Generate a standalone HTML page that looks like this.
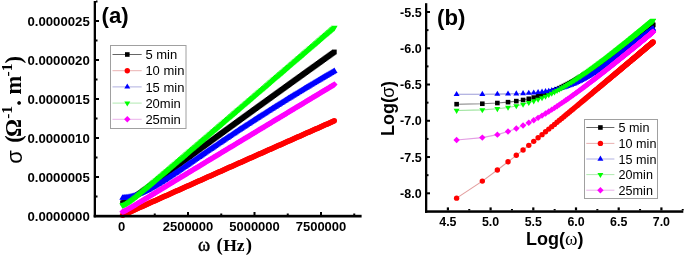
<!DOCTYPE html>
<html><head><meta charset="utf-8"><style>
*{margin:0;padding:0}
html,body{width:685px;height:256px;background:#fff;overflow:hidden}
svg{display:block;will-change:transform}
text{font-family:"Liberation Sans",sans-serif}
.tk{font-size:13px;font-weight:bold}
.pl{font-size:22.2px;font-weight:bold}
.ttl{font-size:18px;font-weight:bold}
.ser{font-family:"Liberation Serif",serif;font-weight:normal}
.ttl2{font-family:"Liberation Serif",serif;font-size:21px;font-weight:bold}
.lg{font-size:13px}
.sb{font-family:"Liberation Serif",serif;font-weight:bold}
.sr{font-family:"Liberation Sans",sans-serif;font-weight:normal}
</style></head>
<body><svg width="685" height="256" viewBox="0 0 685 256">
<g>
<path d="M122.56 202.79 L123.63 202.60 L124.69 202.30 L125.76 201.91 L126.82 201.44 L127.88 200.90 L128.95 200.32 L130.01 199.70 L131.08 199.04 L132.14 198.37 L133.20 197.67 L134.27 196.96 L135.33 196.24 L136.40 195.50 L137.46 194.76 L138.52 194.01 L139.59 193.26 L140.65 192.50 L141.72 191.74 L142.78 190.97 L143.84 190.20 L144.91 189.43 L145.97 188.66 L147.04 187.88 L148.10 187.11 L149.16 186.33 L150.23 185.55 L151.29 184.77 L152.36 183.99 L153.42 183.21 L154.48 182.43 L155.55 181.65 L156.61 180.87 L157.68 180.08 L158.74 179.30 L159.80 178.52 L160.87 177.74 L161.93 176.95 L163.00 176.17 L164.06 175.39 L165.12 174.60 L166.19 173.82 L167.25 173.04 L168.32 172.26 L169.38 171.47 L170.44 170.69 L171.51 169.91 L172.57 169.12 L173.64 168.34 L174.70 167.56 L175.76 166.78 L176.83 166.00 L177.89 165.21 L178.96 164.43 L180.02 163.65 L181.08 162.87 L182.15 162.09 L183.21 161.31 L184.28 160.53 L185.34 159.74 L186.40 158.96 L187.47 158.18 L188.53 157.40 L189.60 156.62 L190.66 155.84 L191.72 155.06 L192.79 154.28 L193.85 153.50 L194.92 152.73 L195.98 151.95 L197.04 151.17 L198.11 150.39 L199.17 149.61 L200.24 148.83 L201.30 148.05 L202.36 147.28 L203.43 146.50 L204.49 145.72 L205.56 144.94 L206.62 144.17 L207.68 143.39 L208.75 142.61 L209.81 141.84 L210.88 141.06 L211.94 140.28 L213.00 139.51 L214.07 138.73 L215.13 137.96 L216.20 137.18 L217.26 136.41 L218.32 135.63 L219.39 134.86 L220.45 134.08 L221.52 133.31 L222.58 132.53 L223.64 131.76 L224.71 130.98 L225.77 130.21 L226.84 129.44 L227.90 128.66 L228.96 127.89 L230.03 127.12 L231.09 126.34 L232.16 125.57 L233.22 124.80 L234.28 124.02 L235.35 123.25 L236.41 122.48 L237.48 121.71 L238.54 120.93 L239.60 120.16 L240.67 119.39 L241.73 118.62 L242.80 117.85 L243.86 117.08 L244.92 116.31 L245.99 115.53 L247.05 114.76 L248.12 113.99 L249.18 113.22 L250.24 112.45 L251.31 111.68 L252.37 110.91 L253.44 110.14 L254.50 109.37 L255.56 108.60 L256.63 107.83 L257.69 107.06 L258.76 106.29 L259.82 105.52 L260.88 104.76 L261.95 103.99 L263.01 103.22 L264.08 102.45 L265.14 101.68 L266.20 100.91 L267.27 100.14 L268.33 99.38 L269.40 98.61 L270.46 97.84 L271.52 97.07 L272.59 96.30 L273.65 95.54 L274.72 94.77 L275.78 94.00 L276.84 93.24 L277.91 92.47 L278.97 91.70 L280.04 90.93 L281.10 90.17 L282.16 89.40 L283.23 88.64 L284.29 87.87 L285.36 87.10 L286.42 86.34 L287.48 85.57 L288.55 84.81 L289.61 84.04 L290.68 83.27 L291.74 82.51 L292.80 81.74 L293.87 80.98 L294.93 80.21 L296.00 79.45 L297.06 78.68 L298.12 77.92 L299.19 77.15 L300.25 76.39 L301.32 75.62 L302.38 74.86 L303.44 74.10 L304.51 73.33 L305.57 72.57 L306.64 71.80 L307.70 71.04 L308.76 70.28 L309.83 69.51 L310.89 68.75 L311.96 67.99 L313.02 67.22 L314.08 66.46 L315.15 65.70 L316.21 64.93 L317.28 64.17 L318.34 63.41 L319.40 62.65 L320.47 61.88 L321.53 61.12 L322.60 60.36 L323.66 59.60 L324.72 58.83 L325.79 58.07 L326.85 57.31 L327.92 56.55 L328.98 55.79 L330.04 55.02 L331.11 54.26 L332.17 53.50 L333.24 52.74 L334.30 51.98" stroke="#000000" stroke-width="1" fill="none"/>
<rect x="120.16" y="200.39" width="4.80" height="4.80" fill="#000000"/>
<rect x="121.23" y="200.20" width="4.80" height="4.80" fill="#000000"/>
<rect x="122.29" y="199.90" width="4.80" height="4.80" fill="#000000"/>
<rect x="123.36" y="199.51" width="4.80" height="4.80" fill="#000000"/>
<rect x="124.42" y="199.04" width="4.80" height="4.80" fill="#000000"/>
<rect x="125.48" y="198.50" width="4.80" height="4.80" fill="#000000"/>
<rect x="126.55" y="197.92" width="4.80" height="4.80" fill="#000000"/>
<rect x="127.61" y="197.30" width="4.80" height="4.80" fill="#000000"/>
<rect x="128.68" y="196.64" width="4.80" height="4.80" fill="#000000"/>
<rect x="129.74" y="195.97" width="4.80" height="4.80" fill="#000000"/>
<rect x="130.80" y="195.27" width="4.80" height="4.80" fill="#000000"/>
<rect x="131.87" y="194.56" width="4.80" height="4.80" fill="#000000"/>
<rect x="132.93" y="193.84" width="4.80" height="4.80" fill="#000000"/>
<rect x="134.00" y="193.10" width="4.80" height="4.80" fill="#000000"/>
<rect x="135.06" y="192.36" width="4.80" height="4.80" fill="#000000"/>
<rect x="136.12" y="191.61" width="4.80" height="4.80" fill="#000000"/>
<rect x="137.19" y="190.86" width="4.80" height="4.80" fill="#000000"/>
<rect x="138.25" y="190.10" width="4.80" height="4.80" fill="#000000"/>
<rect x="139.32" y="189.34" width="4.80" height="4.80" fill="#000000"/>
<rect x="140.38" y="188.57" width="4.80" height="4.80" fill="#000000"/>
<rect x="141.44" y="187.80" width="4.80" height="4.80" fill="#000000"/>
<rect x="142.51" y="187.03" width="4.80" height="4.80" fill="#000000"/>
<rect x="143.57" y="186.26" width="4.80" height="4.80" fill="#000000"/>
<rect x="144.64" y="185.48" width="4.80" height="4.80" fill="#000000"/>
<rect x="145.70" y="184.71" width="4.80" height="4.80" fill="#000000"/>
<rect x="146.76" y="183.93" width="4.80" height="4.80" fill="#000000"/>
<rect x="147.83" y="183.15" width="4.80" height="4.80" fill="#000000"/>
<rect x="148.89" y="182.37" width="4.80" height="4.80" fill="#000000"/>
<rect x="149.96" y="181.59" width="4.80" height="4.80" fill="#000000"/>
<rect x="151.02" y="180.81" width="4.80" height="4.80" fill="#000000"/>
<rect x="152.08" y="180.03" width="4.80" height="4.80" fill="#000000"/>
<rect x="153.15" y="179.25" width="4.80" height="4.80" fill="#000000"/>
<rect x="154.21" y="178.47" width="4.80" height="4.80" fill="#000000"/>
<rect x="155.28" y="177.68" width="4.80" height="4.80" fill="#000000"/>
<rect x="156.34" y="176.90" width="4.80" height="4.80" fill="#000000"/>
<rect x="157.40" y="176.12" width="4.80" height="4.80" fill="#000000"/>
<rect x="158.47" y="175.34" width="4.80" height="4.80" fill="#000000"/>
<rect x="159.53" y="174.55" width="4.80" height="4.80" fill="#000000"/>
<rect x="160.60" y="173.77" width="4.80" height="4.80" fill="#000000"/>
<rect x="161.66" y="172.99" width="4.80" height="4.80" fill="#000000"/>
<rect x="162.72" y="172.20" width="4.80" height="4.80" fill="#000000"/>
<rect x="163.79" y="171.42" width="4.80" height="4.80" fill="#000000"/>
<rect x="164.85" y="170.64" width="4.80" height="4.80" fill="#000000"/>
<rect x="165.92" y="169.86" width="4.80" height="4.80" fill="#000000"/>
<rect x="166.98" y="169.07" width="4.80" height="4.80" fill="#000000"/>
<rect x="168.04" y="168.29" width="4.80" height="4.80" fill="#000000"/>
<rect x="169.11" y="167.51" width="4.80" height="4.80" fill="#000000"/>
<rect x="170.17" y="166.72" width="4.80" height="4.80" fill="#000000"/>
<rect x="171.24" y="165.94" width="4.80" height="4.80" fill="#000000"/>
<rect x="172.30" y="165.16" width="4.80" height="4.80" fill="#000000"/>
<rect x="173.36" y="164.38" width="4.80" height="4.80" fill="#000000"/>
<rect x="174.43" y="163.60" width="4.80" height="4.80" fill="#000000"/>
<rect x="175.49" y="162.81" width="4.80" height="4.80" fill="#000000"/>
<rect x="176.56" y="162.03" width="4.80" height="4.80" fill="#000000"/>
<rect x="177.62" y="161.25" width="4.80" height="4.80" fill="#000000"/>
<rect x="178.68" y="160.47" width="4.80" height="4.80" fill="#000000"/>
<rect x="179.75" y="159.69" width="4.80" height="4.80" fill="#000000"/>
<rect x="180.81" y="158.91" width="4.80" height="4.80" fill="#000000"/>
<rect x="181.88" y="158.13" width="4.80" height="4.80" fill="#000000"/>
<rect x="182.94" y="157.34" width="4.80" height="4.80" fill="#000000"/>
<rect x="184.00" y="156.56" width="4.80" height="4.80" fill="#000000"/>
<rect x="185.07" y="155.78" width="4.80" height="4.80" fill="#000000"/>
<rect x="186.13" y="155.00" width="4.80" height="4.80" fill="#000000"/>
<rect x="187.20" y="154.22" width="4.80" height="4.80" fill="#000000"/>
<rect x="188.26" y="153.44" width="4.80" height="4.80" fill="#000000"/>
<rect x="189.32" y="152.66" width="4.80" height="4.80" fill="#000000"/>
<rect x="190.39" y="151.88" width="4.80" height="4.80" fill="#000000"/>
<rect x="191.45" y="151.10" width="4.80" height="4.80" fill="#000000"/>
<rect x="192.52" y="150.33" width="4.80" height="4.80" fill="#000000"/>
<rect x="193.58" y="149.55" width="4.80" height="4.80" fill="#000000"/>
<rect x="194.64" y="148.77" width="4.80" height="4.80" fill="#000000"/>
<rect x="195.71" y="147.99" width="4.80" height="4.80" fill="#000000"/>
<rect x="196.77" y="147.21" width="4.80" height="4.80" fill="#000000"/>
<rect x="197.84" y="146.43" width="4.80" height="4.80" fill="#000000"/>
<rect x="198.90" y="145.65" width="4.80" height="4.80" fill="#000000"/>
<rect x="199.96" y="144.88" width="4.80" height="4.80" fill="#000000"/>
<rect x="201.03" y="144.10" width="4.80" height="4.80" fill="#000000"/>
<rect x="202.09" y="143.32" width="4.80" height="4.80" fill="#000000"/>
<rect x="203.16" y="142.54" width="4.80" height="4.80" fill="#000000"/>
<rect x="204.22" y="141.77" width="4.80" height="4.80" fill="#000000"/>
<rect x="205.28" y="140.99" width="4.80" height="4.80" fill="#000000"/>
<rect x="206.35" y="140.21" width="4.80" height="4.80" fill="#000000"/>
<rect x="207.41" y="139.44" width="4.80" height="4.80" fill="#000000"/>
<rect x="208.48" y="138.66" width="4.80" height="4.80" fill="#000000"/>
<rect x="209.54" y="137.88" width="4.80" height="4.80" fill="#000000"/>
<rect x="210.60" y="137.11" width="4.80" height="4.80" fill="#000000"/>
<rect x="211.67" y="136.33" width="4.80" height="4.80" fill="#000000"/>
<rect x="212.73" y="135.56" width="4.80" height="4.80" fill="#000000"/>
<rect x="213.80" y="134.78" width="4.80" height="4.80" fill="#000000"/>
<rect x="214.86" y="134.01" width="4.80" height="4.80" fill="#000000"/>
<rect x="215.92" y="133.23" width="4.80" height="4.80" fill="#000000"/>
<rect x="216.99" y="132.46" width="4.80" height="4.80" fill="#000000"/>
<rect x="218.05" y="131.68" width="4.80" height="4.80" fill="#000000"/>
<rect x="219.12" y="130.91" width="4.80" height="4.80" fill="#000000"/>
<rect x="220.18" y="130.13" width="4.80" height="4.80" fill="#000000"/>
<rect x="221.24" y="129.36" width="4.80" height="4.80" fill="#000000"/>
<rect x="222.31" y="128.58" width="4.80" height="4.80" fill="#000000"/>
<rect x="223.37" y="127.81" width="4.80" height="4.80" fill="#000000"/>
<rect x="224.44" y="127.04" width="4.80" height="4.80" fill="#000000"/>
<rect x="225.50" y="126.26" width="4.80" height="4.80" fill="#000000"/>
<rect x="226.56" y="125.49" width="4.80" height="4.80" fill="#000000"/>
<rect x="227.63" y="124.72" width="4.80" height="4.80" fill="#000000"/>
<rect x="228.69" y="123.94" width="4.80" height="4.80" fill="#000000"/>
<rect x="229.76" y="123.17" width="4.80" height="4.80" fill="#000000"/>
<rect x="230.82" y="122.40" width="4.80" height="4.80" fill="#000000"/>
<rect x="231.88" y="121.62" width="4.80" height="4.80" fill="#000000"/>
<rect x="232.95" y="120.85" width="4.80" height="4.80" fill="#000000"/>
<rect x="234.01" y="120.08" width="4.80" height="4.80" fill="#000000"/>
<rect x="235.08" y="119.31" width="4.80" height="4.80" fill="#000000"/>
<rect x="236.14" y="118.53" width="4.80" height="4.80" fill="#000000"/>
<rect x="237.20" y="117.76" width="4.80" height="4.80" fill="#000000"/>
<rect x="238.27" y="116.99" width="4.80" height="4.80" fill="#000000"/>
<rect x="239.33" y="116.22" width="4.80" height="4.80" fill="#000000"/>
<rect x="240.40" y="115.45" width="4.80" height="4.80" fill="#000000"/>
<rect x="241.46" y="114.68" width="4.80" height="4.80" fill="#000000"/>
<rect x="242.52" y="113.91" width="4.80" height="4.80" fill="#000000"/>
<rect x="243.59" y="113.13" width="4.80" height="4.80" fill="#000000"/>
<rect x="244.65" y="112.36" width="4.80" height="4.80" fill="#000000"/>
<rect x="245.72" y="111.59" width="4.80" height="4.80" fill="#000000"/>
<rect x="246.78" y="110.82" width="4.80" height="4.80" fill="#000000"/>
<rect x="247.84" y="110.05" width="4.80" height="4.80" fill="#000000"/>
<rect x="248.91" y="109.28" width="4.80" height="4.80" fill="#000000"/>
<rect x="249.97" y="108.51" width="4.80" height="4.80" fill="#000000"/>
<rect x="251.04" y="107.74" width="4.80" height="4.80" fill="#000000"/>
<rect x="252.10" y="106.97" width="4.80" height="4.80" fill="#000000"/>
<rect x="253.16" y="106.20" width="4.80" height="4.80" fill="#000000"/>
<rect x="254.23" y="105.43" width="4.80" height="4.80" fill="#000000"/>
<rect x="255.29" y="104.66" width="4.80" height="4.80" fill="#000000"/>
<rect x="256.36" y="103.89" width="4.80" height="4.80" fill="#000000"/>
<rect x="257.42" y="103.12" width="4.80" height="4.80" fill="#000000"/>
<rect x="258.48" y="102.36" width="4.80" height="4.80" fill="#000000"/>
<rect x="259.55" y="101.59" width="4.80" height="4.80" fill="#000000"/>
<rect x="260.61" y="100.82" width="4.80" height="4.80" fill="#000000"/>
<rect x="261.68" y="100.05" width="4.80" height="4.80" fill="#000000"/>
<rect x="262.74" y="99.28" width="4.80" height="4.80" fill="#000000"/>
<rect x="263.80" y="98.51" width="4.80" height="4.80" fill="#000000"/>
<rect x="264.87" y="97.74" width="4.80" height="4.80" fill="#000000"/>
<rect x="265.93" y="96.98" width="4.80" height="4.80" fill="#000000"/>
<rect x="267.00" y="96.21" width="4.80" height="4.80" fill="#000000"/>
<rect x="268.06" y="95.44" width="4.80" height="4.80" fill="#000000"/>
<rect x="269.12" y="94.67" width="4.80" height="4.80" fill="#000000"/>
<rect x="270.19" y="93.90" width="4.80" height="4.80" fill="#000000"/>
<rect x="271.25" y="93.14" width="4.80" height="4.80" fill="#000000"/>
<rect x="272.32" y="92.37" width="4.80" height="4.80" fill="#000000"/>
<rect x="273.38" y="91.60" width="4.80" height="4.80" fill="#000000"/>
<rect x="274.44" y="90.84" width="4.80" height="4.80" fill="#000000"/>
<rect x="275.51" y="90.07" width="4.80" height="4.80" fill="#000000"/>
<rect x="276.57" y="89.30" width="4.80" height="4.80" fill="#000000"/>
<rect x="277.64" y="88.53" width="4.80" height="4.80" fill="#000000"/>
<rect x="278.70" y="87.77" width="4.80" height="4.80" fill="#000000"/>
<rect x="279.76" y="87.00" width="4.80" height="4.80" fill="#000000"/>
<rect x="280.83" y="86.24" width="4.80" height="4.80" fill="#000000"/>
<rect x="281.89" y="85.47" width="4.80" height="4.80" fill="#000000"/>
<rect x="282.96" y="84.70" width="4.80" height="4.80" fill="#000000"/>
<rect x="284.02" y="83.94" width="4.80" height="4.80" fill="#000000"/>
<rect x="285.08" y="83.17" width="4.80" height="4.80" fill="#000000"/>
<rect x="286.15" y="82.41" width="4.80" height="4.80" fill="#000000"/>
<rect x="287.21" y="81.64" width="4.80" height="4.80" fill="#000000"/>
<rect x="288.28" y="80.87" width="4.80" height="4.80" fill="#000000"/>
<rect x="289.34" y="80.11" width="4.80" height="4.80" fill="#000000"/>
<rect x="290.40" y="79.34" width="4.80" height="4.80" fill="#000000"/>
<rect x="291.47" y="78.58" width="4.80" height="4.80" fill="#000000"/>
<rect x="292.53" y="77.81" width="4.80" height="4.80" fill="#000000"/>
<rect x="293.60" y="77.05" width="4.80" height="4.80" fill="#000000"/>
<rect x="294.66" y="76.28" width="4.80" height="4.80" fill="#000000"/>
<rect x="295.72" y="75.52" width="4.80" height="4.80" fill="#000000"/>
<rect x="296.79" y="74.75" width="4.80" height="4.80" fill="#000000"/>
<rect x="297.85" y="73.99" width="4.80" height="4.80" fill="#000000"/>
<rect x="298.92" y="73.22" width="4.80" height="4.80" fill="#000000"/>
<rect x="299.98" y="72.46" width="4.80" height="4.80" fill="#000000"/>
<rect x="301.04" y="71.70" width="4.80" height="4.80" fill="#000000"/>
<rect x="302.11" y="70.93" width="4.80" height="4.80" fill="#000000"/>
<rect x="303.17" y="70.17" width="4.80" height="4.80" fill="#000000"/>
<rect x="304.24" y="69.40" width="4.80" height="4.80" fill="#000000"/>
<rect x="305.30" y="68.64" width="4.80" height="4.80" fill="#000000"/>
<rect x="306.36" y="67.88" width="4.80" height="4.80" fill="#000000"/>
<rect x="307.43" y="67.11" width="4.80" height="4.80" fill="#000000"/>
<rect x="308.49" y="66.35" width="4.80" height="4.80" fill="#000000"/>
<rect x="309.56" y="65.59" width="4.80" height="4.80" fill="#000000"/>
<rect x="310.62" y="64.82" width="4.80" height="4.80" fill="#000000"/>
<rect x="311.68" y="64.06" width="4.80" height="4.80" fill="#000000"/>
<rect x="312.75" y="63.30" width="4.80" height="4.80" fill="#000000"/>
<rect x="313.81" y="62.53" width="4.80" height="4.80" fill="#000000"/>
<rect x="314.88" y="61.77" width="4.80" height="4.80" fill="#000000"/>
<rect x="315.94" y="61.01" width="4.80" height="4.80" fill="#000000"/>
<rect x="317.00" y="60.25" width="4.80" height="4.80" fill="#000000"/>
<rect x="318.07" y="59.48" width="4.80" height="4.80" fill="#000000"/>
<rect x="319.13" y="58.72" width="4.80" height="4.80" fill="#000000"/>
<rect x="320.20" y="57.96" width="4.80" height="4.80" fill="#000000"/>
<rect x="321.26" y="57.20" width="4.80" height="4.80" fill="#000000"/>
<rect x="322.32" y="56.43" width="4.80" height="4.80" fill="#000000"/>
<rect x="323.39" y="55.67" width="4.80" height="4.80" fill="#000000"/>
<rect x="324.45" y="54.91" width="4.80" height="4.80" fill="#000000"/>
<rect x="325.52" y="54.15" width="4.80" height="4.80" fill="#000000"/>
<rect x="326.58" y="53.39" width="4.80" height="4.80" fill="#000000"/>
<rect x="327.64" y="52.62" width="4.80" height="4.80" fill="#000000"/>
<rect x="328.71" y="51.86" width="4.80" height="4.80" fill="#000000"/>
<rect x="329.77" y="51.10" width="4.80" height="4.80" fill="#000000"/>
<rect x="330.84" y="50.34" width="4.80" height="4.80" fill="#000000"/>
<rect x="331.90" y="49.58" width="4.80" height="4.80" fill="#000000"/>
<path d="M122.56 215.33 L123.63 214.85 L124.69 214.37 L125.76 213.88 L126.82 213.39 L127.88 212.91 L128.95 212.43 L130.01 211.94 L131.08 211.46 L132.14 210.98 L133.20 210.49 L134.27 210.01 L135.33 209.53 L136.40 209.05 L137.46 208.56 L138.52 208.08 L139.59 207.60 L140.65 207.12 L141.72 206.64 L142.78 206.16 L143.84 205.68 L144.91 205.20 L145.97 204.72 L147.04 204.24 L148.10 203.76 L149.16 203.28 L150.23 202.80 L151.29 202.32 L152.36 201.85 L153.42 201.37 L154.48 200.89 L155.55 200.41 L156.61 199.93 L157.68 199.45 L158.74 198.98 L159.80 198.50 L160.87 198.02 L161.93 197.54 L163.00 197.06 L164.06 196.59 L165.12 196.11 L166.19 195.63 L167.25 195.16 L168.32 194.68 L169.38 194.20 L170.44 193.72 L171.51 193.25 L172.57 192.77 L173.64 192.29 L174.70 191.82 L175.76 191.34 L176.83 190.86 L177.89 190.39 L178.96 189.91 L180.02 189.44 L181.08 188.96 L182.15 188.48 L183.21 188.01 L184.28 187.53 L185.34 187.06 L186.40 186.58 L187.47 186.10 L188.53 185.63 L189.60 185.15 L190.66 184.68 L191.72 184.20 L192.79 183.73 L193.85 183.25 L194.92 182.78 L195.98 182.30 L197.04 181.82 L198.11 181.35 L199.17 180.87 L200.24 180.40 L201.30 179.92 L202.36 179.45 L203.43 178.97 L204.49 178.50 L205.56 178.02 L206.62 177.55 L207.68 177.08 L208.75 176.60 L209.81 176.13 L210.88 175.65 L211.94 175.18 L213.00 174.70 L214.07 174.23 L215.13 173.75 L216.20 173.28 L217.26 172.81 L218.32 172.33 L219.39 171.86 L220.45 171.38 L221.52 170.91 L222.58 170.43 L223.64 169.96 L224.71 169.49 L225.77 169.01 L226.84 168.54 L227.90 168.07 L228.96 167.59 L230.03 167.12 L231.09 166.64 L232.16 166.17 L233.22 165.70 L234.28 165.22 L235.35 164.75 L236.41 164.28 L237.48 163.80 L238.54 163.33 L239.60 162.86 L240.67 162.38 L241.73 161.91 L242.80 161.44 L243.86 160.96 L244.92 160.49 L245.99 160.02 L247.05 159.54 L248.12 159.07 L249.18 158.60 L250.24 158.12 L251.31 157.65 L252.37 157.18 L253.44 156.70 L254.50 156.23 L255.56 155.76 L256.63 155.29 L257.69 154.81 L258.76 154.34 L259.82 153.87 L260.88 153.39 L261.95 152.92 L263.01 152.45 L264.08 151.98 L265.14 151.50 L266.20 151.03 L267.27 150.56 L268.33 150.09 L269.40 149.61 L270.46 149.14 L271.52 148.67 L272.59 148.20 L273.65 147.72 L274.72 147.25 L275.78 146.78 L276.84 146.31 L277.91 145.83 L278.97 145.36 L280.04 144.89 L281.10 144.42 L282.16 143.95 L283.23 143.47 L284.29 143.00 L285.36 142.53 L286.42 142.06 L287.48 141.59 L288.55 141.11 L289.61 140.64 L290.68 140.17 L291.74 139.70 L292.80 139.23 L293.87 138.75 L294.93 138.28 L296.00 137.81 L297.06 137.34 L298.12 136.87 L299.19 136.39 L300.25 135.92 L301.32 135.45 L302.38 134.98 L303.44 134.51 L304.51 134.04 L305.57 133.56 L306.64 133.09 L307.70 132.62 L308.76 132.15 L309.83 131.68 L310.89 131.21 L311.96 130.73 L313.02 130.26 L314.08 129.79 L315.15 129.32 L316.21 128.85 L317.28 128.38 L318.34 127.91 L319.40 127.43 L320.47 126.96 L321.53 126.49 L322.60 126.02 L323.66 125.55 L324.72 125.08 L325.79 124.61 L326.85 124.14 L327.92 123.66 L328.98 123.19 L330.04 122.72 L331.11 122.25 L332.17 121.78 L333.24 121.31 L334.30 120.84" stroke="#c83c3c" stroke-width="1" fill="none"/>
<circle cx="122.56" cy="215.33" r="2.75" fill="#ff0000"/>
<circle cx="123.63" cy="214.85" r="2.75" fill="#ff0000"/>
<circle cx="124.69" cy="214.37" r="2.75" fill="#ff0000"/>
<circle cx="125.76" cy="213.88" r="2.75" fill="#ff0000"/>
<circle cx="126.82" cy="213.39" r="2.75" fill="#ff0000"/>
<circle cx="127.88" cy="212.91" r="2.75" fill="#ff0000"/>
<circle cx="128.95" cy="212.43" r="2.75" fill="#ff0000"/>
<circle cx="130.01" cy="211.94" r="2.75" fill="#ff0000"/>
<circle cx="131.08" cy="211.46" r="2.75" fill="#ff0000"/>
<circle cx="132.14" cy="210.98" r="2.75" fill="#ff0000"/>
<circle cx="133.20" cy="210.49" r="2.75" fill="#ff0000"/>
<circle cx="134.27" cy="210.01" r="2.75" fill="#ff0000"/>
<circle cx="135.33" cy="209.53" r="2.75" fill="#ff0000"/>
<circle cx="136.40" cy="209.05" r="2.75" fill="#ff0000"/>
<circle cx="137.46" cy="208.56" r="2.75" fill="#ff0000"/>
<circle cx="138.52" cy="208.08" r="2.75" fill="#ff0000"/>
<circle cx="139.59" cy="207.60" r="2.75" fill="#ff0000"/>
<circle cx="140.65" cy="207.12" r="2.75" fill="#ff0000"/>
<circle cx="141.72" cy="206.64" r="2.75" fill="#ff0000"/>
<circle cx="142.78" cy="206.16" r="2.75" fill="#ff0000"/>
<circle cx="143.84" cy="205.68" r="2.75" fill="#ff0000"/>
<circle cx="144.91" cy="205.20" r="2.75" fill="#ff0000"/>
<circle cx="145.97" cy="204.72" r="2.75" fill="#ff0000"/>
<circle cx="147.04" cy="204.24" r="2.75" fill="#ff0000"/>
<circle cx="148.10" cy="203.76" r="2.75" fill="#ff0000"/>
<circle cx="149.16" cy="203.28" r="2.75" fill="#ff0000"/>
<circle cx="150.23" cy="202.80" r="2.75" fill="#ff0000"/>
<circle cx="151.29" cy="202.32" r="2.75" fill="#ff0000"/>
<circle cx="152.36" cy="201.85" r="2.75" fill="#ff0000"/>
<circle cx="153.42" cy="201.37" r="2.75" fill="#ff0000"/>
<circle cx="154.48" cy="200.89" r="2.75" fill="#ff0000"/>
<circle cx="155.55" cy="200.41" r="2.75" fill="#ff0000"/>
<circle cx="156.61" cy="199.93" r="2.75" fill="#ff0000"/>
<circle cx="157.68" cy="199.45" r="2.75" fill="#ff0000"/>
<circle cx="158.74" cy="198.98" r="2.75" fill="#ff0000"/>
<circle cx="159.80" cy="198.50" r="2.75" fill="#ff0000"/>
<circle cx="160.87" cy="198.02" r="2.75" fill="#ff0000"/>
<circle cx="161.93" cy="197.54" r="2.75" fill="#ff0000"/>
<circle cx="163.00" cy="197.06" r="2.75" fill="#ff0000"/>
<circle cx="164.06" cy="196.59" r="2.75" fill="#ff0000"/>
<circle cx="165.12" cy="196.11" r="2.75" fill="#ff0000"/>
<circle cx="166.19" cy="195.63" r="2.75" fill="#ff0000"/>
<circle cx="167.25" cy="195.16" r="2.75" fill="#ff0000"/>
<circle cx="168.32" cy="194.68" r="2.75" fill="#ff0000"/>
<circle cx="169.38" cy="194.20" r="2.75" fill="#ff0000"/>
<circle cx="170.44" cy="193.72" r="2.75" fill="#ff0000"/>
<circle cx="171.51" cy="193.25" r="2.75" fill="#ff0000"/>
<circle cx="172.57" cy="192.77" r="2.75" fill="#ff0000"/>
<circle cx="173.64" cy="192.29" r="2.75" fill="#ff0000"/>
<circle cx="174.70" cy="191.82" r="2.75" fill="#ff0000"/>
<circle cx="175.76" cy="191.34" r="2.75" fill="#ff0000"/>
<circle cx="176.83" cy="190.86" r="2.75" fill="#ff0000"/>
<circle cx="177.89" cy="190.39" r="2.75" fill="#ff0000"/>
<circle cx="178.96" cy="189.91" r="2.75" fill="#ff0000"/>
<circle cx="180.02" cy="189.44" r="2.75" fill="#ff0000"/>
<circle cx="181.08" cy="188.96" r="2.75" fill="#ff0000"/>
<circle cx="182.15" cy="188.48" r="2.75" fill="#ff0000"/>
<circle cx="183.21" cy="188.01" r="2.75" fill="#ff0000"/>
<circle cx="184.28" cy="187.53" r="2.75" fill="#ff0000"/>
<circle cx="185.34" cy="187.06" r="2.75" fill="#ff0000"/>
<circle cx="186.40" cy="186.58" r="2.75" fill="#ff0000"/>
<circle cx="187.47" cy="186.10" r="2.75" fill="#ff0000"/>
<circle cx="188.53" cy="185.63" r="2.75" fill="#ff0000"/>
<circle cx="189.60" cy="185.15" r="2.75" fill="#ff0000"/>
<circle cx="190.66" cy="184.68" r="2.75" fill="#ff0000"/>
<circle cx="191.72" cy="184.20" r="2.75" fill="#ff0000"/>
<circle cx="192.79" cy="183.73" r="2.75" fill="#ff0000"/>
<circle cx="193.85" cy="183.25" r="2.75" fill="#ff0000"/>
<circle cx="194.92" cy="182.78" r="2.75" fill="#ff0000"/>
<circle cx="195.98" cy="182.30" r="2.75" fill="#ff0000"/>
<circle cx="197.04" cy="181.82" r="2.75" fill="#ff0000"/>
<circle cx="198.11" cy="181.35" r="2.75" fill="#ff0000"/>
<circle cx="199.17" cy="180.87" r="2.75" fill="#ff0000"/>
<circle cx="200.24" cy="180.40" r="2.75" fill="#ff0000"/>
<circle cx="201.30" cy="179.92" r="2.75" fill="#ff0000"/>
<circle cx="202.36" cy="179.45" r="2.75" fill="#ff0000"/>
<circle cx="203.43" cy="178.97" r="2.75" fill="#ff0000"/>
<circle cx="204.49" cy="178.50" r="2.75" fill="#ff0000"/>
<circle cx="205.56" cy="178.02" r="2.75" fill="#ff0000"/>
<circle cx="206.62" cy="177.55" r="2.75" fill="#ff0000"/>
<circle cx="207.68" cy="177.08" r="2.75" fill="#ff0000"/>
<circle cx="208.75" cy="176.60" r="2.75" fill="#ff0000"/>
<circle cx="209.81" cy="176.13" r="2.75" fill="#ff0000"/>
<circle cx="210.88" cy="175.65" r="2.75" fill="#ff0000"/>
<circle cx="211.94" cy="175.18" r="2.75" fill="#ff0000"/>
<circle cx="213.00" cy="174.70" r="2.75" fill="#ff0000"/>
<circle cx="214.07" cy="174.23" r="2.75" fill="#ff0000"/>
<circle cx="215.13" cy="173.75" r="2.75" fill="#ff0000"/>
<circle cx="216.20" cy="173.28" r="2.75" fill="#ff0000"/>
<circle cx="217.26" cy="172.81" r="2.75" fill="#ff0000"/>
<circle cx="218.32" cy="172.33" r="2.75" fill="#ff0000"/>
<circle cx="219.39" cy="171.86" r="2.75" fill="#ff0000"/>
<circle cx="220.45" cy="171.38" r="2.75" fill="#ff0000"/>
<circle cx="221.52" cy="170.91" r="2.75" fill="#ff0000"/>
<circle cx="222.58" cy="170.43" r="2.75" fill="#ff0000"/>
<circle cx="223.64" cy="169.96" r="2.75" fill="#ff0000"/>
<circle cx="224.71" cy="169.49" r="2.75" fill="#ff0000"/>
<circle cx="225.77" cy="169.01" r="2.75" fill="#ff0000"/>
<circle cx="226.84" cy="168.54" r="2.75" fill="#ff0000"/>
<circle cx="227.90" cy="168.07" r="2.75" fill="#ff0000"/>
<circle cx="228.96" cy="167.59" r="2.75" fill="#ff0000"/>
<circle cx="230.03" cy="167.12" r="2.75" fill="#ff0000"/>
<circle cx="231.09" cy="166.64" r="2.75" fill="#ff0000"/>
<circle cx="232.16" cy="166.17" r="2.75" fill="#ff0000"/>
<circle cx="233.22" cy="165.70" r="2.75" fill="#ff0000"/>
<circle cx="234.28" cy="165.22" r="2.75" fill="#ff0000"/>
<circle cx="235.35" cy="164.75" r="2.75" fill="#ff0000"/>
<circle cx="236.41" cy="164.28" r="2.75" fill="#ff0000"/>
<circle cx="237.48" cy="163.80" r="2.75" fill="#ff0000"/>
<circle cx="238.54" cy="163.33" r="2.75" fill="#ff0000"/>
<circle cx="239.60" cy="162.86" r="2.75" fill="#ff0000"/>
<circle cx="240.67" cy="162.38" r="2.75" fill="#ff0000"/>
<circle cx="241.73" cy="161.91" r="2.75" fill="#ff0000"/>
<circle cx="242.80" cy="161.44" r="2.75" fill="#ff0000"/>
<circle cx="243.86" cy="160.96" r="2.75" fill="#ff0000"/>
<circle cx="244.92" cy="160.49" r="2.75" fill="#ff0000"/>
<circle cx="245.99" cy="160.02" r="2.75" fill="#ff0000"/>
<circle cx="247.05" cy="159.54" r="2.75" fill="#ff0000"/>
<circle cx="248.12" cy="159.07" r="2.75" fill="#ff0000"/>
<circle cx="249.18" cy="158.60" r="2.75" fill="#ff0000"/>
<circle cx="250.24" cy="158.12" r="2.75" fill="#ff0000"/>
<circle cx="251.31" cy="157.65" r="2.75" fill="#ff0000"/>
<circle cx="252.37" cy="157.18" r="2.75" fill="#ff0000"/>
<circle cx="253.44" cy="156.70" r="2.75" fill="#ff0000"/>
<circle cx="254.50" cy="156.23" r="2.75" fill="#ff0000"/>
<circle cx="255.56" cy="155.76" r="2.75" fill="#ff0000"/>
<circle cx="256.63" cy="155.29" r="2.75" fill="#ff0000"/>
<circle cx="257.69" cy="154.81" r="2.75" fill="#ff0000"/>
<circle cx="258.76" cy="154.34" r="2.75" fill="#ff0000"/>
<circle cx="259.82" cy="153.87" r="2.75" fill="#ff0000"/>
<circle cx="260.88" cy="153.39" r="2.75" fill="#ff0000"/>
<circle cx="261.95" cy="152.92" r="2.75" fill="#ff0000"/>
<circle cx="263.01" cy="152.45" r="2.75" fill="#ff0000"/>
<circle cx="264.08" cy="151.98" r="2.75" fill="#ff0000"/>
<circle cx="265.14" cy="151.50" r="2.75" fill="#ff0000"/>
<circle cx="266.20" cy="151.03" r="2.75" fill="#ff0000"/>
<circle cx="267.27" cy="150.56" r="2.75" fill="#ff0000"/>
<circle cx="268.33" cy="150.09" r="2.75" fill="#ff0000"/>
<circle cx="269.40" cy="149.61" r="2.75" fill="#ff0000"/>
<circle cx="270.46" cy="149.14" r="2.75" fill="#ff0000"/>
<circle cx="271.52" cy="148.67" r="2.75" fill="#ff0000"/>
<circle cx="272.59" cy="148.20" r="2.75" fill="#ff0000"/>
<circle cx="273.65" cy="147.72" r="2.75" fill="#ff0000"/>
<circle cx="274.72" cy="147.25" r="2.75" fill="#ff0000"/>
<circle cx="275.78" cy="146.78" r="2.75" fill="#ff0000"/>
<circle cx="276.84" cy="146.31" r="2.75" fill="#ff0000"/>
<circle cx="277.91" cy="145.83" r="2.75" fill="#ff0000"/>
<circle cx="278.97" cy="145.36" r="2.75" fill="#ff0000"/>
<circle cx="280.04" cy="144.89" r="2.75" fill="#ff0000"/>
<circle cx="281.10" cy="144.42" r="2.75" fill="#ff0000"/>
<circle cx="282.16" cy="143.95" r="2.75" fill="#ff0000"/>
<circle cx="283.23" cy="143.47" r="2.75" fill="#ff0000"/>
<circle cx="284.29" cy="143.00" r="2.75" fill="#ff0000"/>
<circle cx="285.36" cy="142.53" r="2.75" fill="#ff0000"/>
<circle cx="286.42" cy="142.06" r="2.75" fill="#ff0000"/>
<circle cx="287.48" cy="141.59" r="2.75" fill="#ff0000"/>
<circle cx="288.55" cy="141.11" r="2.75" fill="#ff0000"/>
<circle cx="289.61" cy="140.64" r="2.75" fill="#ff0000"/>
<circle cx="290.68" cy="140.17" r="2.75" fill="#ff0000"/>
<circle cx="291.74" cy="139.70" r="2.75" fill="#ff0000"/>
<circle cx="292.80" cy="139.23" r="2.75" fill="#ff0000"/>
<circle cx="293.87" cy="138.75" r="2.75" fill="#ff0000"/>
<circle cx="294.93" cy="138.28" r="2.75" fill="#ff0000"/>
<circle cx="296.00" cy="137.81" r="2.75" fill="#ff0000"/>
<circle cx="297.06" cy="137.34" r="2.75" fill="#ff0000"/>
<circle cx="298.12" cy="136.87" r="2.75" fill="#ff0000"/>
<circle cx="299.19" cy="136.39" r="2.75" fill="#ff0000"/>
<circle cx="300.25" cy="135.92" r="2.75" fill="#ff0000"/>
<circle cx="301.32" cy="135.45" r="2.75" fill="#ff0000"/>
<circle cx="302.38" cy="134.98" r="2.75" fill="#ff0000"/>
<circle cx="303.44" cy="134.51" r="2.75" fill="#ff0000"/>
<circle cx="304.51" cy="134.04" r="2.75" fill="#ff0000"/>
<circle cx="305.57" cy="133.56" r="2.75" fill="#ff0000"/>
<circle cx="306.64" cy="133.09" r="2.75" fill="#ff0000"/>
<circle cx="307.70" cy="132.62" r="2.75" fill="#ff0000"/>
<circle cx="308.76" cy="132.15" r="2.75" fill="#ff0000"/>
<circle cx="309.83" cy="131.68" r="2.75" fill="#ff0000"/>
<circle cx="310.89" cy="131.21" r="2.75" fill="#ff0000"/>
<circle cx="311.96" cy="130.73" r="2.75" fill="#ff0000"/>
<circle cx="313.02" cy="130.26" r="2.75" fill="#ff0000"/>
<circle cx="314.08" cy="129.79" r="2.75" fill="#ff0000"/>
<circle cx="315.15" cy="129.32" r="2.75" fill="#ff0000"/>
<circle cx="316.21" cy="128.85" r="2.75" fill="#ff0000"/>
<circle cx="317.28" cy="128.38" r="2.75" fill="#ff0000"/>
<circle cx="318.34" cy="127.91" r="2.75" fill="#ff0000"/>
<circle cx="319.40" cy="127.43" r="2.75" fill="#ff0000"/>
<circle cx="320.47" cy="126.96" r="2.75" fill="#ff0000"/>
<circle cx="321.53" cy="126.49" r="2.75" fill="#ff0000"/>
<circle cx="322.60" cy="126.02" r="2.75" fill="#ff0000"/>
<circle cx="323.66" cy="125.55" r="2.75" fill="#ff0000"/>
<circle cx="324.72" cy="125.08" r="2.75" fill="#ff0000"/>
<circle cx="325.79" cy="124.61" r="2.75" fill="#ff0000"/>
<circle cx="326.85" cy="124.14" r="2.75" fill="#ff0000"/>
<circle cx="327.92" cy="123.66" r="2.75" fill="#ff0000"/>
<circle cx="328.98" cy="123.19" r="2.75" fill="#ff0000"/>
<circle cx="330.04" cy="122.72" r="2.75" fill="#ff0000"/>
<circle cx="331.11" cy="122.25" r="2.75" fill="#ff0000"/>
<circle cx="332.17" cy="121.78" r="2.75" fill="#ff0000"/>
<circle cx="333.24" cy="121.31" r="2.75" fill="#ff0000"/>
<circle cx="334.30" cy="120.84" r="2.75" fill="#ff0000"/>
<path d="M122.56 197.91 L123.63 197.87 L124.69 197.80 L125.76 197.70 L126.82 197.57 L127.88 197.42 L128.95 197.24 L130.01 197.03 L131.08 196.79 L132.14 196.53 L133.20 196.25 L134.27 195.94 L135.33 195.61 L136.40 195.26 L137.46 194.88 L138.52 194.48 L139.59 194.07 L140.65 193.63 L141.72 193.18 L142.78 192.71 L143.84 192.22 L144.91 191.72 L145.97 191.20 L147.04 190.66 L148.10 190.12 L149.16 189.56 L150.23 188.99 L151.29 188.40 L152.36 187.81 L153.42 187.21 L154.48 186.59 L155.55 185.97 L156.61 185.34 L157.68 184.70 L158.74 184.05 L159.80 183.40 L160.87 182.74 L161.93 182.07 L163.00 181.40 L164.06 180.72 L165.12 180.04 L166.19 179.36 L167.25 178.66 L168.32 177.97 L169.38 177.27 L170.44 176.57 L171.51 175.86 L172.57 175.16 L173.64 174.45 L174.70 173.73 L175.76 173.02 L176.83 172.30 L177.89 171.58 L178.96 170.86 L180.02 170.14 L181.08 169.42 L182.15 168.69 L183.21 167.97 L184.28 167.24 L185.34 166.51 L186.40 165.78 L187.47 165.06 L188.53 164.33 L189.60 163.60 L190.66 162.87 L191.72 162.14 L192.79 161.41 L193.85 160.68 L194.92 159.94 L195.98 159.21 L197.04 158.48 L198.11 157.75 L199.17 157.02 L200.24 156.29 L201.30 155.57 L202.36 154.84 L203.43 154.11 L204.49 153.38 L205.56 152.65 L206.62 151.93 L207.68 151.20 L208.75 150.47 L209.81 149.75 L210.88 149.02 L211.94 148.30 L213.00 147.58 L214.07 146.86 L215.13 146.13 L216.20 145.41 L217.26 144.69 L218.32 143.97 L219.39 143.26 L220.45 142.54 L221.52 141.82 L222.58 141.11 L223.64 140.39 L224.71 139.68 L225.77 138.96 L226.84 138.25 L227.90 137.54 L228.96 136.83 L230.03 136.12 L231.09 135.41 L232.16 134.71 L233.22 134.00 L234.28 133.29 L235.35 132.59 L236.41 131.89 L237.48 131.18 L238.54 130.48 L239.60 129.78 L240.67 129.08 L241.73 128.38 L242.80 127.69 L243.86 126.99 L244.92 126.29 L245.99 125.60 L247.05 124.90 L248.12 124.21 L249.18 123.52 L250.24 122.83 L251.31 122.14 L252.37 121.45 L253.44 120.76 L254.50 120.08 L255.56 119.39 L256.63 118.70 L257.69 118.02 L258.76 117.34 L259.82 116.66 L260.88 115.97 L261.95 115.29 L263.01 114.62 L264.08 113.94 L265.14 113.26 L266.20 112.58 L267.27 111.91 L268.33 111.23 L269.40 110.56 L270.46 109.89 L271.52 109.22 L272.59 108.55 L273.65 107.88 L274.72 107.21 L275.78 106.54 L276.84 105.87 L277.91 105.21 L278.97 104.54 L280.04 103.88 L281.10 103.22 L282.16 102.55 L283.23 101.89 L284.29 101.23 L285.36 100.57 L286.42 99.91 L287.48 99.26 L288.55 98.60 L289.61 97.94 L290.68 97.29 L291.74 96.63 L292.80 95.98 L293.87 95.33 L294.93 94.68 L296.00 94.03 L297.06 93.38 L298.12 92.73 L299.19 92.08 L300.25 91.43 L301.32 90.79 L302.38 90.14 L303.44 89.50 L304.51 88.85 L305.57 88.21 L306.64 87.57 L307.70 86.93 L308.76 86.29 L309.83 85.65 L310.89 85.01 L311.96 84.37 L313.02 83.73 L314.08 83.09 L315.15 82.46 L316.21 81.82 L317.28 81.19 L318.34 80.56 L319.40 79.92 L320.47 79.29 L321.53 78.66 L322.60 78.03 L323.66 77.40 L324.72 76.77 L325.79 76.14 L326.85 75.52 L327.92 74.89 L328.98 74.27 L330.04 73.64 L331.11 73.02 L332.17 72.39 L333.24 71.77 L334.30 71.15" stroke="#3c3cb4" stroke-width="1" fill="none"/>
<path d="M122.56 194.18L125.84 199.78L119.29 199.78Z" fill="#0000ff"/>
<path d="M123.63 194.14L126.90 199.74L120.35 199.74Z" fill="#0000ff"/>
<path d="M124.69 194.07L127.97 199.67L121.42 199.67Z" fill="#0000ff"/>
<path d="M125.76 193.97L129.03 199.57L122.48 199.57Z" fill="#0000ff"/>
<path d="M126.82 193.84L130.10 199.44L123.54 199.44Z" fill="#0000ff"/>
<path d="M127.88 193.69L131.16 199.29L124.61 199.29Z" fill="#0000ff"/>
<path d="M128.95 193.50L132.22 199.10L125.67 199.10Z" fill="#0000ff"/>
<path d="M130.01 193.30L133.29 198.90L126.74 198.90Z" fill="#0000ff"/>
<path d="M131.08 193.06L134.35 198.66L127.80 198.66Z" fill="#0000ff"/>
<path d="M132.14 192.80L135.42 198.40L128.86 198.40Z" fill="#0000ff"/>
<path d="M133.20 192.52L136.48 198.12L129.93 198.12Z" fill="#0000ff"/>
<path d="M134.27 192.21L137.54 197.81L130.99 197.81Z" fill="#0000ff"/>
<path d="M135.33 191.88L138.61 197.48L132.06 197.48Z" fill="#0000ff"/>
<path d="M136.40 191.52L139.67 197.12L133.12 197.12Z" fill="#0000ff"/>
<path d="M137.46 191.15L140.74 196.75L134.18 196.75Z" fill="#0000ff"/>
<path d="M138.52 190.75L141.80 196.35L135.25 196.35Z" fill="#0000ff"/>
<path d="M139.59 190.34L142.86 195.94L136.31 195.94Z" fill="#0000ff"/>
<path d="M140.65 189.90L143.93 195.50L137.38 195.50Z" fill="#0000ff"/>
<path d="M141.72 189.45L144.99 195.05L138.44 195.05Z" fill="#0000ff"/>
<path d="M142.78 188.97L146.06 194.57L139.50 194.57Z" fill="#0000ff"/>
<path d="M143.84 188.49L147.12 194.09L140.57 194.09Z" fill="#0000ff"/>
<path d="M144.91 187.98L148.18 193.58L141.63 193.58Z" fill="#0000ff"/>
<path d="M145.97 187.46L149.25 193.06L142.70 193.06Z" fill="#0000ff"/>
<path d="M147.04 186.93L150.31 192.53L143.76 192.53Z" fill="#0000ff"/>
<path d="M148.10 186.38L151.38 191.98L144.82 191.98Z" fill="#0000ff"/>
<path d="M149.16 185.82L152.44 191.42L145.89 191.42Z" fill="#0000ff"/>
<path d="M150.23 185.25L153.50 190.85L146.95 190.85Z" fill="#0000ff"/>
<path d="M151.29 184.67L154.57 190.27L148.02 190.27Z" fill="#0000ff"/>
<path d="M152.36 184.08L155.63 189.68L149.08 189.68Z" fill="#0000ff"/>
<path d="M153.42 183.47L156.70 189.07L150.14 189.07Z" fill="#0000ff"/>
<path d="M154.48 182.86L157.76 188.46L151.21 188.46Z" fill="#0000ff"/>
<path d="M155.55 182.24L158.82 187.84L152.27 187.84Z" fill="#0000ff"/>
<path d="M156.61 181.60L159.89 187.20L153.34 187.20Z" fill="#0000ff"/>
<path d="M157.68 180.97L160.95 186.57L154.40 186.57Z" fill="#0000ff"/>
<path d="M158.74 180.32L162.02 185.92L155.46 185.92Z" fill="#0000ff"/>
<path d="M159.80 179.67L163.08 185.27L156.53 185.27Z" fill="#0000ff"/>
<path d="M160.87 179.01L164.14 184.61L157.59 184.61Z" fill="#0000ff"/>
<path d="M161.93 178.34L165.21 183.94L158.66 183.94Z" fill="#0000ff"/>
<path d="M163.00 177.67L166.27 183.27L159.72 183.27Z" fill="#0000ff"/>
<path d="M164.06 176.99L167.34 182.59L160.78 182.59Z" fill="#0000ff"/>
<path d="M165.12 176.31L168.40 181.91L161.85 181.91Z" fill="#0000ff"/>
<path d="M166.19 175.62L169.46 181.22L162.91 181.22Z" fill="#0000ff"/>
<path d="M167.25 174.93L170.53 180.53L163.98 180.53Z" fill="#0000ff"/>
<path d="M168.32 174.24L171.59 179.84L165.04 179.84Z" fill="#0000ff"/>
<path d="M169.38 173.54L172.66 179.14L166.10 179.14Z" fill="#0000ff"/>
<path d="M170.44 172.84L173.72 178.44L167.17 178.44Z" fill="#0000ff"/>
<path d="M171.51 172.13L174.78 177.73L168.23 177.73Z" fill="#0000ff"/>
<path d="M172.57 171.42L175.85 177.02L169.30 177.02Z" fill="#0000ff"/>
<path d="M173.64 170.71L176.91 176.31L170.36 176.31Z" fill="#0000ff"/>
<path d="M174.70 170.00L177.98 175.60L171.42 175.60Z" fill="#0000ff"/>
<path d="M175.76 169.29L179.04 174.89L172.49 174.89Z" fill="#0000ff"/>
<path d="M176.83 168.57L180.10 174.17L173.55 174.17Z" fill="#0000ff"/>
<path d="M177.89 167.85L181.17 173.45L174.62 173.45Z" fill="#0000ff"/>
<path d="M178.96 167.13L182.23 172.73L175.68 172.73Z" fill="#0000ff"/>
<path d="M180.02 166.41L183.30 172.01L176.74 172.01Z" fill="#0000ff"/>
<path d="M181.08 165.68L184.36 171.28L177.81 171.28Z" fill="#0000ff"/>
<path d="M182.15 164.96L185.42 170.56L178.87 170.56Z" fill="#0000ff"/>
<path d="M183.21 164.23L186.49 169.83L179.94 169.83Z" fill="#0000ff"/>
<path d="M184.28 163.51L187.55 169.11L181.00 169.11Z" fill="#0000ff"/>
<path d="M185.34 162.78L188.62 168.38L182.06 168.38Z" fill="#0000ff"/>
<path d="M186.40 162.05L189.68 167.65L183.13 167.65Z" fill="#0000ff"/>
<path d="M187.47 161.32L190.74 166.92L184.19 166.92Z" fill="#0000ff"/>
<path d="M188.53 160.59L191.81 166.19L185.26 166.19Z" fill="#0000ff"/>
<path d="M189.60 159.86L192.87 165.46L186.32 165.46Z" fill="#0000ff"/>
<path d="M190.66 159.13L193.94 164.73L187.38 164.73Z" fill="#0000ff"/>
<path d="M191.72 158.40L195.00 164.00L188.45 164.00Z" fill="#0000ff"/>
<path d="M192.79 157.67L196.06 163.27L189.51 163.27Z" fill="#0000ff"/>
<path d="M193.85 156.94L197.13 162.54L190.58 162.54Z" fill="#0000ff"/>
<path d="M194.92 156.21L198.19 161.81L191.64 161.81Z" fill="#0000ff"/>
<path d="M195.98 155.48L199.26 161.08L192.70 161.08Z" fill="#0000ff"/>
<path d="M197.04 154.75L200.32 160.35L193.77 160.35Z" fill="#0000ff"/>
<path d="M198.11 154.02L201.38 159.62L194.83 159.62Z" fill="#0000ff"/>
<path d="M199.17 153.29L202.45 158.89L195.90 158.89Z" fill="#0000ff"/>
<path d="M200.24 152.56L203.51 158.16L196.96 158.16Z" fill="#0000ff"/>
<path d="M201.30 151.83L204.58 157.43L198.02 157.43Z" fill="#0000ff"/>
<path d="M202.36 151.10L205.64 156.70L199.09 156.70Z" fill="#0000ff"/>
<path d="M203.43 150.38L206.70 155.98L200.15 155.98Z" fill="#0000ff"/>
<path d="M204.49 149.65L207.77 155.25L201.22 155.25Z" fill="#0000ff"/>
<path d="M205.56 148.92L208.83 154.52L202.28 154.52Z" fill="#0000ff"/>
<path d="M206.62 148.19L209.90 153.79L203.34 153.79Z" fill="#0000ff"/>
<path d="M207.68 147.47L210.96 153.07L204.41 153.07Z" fill="#0000ff"/>
<path d="M208.75 146.74L212.02 152.34L205.47 152.34Z" fill="#0000ff"/>
<path d="M209.81 146.02L213.09 151.62L206.54 151.62Z" fill="#0000ff"/>
<path d="M210.88 145.29L214.15 150.89L207.60 150.89Z" fill="#0000ff"/>
<path d="M211.94 144.57L215.22 150.17L208.66 150.17Z" fill="#0000ff"/>
<path d="M213.00 143.84L216.28 149.44L209.73 149.44Z" fill="#0000ff"/>
<path d="M214.07 143.12L217.34 148.72L210.79 148.72Z" fill="#0000ff"/>
<path d="M215.13 142.40L218.41 148.00L211.86 148.00Z" fill="#0000ff"/>
<path d="M216.20 141.68L219.47 147.28L212.92 147.28Z" fill="#0000ff"/>
<path d="M217.26 140.96L220.54 146.56L213.98 146.56Z" fill="#0000ff"/>
<path d="M218.32 140.24L221.60 145.84L215.05 145.84Z" fill="#0000ff"/>
<path d="M219.39 139.52L222.66 145.12L216.11 145.12Z" fill="#0000ff"/>
<path d="M220.45 138.81L223.73 144.41L217.18 144.41Z" fill="#0000ff"/>
<path d="M221.52 138.09L224.79 143.69L218.24 143.69Z" fill="#0000ff"/>
<path d="M222.58 137.37L225.86 142.97L219.30 142.97Z" fill="#0000ff"/>
<path d="M223.64 136.66L226.92 142.26L220.37 142.26Z" fill="#0000ff"/>
<path d="M224.71 135.94L227.98 141.54L221.43 141.54Z" fill="#0000ff"/>
<path d="M225.77 135.23L229.05 140.83L222.50 140.83Z" fill="#0000ff"/>
<path d="M226.84 134.52L230.11 140.12L223.56 140.12Z" fill="#0000ff"/>
<path d="M227.90 133.81L231.18 139.41L224.62 139.41Z" fill="#0000ff"/>
<path d="M228.96 133.10L232.24 138.70L225.69 138.70Z" fill="#0000ff"/>
<path d="M230.03 132.39L233.30 137.99L226.75 137.99Z" fill="#0000ff"/>
<path d="M231.09 131.68L234.37 137.28L227.82 137.28Z" fill="#0000ff"/>
<path d="M232.16 130.97L235.43 136.57L228.88 136.57Z" fill="#0000ff"/>
<path d="M233.22 130.27L236.50 135.87L229.94 135.87Z" fill="#0000ff"/>
<path d="M234.28 129.56L237.56 135.16L231.01 135.16Z" fill="#0000ff"/>
<path d="M235.35 128.86L238.62 134.46L232.07 134.46Z" fill="#0000ff"/>
<path d="M236.41 128.15L239.69 133.75L233.14 133.75Z" fill="#0000ff"/>
<path d="M237.48 127.45L240.75 133.05L234.20 133.05Z" fill="#0000ff"/>
<path d="M238.54 126.75L241.82 132.35L235.26 132.35Z" fill="#0000ff"/>
<path d="M239.60 126.05L242.88 131.65L236.33 131.65Z" fill="#0000ff"/>
<path d="M240.67 125.35L243.94 130.95L237.39 130.95Z" fill="#0000ff"/>
<path d="M241.73 124.65L245.01 130.25L238.46 130.25Z" fill="#0000ff"/>
<path d="M242.80 123.95L246.07 129.55L239.52 129.55Z" fill="#0000ff"/>
<path d="M243.86 123.25L247.14 128.85L240.58 128.85Z" fill="#0000ff"/>
<path d="M244.92 122.56L248.20 128.16L241.65 128.16Z" fill="#0000ff"/>
<path d="M245.99 121.86L249.26 127.46L242.71 127.46Z" fill="#0000ff"/>
<path d="M247.05 121.17L250.33 126.77L243.78 126.77Z" fill="#0000ff"/>
<path d="M248.12 120.48L251.39 126.08L244.84 126.08Z" fill="#0000ff"/>
<path d="M249.18 119.79L252.46 125.39L245.90 125.39Z" fill="#0000ff"/>
<path d="M250.24 119.10L253.52 124.70L246.97 124.70Z" fill="#0000ff"/>
<path d="M251.31 118.41L254.58 124.01L248.03 124.01Z" fill="#0000ff"/>
<path d="M252.37 117.72L255.65 123.32L249.10 123.32Z" fill="#0000ff"/>
<path d="M253.44 117.03L256.71 122.63L250.16 122.63Z" fill="#0000ff"/>
<path d="M254.50 116.34L257.78 121.94L251.22 121.94Z" fill="#0000ff"/>
<path d="M255.56 115.66L258.84 121.26L252.29 121.26Z" fill="#0000ff"/>
<path d="M256.63 114.97L259.90 120.57L253.35 120.57Z" fill="#0000ff"/>
<path d="M257.69 114.29L260.97 119.89L254.42 119.89Z" fill="#0000ff"/>
<path d="M258.76 113.60L262.03 119.20L255.48 119.20Z" fill="#0000ff"/>
<path d="M259.82 112.92L263.10 118.52L256.54 118.52Z" fill="#0000ff"/>
<path d="M260.88 112.24L264.16 117.84L257.61 117.84Z" fill="#0000ff"/>
<path d="M261.95 111.56L265.22 117.16L258.67 117.16Z" fill="#0000ff"/>
<path d="M263.01 110.88L266.29 116.48L259.74 116.48Z" fill="#0000ff"/>
<path d="M264.08 110.20L267.35 115.80L260.80 115.80Z" fill="#0000ff"/>
<path d="M265.14 109.53L268.42 115.13L261.86 115.13Z" fill="#0000ff"/>
<path d="M266.20 108.85L269.48 114.45L262.93 114.45Z" fill="#0000ff"/>
<path d="M267.27 108.18L270.54 113.78L263.99 113.78Z" fill="#0000ff"/>
<path d="M268.33 107.50L271.61 113.10L265.06 113.10Z" fill="#0000ff"/>
<path d="M269.40 106.83L272.67 112.43L266.12 112.43Z" fill="#0000ff"/>
<path d="M270.46 106.16L273.74 111.76L267.18 111.76Z" fill="#0000ff"/>
<path d="M271.52 105.48L274.80 111.08L268.25 111.08Z" fill="#0000ff"/>
<path d="M272.59 104.81L275.86 110.41L269.31 110.41Z" fill="#0000ff"/>
<path d="M273.65 104.14L276.93 109.74L270.38 109.74Z" fill="#0000ff"/>
<path d="M274.72 103.48L277.99 109.08L271.44 109.08Z" fill="#0000ff"/>
<path d="M275.78 102.81L279.06 108.41L272.50 108.41Z" fill="#0000ff"/>
<path d="M276.84 102.14L280.12 107.74L273.57 107.74Z" fill="#0000ff"/>
<path d="M277.91 101.47L281.18 107.07L274.63 107.07Z" fill="#0000ff"/>
<path d="M278.97 100.81L282.25 106.41L275.70 106.41Z" fill="#0000ff"/>
<path d="M280.04 100.15L283.31 105.75L276.76 105.75Z" fill="#0000ff"/>
<path d="M281.10 99.48L284.38 105.08L277.82 105.08Z" fill="#0000ff"/>
<path d="M282.16 98.82L285.44 104.42L278.89 104.42Z" fill="#0000ff"/>
<path d="M283.23 98.16L286.50 103.76L279.95 103.76Z" fill="#0000ff"/>
<path d="M284.29 97.50L287.57 103.10L281.02 103.10Z" fill="#0000ff"/>
<path d="M285.36 96.84L288.63 102.44L282.08 102.44Z" fill="#0000ff"/>
<path d="M286.42 96.18L289.70 101.78L283.14 101.78Z" fill="#0000ff"/>
<path d="M287.48 95.52L290.76 101.12L284.21 101.12Z" fill="#0000ff"/>
<path d="M288.55 94.87L291.82 100.47L285.27 100.47Z" fill="#0000ff"/>
<path d="M289.61 94.21L292.89 99.81L286.34 99.81Z" fill="#0000ff"/>
<path d="M290.68 93.56L293.95 99.16L287.40 99.16Z" fill="#0000ff"/>
<path d="M291.74 92.90L295.02 98.50L288.46 98.50Z" fill="#0000ff"/>
<path d="M292.80 92.25L296.08 97.85L289.53 97.85Z" fill="#0000ff"/>
<path d="M293.87 91.60L297.14 97.20L290.59 97.20Z" fill="#0000ff"/>
<path d="M294.93 90.94L298.21 96.54L291.66 96.54Z" fill="#0000ff"/>
<path d="M296.00 90.29L299.27 95.89L292.72 95.89Z" fill="#0000ff"/>
<path d="M297.06 89.64L300.34 95.24L293.78 95.24Z" fill="#0000ff"/>
<path d="M298.12 89.00L301.40 94.60L294.85 94.60Z" fill="#0000ff"/>
<path d="M299.19 88.35L302.46 93.95L295.91 93.95Z" fill="#0000ff"/>
<path d="M300.25 87.70L303.53 93.30L296.98 93.30Z" fill="#0000ff"/>
<path d="M301.32 87.05L304.59 92.65L298.04 92.65Z" fill="#0000ff"/>
<path d="M302.38 86.41L305.66 92.01L299.10 92.01Z" fill="#0000ff"/>
<path d="M303.44 85.76L306.72 91.36L300.17 91.36Z" fill="#0000ff"/>
<path d="M304.51 85.12L307.78 90.72L301.23 90.72Z" fill="#0000ff"/>
<path d="M305.57 84.48L308.85 90.08L302.30 90.08Z" fill="#0000ff"/>
<path d="M306.64 83.83L309.91 89.43L303.36 89.43Z" fill="#0000ff"/>
<path d="M307.70 83.19L310.98 88.79L304.42 88.79Z" fill="#0000ff"/>
<path d="M308.76 82.55L312.04 88.15L305.49 88.15Z" fill="#0000ff"/>
<path d="M309.83 81.91L313.10 87.51L306.55 87.51Z" fill="#0000ff"/>
<path d="M310.89 81.27L314.17 86.87L307.62 86.87Z" fill="#0000ff"/>
<path d="M311.96 80.64L315.23 86.24L308.68 86.24Z" fill="#0000ff"/>
<path d="M313.02 80.00L316.30 85.60L309.74 85.60Z" fill="#0000ff"/>
<path d="M314.08 79.36L317.36 84.96L310.81 84.96Z" fill="#0000ff"/>
<path d="M315.15 78.73L318.42 84.33L311.87 84.33Z" fill="#0000ff"/>
<path d="M316.21 78.09L319.49 83.69L312.94 83.69Z" fill="#0000ff"/>
<path d="M317.28 77.46L320.55 83.06L314.00 83.06Z" fill="#0000ff"/>
<path d="M318.34 76.82L321.62 82.42L315.06 82.42Z" fill="#0000ff"/>
<path d="M319.40 76.19L322.68 81.79L316.13 81.79Z" fill="#0000ff"/>
<path d="M320.47 75.56L323.74 81.16L317.19 81.16Z" fill="#0000ff"/>
<path d="M321.53 74.93L324.81 80.53L318.26 80.53Z" fill="#0000ff"/>
<path d="M322.60 74.30L325.87 79.90L319.32 79.90Z" fill="#0000ff"/>
<path d="M323.66 73.67L326.94 79.27L320.38 79.27Z" fill="#0000ff"/>
<path d="M324.72 73.04L328.00 78.64L321.45 78.64Z" fill="#0000ff"/>
<path d="M325.79 72.41L329.06 78.01L322.51 78.01Z" fill="#0000ff"/>
<path d="M326.85 71.78L330.13 77.38L323.58 77.38Z" fill="#0000ff"/>
<path d="M327.92 71.16L331.19 76.76L324.64 76.76Z" fill="#0000ff"/>
<path d="M328.98 70.53L332.26 76.13L325.70 76.13Z" fill="#0000ff"/>
<path d="M330.04 69.91L333.32 75.51L326.77 75.51Z" fill="#0000ff"/>
<path d="M331.11 69.28L334.38 74.88L327.83 74.88Z" fill="#0000ff"/>
<path d="M332.17 68.66L335.45 74.26L328.90 74.26Z" fill="#0000ff"/>
<path d="M333.24 68.04L336.51 73.64L329.96 73.64Z" fill="#0000ff"/>
<path d="M334.30 67.41L337.58 73.01L331.02 73.01Z" fill="#0000ff"/>
<path d="M122.56 205.21 L123.63 204.97 L124.69 204.58 L125.76 204.09 L126.82 203.50 L127.88 202.85 L128.95 202.15 L130.01 201.42 L131.08 200.65 L132.14 199.86 L133.20 199.05 L134.27 198.22 L135.33 197.39 L136.40 196.54 L137.46 195.69 L138.52 194.83 L139.59 193.97 L140.65 193.10 L141.72 192.22 L142.78 191.35 L143.84 190.47 L144.91 189.58 L145.97 188.70 L147.04 187.81 L148.10 186.92 L149.16 186.03 L150.23 185.14 L151.29 184.25 L152.36 183.35 L153.42 182.46 L154.48 181.56 L155.55 180.66 L156.61 179.76 L157.68 178.86 L158.74 177.96 L159.80 177.06 L160.87 176.16 L161.93 175.26 L163.00 174.36 L164.06 173.46 L165.12 172.55 L166.19 171.65 L167.25 170.75 L168.32 169.84 L169.38 168.94 L170.44 168.03 L171.51 167.13 L172.57 166.22 L173.64 165.32 L174.70 164.41 L175.76 163.50 L176.83 162.60 L177.89 161.69 L178.96 160.78 L180.02 159.88 L181.08 158.97 L182.15 158.06 L183.21 157.15 L184.28 156.25 L185.34 155.34 L186.40 154.43 L187.47 153.52 L188.53 152.61 L189.60 151.70 L190.66 150.80 L191.72 149.89 L192.79 148.98 L193.85 148.07 L194.92 147.16 L195.98 146.25 L197.04 145.34 L198.11 144.43 L199.17 143.52 L200.24 142.61 L201.30 141.70 L202.36 140.79 L203.43 139.88 L204.49 138.97 L205.56 138.06 L206.62 137.15 L207.68 136.24 L208.75 135.33 L209.81 134.42 L210.88 133.51 L211.94 132.60 L213.00 131.69 L214.07 130.78 L215.13 129.87 L216.20 128.96 L217.26 128.05 L218.32 127.14 L219.39 126.23 L220.45 125.31 L221.52 124.40 L222.58 123.49 L223.64 122.58 L224.71 121.67 L225.77 120.76 L226.84 119.85 L227.90 118.94 L228.96 118.02 L230.03 117.11 L231.09 116.20 L232.16 115.29 L233.22 114.38 L234.28 113.47 L235.35 112.56 L236.41 111.64 L237.48 110.73 L238.54 109.82 L239.60 108.91 L240.67 108.00 L241.73 107.08 L242.80 106.17 L243.86 105.26 L244.92 104.35 L245.99 103.44 L247.05 102.53 L248.12 101.61 L249.18 100.70 L250.24 99.79 L251.31 98.88 L252.37 97.96 L253.44 97.05 L254.50 96.14 L255.56 95.23 L256.63 94.32 L257.69 93.40 L258.76 92.49 L259.82 91.58 L260.88 90.67 L261.95 89.75 L263.01 88.84 L264.08 87.93 L265.14 87.02 L266.20 86.10 L267.27 85.19 L268.33 84.28 L269.40 83.37 L270.46 82.45 L271.52 81.54 L272.59 80.63 L273.65 79.72 L274.72 78.80 L275.78 77.89 L276.84 76.98 L277.91 76.06 L278.97 75.15 L280.04 74.24 L281.10 73.33 L282.16 72.41 L283.23 71.50 L284.29 70.59 L285.36 69.67 L286.42 68.76 L287.48 67.85 L288.55 66.93 L289.61 66.02 L290.68 65.11 L291.74 64.20 L292.80 63.28 L293.87 62.37 L294.93 61.46 L296.00 60.54 L297.06 59.63 L298.12 58.72 L299.19 57.80 L300.25 56.89 L301.32 55.98 L302.38 55.06 L303.44 54.15 L304.51 53.24 L305.57 52.32 L306.64 51.41 L307.70 50.50 L308.76 49.58 L309.83 48.67 L310.89 47.76 L311.96 46.84 L313.02 45.93 L314.08 45.02 L315.15 44.10 L316.21 43.19 L317.28 42.28 L318.34 41.36 L319.40 40.45 L320.47 39.54 L321.53 38.62 L322.60 37.71 L323.66 36.80 L324.72 35.88 L325.79 34.97 L326.85 34.06 L327.92 33.14 L328.98 32.23 L330.04 31.31 L331.11 30.40 L332.17 29.49 L333.24 28.57 L334.30 27.66" stroke="#3cc83c" stroke-width="1" fill="none"/>
<path d="M122.56 208.94L125.84 203.34L119.29 203.34Z" fill="#00ff00"/>
<path d="M123.63 208.70L126.90 203.10L120.35 203.10Z" fill="#00ff00"/>
<path d="M124.69 208.32L127.97 202.72L121.42 202.72Z" fill="#00ff00"/>
<path d="M125.76 207.82L129.03 202.22L122.48 202.22Z" fill="#00ff00"/>
<path d="M126.82 207.24L130.10 201.64L123.54 201.64Z" fill="#00ff00"/>
<path d="M127.88 206.59L131.16 200.99L124.61 200.99Z" fill="#00ff00"/>
<path d="M128.95 205.89L132.22 200.29L125.67 200.29Z" fill="#00ff00"/>
<path d="M130.01 205.15L133.29 199.55L126.74 199.55Z" fill="#00ff00"/>
<path d="M131.08 204.38L134.35 198.78L127.80 198.78Z" fill="#00ff00"/>
<path d="M132.14 203.59L135.42 197.99L128.86 197.99Z" fill="#00ff00"/>
<path d="M133.20 202.78L136.48 197.18L129.93 197.18Z" fill="#00ff00"/>
<path d="M134.27 201.96L137.54 196.36L130.99 196.36Z" fill="#00ff00"/>
<path d="M135.33 201.12L138.61 195.52L132.06 195.52Z" fill="#00ff00"/>
<path d="M136.40 200.28L139.67 194.68L133.12 194.68Z" fill="#00ff00"/>
<path d="M137.46 199.42L140.74 193.82L134.18 193.82Z" fill="#00ff00"/>
<path d="M138.52 198.56L141.80 192.96L135.25 192.96Z" fill="#00ff00"/>
<path d="M139.59 197.70L142.86 192.10L136.31 192.10Z" fill="#00ff00"/>
<path d="M140.65 196.83L143.93 191.23L137.38 191.23Z" fill="#00ff00"/>
<path d="M141.72 195.96L144.99 190.36L138.44 190.36Z" fill="#00ff00"/>
<path d="M142.78 195.08L146.06 189.48L139.50 189.48Z" fill="#00ff00"/>
<path d="M143.84 194.20L147.12 188.60L140.57 188.60Z" fill="#00ff00"/>
<path d="M144.91 193.32L148.18 187.72L141.63 187.72Z" fill="#00ff00"/>
<path d="M145.97 192.43L149.25 186.83L142.70 186.83Z" fill="#00ff00"/>
<path d="M147.04 191.54L150.31 185.94L143.76 185.94Z" fill="#00ff00"/>
<path d="M148.10 190.66L151.38 185.06L144.82 185.06Z" fill="#00ff00"/>
<path d="M149.16 189.77L152.44 184.17L145.89 184.17Z" fill="#00ff00"/>
<path d="M150.23 188.87L153.50 183.27L146.95 183.27Z" fill="#00ff00"/>
<path d="M151.29 187.98L154.57 182.38L148.02 182.38Z" fill="#00ff00"/>
<path d="M152.36 187.08L155.63 181.48L149.08 181.48Z" fill="#00ff00"/>
<path d="M153.42 186.19L156.70 180.59L150.14 180.59Z" fill="#00ff00"/>
<path d="M154.48 185.29L157.76 179.69L151.21 179.69Z" fill="#00ff00"/>
<path d="M155.55 184.40L158.82 178.80L152.27 178.80Z" fill="#00ff00"/>
<path d="M156.61 183.50L159.89 177.90L153.34 177.90Z" fill="#00ff00"/>
<path d="M157.68 182.60L160.95 177.00L154.40 177.00Z" fill="#00ff00"/>
<path d="M158.74 181.70L162.02 176.10L155.46 176.10Z" fill="#00ff00"/>
<path d="M159.80 180.80L163.08 175.20L156.53 175.20Z" fill="#00ff00"/>
<path d="M160.87 179.90L164.14 174.30L157.59 174.30Z" fill="#00ff00"/>
<path d="M161.93 178.99L165.21 173.39L158.66 173.39Z" fill="#00ff00"/>
<path d="M163.00 178.09L166.27 172.49L159.72 172.49Z" fill="#00ff00"/>
<path d="M164.06 177.19L167.34 171.59L160.78 171.59Z" fill="#00ff00"/>
<path d="M165.12 176.29L168.40 170.69L161.85 170.69Z" fill="#00ff00"/>
<path d="M166.19 175.38L169.46 169.78L162.91 169.78Z" fill="#00ff00"/>
<path d="M167.25 174.48L170.53 168.88L163.98 168.88Z" fill="#00ff00"/>
<path d="M168.32 173.57L171.59 167.97L165.04 167.97Z" fill="#00ff00"/>
<path d="M169.38 172.67L172.66 167.07L166.10 167.07Z" fill="#00ff00"/>
<path d="M170.44 171.77L173.72 166.17L167.17 166.17Z" fill="#00ff00"/>
<path d="M171.51 170.86L174.78 165.26L168.23 165.26Z" fill="#00ff00"/>
<path d="M172.57 169.95L175.85 164.35L169.30 164.35Z" fill="#00ff00"/>
<path d="M173.64 169.05L176.91 163.45L170.36 163.45Z" fill="#00ff00"/>
<path d="M174.70 168.14L177.98 162.54L171.42 162.54Z" fill="#00ff00"/>
<path d="M175.76 167.24L179.04 161.64L172.49 161.64Z" fill="#00ff00"/>
<path d="M176.83 166.33L180.10 160.73L173.55 160.73Z" fill="#00ff00"/>
<path d="M177.89 165.42L181.17 159.82L174.62 159.82Z" fill="#00ff00"/>
<path d="M178.96 164.52L182.23 158.92L175.68 158.92Z" fill="#00ff00"/>
<path d="M180.02 163.61L183.30 158.01L176.74 158.01Z" fill="#00ff00"/>
<path d="M181.08 162.70L184.36 157.10L177.81 157.10Z" fill="#00ff00"/>
<path d="M182.15 161.79L185.42 156.19L178.87 156.19Z" fill="#00ff00"/>
<path d="M183.21 160.89L186.49 155.29L179.94 155.29Z" fill="#00ff00"/>
<path d="M184.28 159.98L187.55 154.38L181.00 154.38Z" fill="#00ff00"/>
<path d="M185.34 159.07L188.62 153.47L182.06 153.47Z" fill="#00ff00"/>
<path d="M186.40 158.16L189.68 152.56L183.13 152.56Z" fill="#00ff00"/>
<path d="M187.47 157.25L190.74 151.65L184.19 151.65Z" fill="#00ff00"/>
<path d="M188.53 156.35L191.81 150.75L185.26 150.75Z" fill="#00ff00"/>
<path d="M189.60 155.44L192.87 149.84L186.32 149.84Z" fill="#00ff00"/>
<path d="M190.66 154.53L193.94 148.93L187.38 148.93Z" fill="#00ff00"/>
<path d="M191.72 153.62L195.00 148.02L188.45 148.02Z" fill="#00ff00"/>
<path d="M192.79 152.71L196.06 147.11L189.51 147.11Z" fill="#00ff00"/>
<path d="M193.85 151.80L197.13 146.20L190.58 146.20Z" fill="#00ff00"/>
<path d="M194.92 150.89L198.19 145.29L191.64 145.29Z" fill="#00ff00"/>
<path d="M195.98 149.98L199.26 144.38L192.70 144.38Z" fill="#00ff00"/>
<path d="M197.04 149.07L200.32 143.47L193.77 143.47Z" fill="#00ff00"/>
<path d="M198.11 148.16L201.38 142.56L194.83 142.56Z" fill="#00ff00"/>
<path d="M199.17 147.26L202.45 141.66L195.90 141.66Z" fill="#00ff00"/>
<path d="M200.24 146.35L203.51 140.75L196.96 140.75Z" fill="#00ff00"/>
<path d="M201.30 145.44L204.58 139.84L198.02 139.84Z" fill="#00ff00"/>
<path d="M202.36 144.53L205.64 138.93L199.09 138.93Z" fill="#00ff00"/>
<path d="M203.43 143.62L206.70 138.02L200.15 138.02Z" fill="#00ff00"/>
<path d="M204.49 142.71L207.77 137.11L201.22 137.11Z" fill="#00ff00"/>
<path d="M205.56 141.80L208.83 136.20L202.28 136.20Z" fill="#00ff00"/>
<path d="M206.62 140.89L209.90 135.29L203.34 135.29Z" fill="#00ff00"/>
<path d="M207.68 139.98L210.96 134.38L204.41 134.38Z" fill="#00ff00"/>
<path d="M208.75 139.07L212.02 133.47L205.47 133.47Z" fill="#00ff00"/>
<path d="M209.81 138.16L213.09 132.56L206.54 132.56Z" fill="#00ff00"/>
<path d="M210.88 137.24L214.15 131.64L207.60 131.64Z" fill="#00ff00"/>
<path d="M211.94 136.33L215.22 130.73L208.66 130.73Z" fill="#00ff00"/>
<path d="M213.00 135.42L216.28 129.82L209.73 129.82Z" fill="#00ff00"/>
<path d="M214.07 134.51L217.34 128.91L210.79 128.91Z" fill="#00ff00"/>
<path d="M215.13 133.60L218.41 128.00L211.86 128.00Z" fill="#00ff00"/>
<path d="M216.20 132.69L219.47 127.09L212.92 127.09Z" fill="#00ff00"/>
<path d="M217.26 131.78L220.54 126.18L213.98 126.18Z" fill="#00ff00"/>
<path d="M218.32 130.87L221.60 125.27L215.05 125.27Z" fill="#00ff00"/>
<path d="M219.39 129.96L222.66 124.36L216.11 124.36Z" fill="#00ff00"/>
<path d="M220.45 129.05L223.73 123.45L217.18 123.45Z" fill="#00ff00"/>
<path d="M221.52 128.14L224.79 122.54L218.24 122.54Z" fill="#00ff00"/>
<path d="M222.58 127.23L225.86 121.63L219.30 121.63Z" fill="#00ff00"/>
<path d="M223.64 126.31L226.92 120.71L220.37 120.71Z" fill="#00ff00"/>
<path d="M224.71 125.40L227.98 119.80L221.43 119.80Z" fill="#00ff00"/>
<path d="M225.77 124.49L229.05 118.89L222.50 118.89Z" fill="#00ff00"/>
<path d="M226.84 123.58L230.11 117.98L223.56 117.98Z" fill="#00ff00"/>
<path d="M227.90 122.67L231.18 117.07L224.62 117.07Z" fill="#00ff00"/>
<path d="M228.96 121.76L232.24 116.16L225.69 116.16Z" fill="#00ff00"/>
<path d="M230.03 120.85L233.30 115.25L226.75 115.25Z" fill="#00ff00"/>
<path d="M231.09 119.94L234.37 114.34L227.82 114.34Z" fill="#00ff00"/>
<path d="M232.16 119.02L235.43 113.42L228.88 113.42Z" fill="#00ff00"/>
<path d="M233.22 118.11L236.50 112.51L229.94 112.51Z" fill="#00ff00"/>
<path d="M234.28 117.20L237.56 111.60L231.01 111.60Z" fill="#00ff00"/>
<path d="M235.35 116.29L238.62 110.69L232.07 110.69Z" fill="#00ff00"/>
<path d="M236.41 115.38L239.69 109.78L233.14 109.78Z" fill="#00ff00"/>
<path d="M237.48 114.47L240.75 108.87L234.20 108.87Z" fill="#00ff00"/>
<path d="M238.54 113.55L241.82 107.95L235.26 107.95Z" fill="#00ff00"/>
<path d="M239.60 112.64L242.88 107.04L236.33 107.04Z" fill="#00ff00"/>
<path d="M240.67 111.73L243.94 106.13L237.39 106.13Z" fill="#00ff00"/>
<path d="M241.73 110.82L245.01 105.22L238.46 105.22Z" fill="#00ff00"/>
<path d="M242.80 109.91L246.07 104.31L239.52 104.31Z" fill="#00ff00"/>
<path d="M243.86 108.99L247.14 103.39L240.58 103.39Z" fill="#00ff00"/>
<path d="M244.92 108.08L248.20 102.48L241.65 102.48Z" fill="#00ff00"/>
<path d="M245.99 107.17L249.26 101.57L242.71 101.57Z" fill="#00ff00"/>
<path d="M247.05 106.26L250.33 100.66L243.78 100.66Z" fill="#00ff00"/>
<path d="M248.12 105.35L251.39 99.75L244.84 99.75Z" fill="#00ff00"/>
<path d="M249.18 104.43L252.46 98.83L245.90 98.83Z" fill="#00ff00"/>
<path d="M250.24 103.52L253.52 97.92L246.97 97.92Z" fill="#00ff00"/>
<path d="M251.31 102.61L254.58 97.01L248.03 97.01Z" fill="#00ff00"/>
<path d="M252.37 101.70L255.65 96.10L249.10 96.10Z" fill="#00ff00"/>
<path d="M253.44 100.79L256.71 95.19L250.16 95.19Z" fill="#00ff00"/>
<path d="M254.50 99.87L257.78 94.27L251.22 94.27Z" fill="#00ff00"/>
<path d="M255.56 98.96L258.84 93.36L252.29 93.36Z" fill="#00ff00"/>
<path d="M256.63 98.05L259.90 92.45L253.35 92.45Z" fill="#00ff00"/>
<path d="M257.69 97.14L260.97 91.54L254.42 91.54Z" fill="#00ff00"/>
<path d="M258.76 96.22L262.03 90.62L255.48 90.62Z" fill="#00ff00"/>
<path d="M259.82 95.31L263.10 89.71L256.54 89.71Z" fill="#00ff00"/>
<path d="M260.88 94.40L264.16 88.80L257.61 88.80Z" fill="#00ff00"/>
<path d="M261.95 93.49L265.22 87.89L258.67 87.89Z" fill="#00ff00"/>
<path d="M263.01 92.57L266.29 86.97L259.74 86.97Z" fill="#00ff00"/>
<path d="M264.08 91.66L267.35 86.06L260.80 86.06Z" fill="#00ff00"/>
<path d="M265.14 90.75L268.42 85.15L261.86 85.15Z" fill="#00ff00"/>
<path d="M266.20 89.84L269.48 84.24L262.93 84.24Z" fill="#00ff00"/>
<path d="M267.27 88.92L270.54 83.32L263.99 83.32Z" fill="#00ff00"/>
<path d="M268.33 88.01L271.61 82.41L265.06 82.41Z" fill="#00ff00"/>
<path d="M269.40 87.10L272.67 81.50L266.12 81.50Z" fill="#00ff00"/>
<path d="M270.46 86.19L273.74 80.59L267.18 80.59Z" fill="#00ff00"/>
<path d="M271.52 85.27L274.80 79.67L268.25 79.67Z" fill="#00ff00"/>
<path d="M272.59 84.36L275.86 78.76L269.31 78.76Z" fill="#00ff00"/>
<path d="M273.65 83.45L276.93 77.85L270.38 77.85Z" fill="#00ff00"/>
<path d="M274.72 82.54L277.99 76.94L271.44 76.94Z" fill="#00ff00"/>
<path d="M275.78 81.62L279.06 76.02L272.50 76.02Z" fill="#00ff00"/>
<path d="M276.84 80.71L280.12 75.11L273.57 75.11Z" fill="#00ff00"/>
<path d="M277.91 79.80L281.18 74.20L274.63 74.20Z" fill="#00ff00"/>
<path d="M278.97 78.88L282.25 73.28L275.70 73.28Z" fill="#00ff00"/>
<path d="M280.04 77.97L283.31 72.37L276.76 72.37Z" fill="#00ff00"/>
<path d="M281.10 77.06L284.38 71.46L277.82 71.46Z" fill="#00ff00"/>
<path d="M282.16 76.15L285.44 70.55L278.89 70.55Z" fill="#00ff00"/>
<path d="M283.23 75.23L286.50 69.63L279.95 69.63Z" fill="#00ff00"/>
<path d="M284.29 74.32L287.57 68.72L281.02 68.72Z" fill="#00ff00"/>
<path d="M285.36 73.41L288.63 67.81L282.08 67.81Z" fill="#00ff00"/>
<path d="M286.42 72.49L289.70 66.89L283.14 66.89Z" fill="#00ff00"/>
<path d="M287.48 71.58L290.76 65.98L284.21 65.98Z" fill="#00ff00"/>
<path d="M288.55 70.67L291.82 65.07L285.27 65.07Z" fill="#00ff00"/>
<path d="M289.61 69.76L292.89 64.16L286.34 64.16Z" fill="#00ff00"/>
<path d="M290.68 68.84L293.95 63.24L287.40 63.24Z" fill="#00ff00"/>
<path d="M291.74 67.93L295.02 62.33L288.46 62.33Z" fill="#00ff00"/>
<path d="M292.80 67.02L296.08 61.42L289.53 61.42Z" fill="#00ff00"/>
<path d="M293.87 66.10L297.14 60.50L290.59 60.50Z" fill="#00ff00"/>
<path d="M294.93 65.19L298.21 59.59L291.66 59.59Z" fill="#00ff00"/>
<path d="M296.00 64.28L299.27 58.68L292.72 58.68Z" fill="#00ff00"/>
<path d="M297.06 63.36L300.34 57.76L293.78 57.76Z" fill="#00ff00"/>
<path d="M298.12 62.45L301.40 56.85L294.85 56.85Z" fill="#00ff00"/>
<path d="M299.19 61.54L302.46 55.94L295.91 55.94Z" fill="#00ff00"/>
<path d="M300.25 60.62L303.53 55.02L296.98 55.02Z" fill="#00ff00"/>
<path d="M301.32 59.71L304.59 54.11L298.04 54.11Z" fill="#00ff00"/>
<path d="M302.38 58.80L305.66 53.20L299.10 53.20Z" fill="#00ff00"/>
<path d="M303.44 57.88L306.72 52.28L300.17 52.28Z" fill="#00ff00"/>
<path d="M304.51 56.97L307.78 51.37L301.23 51.37Z" fill="#00ff00"/>
<path d="M305.57 56.06L308.85 50.46L302.30 50.46Z" fill="#00ff00"/>
<path d="M306.64 55.14L309.91 49.54L303.36 49.54Z" fill="#00ff00"/>
<path d="M307.70 54.23L310.98 48.63L304.42 48.63Z" fill="#00ff00"/>
<path d="M308.76 53.32L312.04 47.72L305.49 47.72Z" fill="#00ff00"/>
<path d="M309.83 52.40L313.10 46.80L306.55 46.80Z" fill="#00ff00"/>
<path d="M310.89 51.49L314.17 45.89L307.62 45.89Z" fill="#00ff00"/>
<path d="M311.96 50.58L315.23 44.98L308.68 44.98Z" fill="#00ff00"/>
<path d="M313.02 49.66L316.30 44.06L309.74 44.06Z" fill="#00ff00"/>
<path d="M314.08 48.75L317.36 43.15L310.81 43.15Z" fill="#00ff00"/>
<path d="M315.15 47.84L318.42 42.24L311.87 42.24Z" fill="#00ff00"/>
<path d="M316.21 46.92L319.49 41.32L312.94 41.32Z" fill="#00ff00"/>
<path d="M317.28 46.01L320.55 40.41L314.00 40.41Z" fill="#00ff00"/>
<path d="M318.34 45.10L321.62 39.50L315.06 39.50Z" fill="#00ff00"/>
<path d="M319.40 44.18L322.68 38.58L316.13 38.58Z" fill="#00ff00"/>
<path d="M320.47 43.27L323.74 37.67L317.19 37.67Z" fill="#00ff00"/>
<path d="M321.53 42.36L324.81 36.76L318.26 36.76Z" fill="#00ff00"/>
<path d="M322.60 41.44L325.87 35.84L319.32 35.84Z" fill="#00ff00"/>
<path d="M323.66 40.53L326.94 34.93L320.38 34.93Z" fill="#00ff00"/>
<path d="M324.72 39.62L328.00 34.02L321.45 34.02Z" fill="#00ff00"/>
<path d="M325.79 38.70L329.06 33.10L322.51 33.10Z" fill="#00ff00"/>
<path d="M326.85 37.79L330.13 32.19L323.58 32.19Z" fill="#00ff00"/>
<path d="M327.92 36.88L331.19 31.28L324.64 31.28Z" fill="#00ff00"/>
<path d="M328.98 35.96L332.26 30.36L325.70 30.36Z" fill="#00ff00"/>
<path d="M330.04 35.05L333.32 29.45L326.77 29.45Z" fill="#00ff00"/>
<path d="M331.11 34.13L334.38 28.53L327.83 28.53Z" fill="#00ff00"/>
<path d="M332.17 33.22L335.45 27.62L328.90 27.62Z" fill="#00ff00"/>
<path d="M333.24 32.31L336.51 26.71L329.96 26.71Z" fill="#00ff00"/>
<path d="M334.30 31.39L337.58 25.79L331.02 25.79Z" fill="#00ff00"/>
<path d="M122.56 211.75 L123.63 211.43 L124.69 210.98 L125.76 210.45 L126.82 209.89 L127.88 209.29 L128.95 208.68 L130.01 208.07 L131.08 207.44 L132.14 206.81 L133.20 206.17 L134.27 205.54 L135.33 204.90 L136.40 204.26 L137.46 203.61 L138.52 202.97 L139.59 202.33 L140.65 201.68 L141.72 201.03 L142.78 200.39 L143.84 199.74 L144.91 199.10 L145.97 198.45 L147.04 197.80 L148.10 197.16 L149.16 196.51 L150.23 195.86 L151.29 195.22 L152.36 194.57 L153.42 193.92 L154.48 193.27 L155.55 192.63 L156.61 191.98 L157.68 191.33 L158.74 190.69 L159.80 190.04 L160.87 189.39 L161.93 188.75 L163.00 188.10 L164.06 187.45 L165.12 186.81 L166.19 186.16 L167.25 185.51 L168.32 184.87 L169.38 184.22 L170.44 183.57 L171.51 182.93 L172.57 182.28 L173.64 181.63 L174.70 180.99 L175.76 180.34 L176.83 179.69 L177.89 179.05 L178.96 178.40 L180.02 177.76 L181.08 177.11 L182.15 176.46 L183.21 175.82 L184.28 175.17 L185.34 174.53 L186.40 173.88 L187.47 173.24 L188.53 172.59 L189.60 171.94 L190.66 171.30 L191.72 170.65 L192.79 170.01 L193.85 169.36 L194.92 168.72 L195.98 168.07 L197.04 167.43 L198.11 166.78 L199.17 166.14 L200.24 165.49 L201.30 164.85 L202.36 164.20 L203.43 163.56 L204.49 162.91 L205.56 162.27 L206.62 161.62 L207.68 160.98 L208.75 160.34 L209.81 159.69 L210.88 159.05 L211.94 158.40 L213.00 157.76 L214.07 157.11 L215.13 156.47 L216.20 155.83 L217.26 155.18 L218.32 154.54 L219.39 153.89 L220.45 153.25 L221.52 152.60 L222.58 151.96 L223.64 151.32 L224.71 150.67 L225.77 150.03 L226.84 149.39 L227.90 148.74 L228.96 148.10 L230.03 147.45 L231.09 146.81 L232.16 146.17 L233.22 145.52 L234.28 144.88 L235.35 144.24 L236.41 143.59 L237.48 142.95 L238.54 142.31 L239.60 141.66 L240.67 141.02 L241.73 140.38 L242.80 139.73 L243.86 139.09 L244.92 138.45 L245.99 137.80 L247.05 137.16 L248.12 136.52 L249.18 135.88 L250.24 135.23 L251.31 134.59 L252.37 133.95 L253.44 133.30 L254.50 132.66 L255.56 132.02 L256.63 131.38 L257.69 130.73 L258.76 130.09 L259.82 129.45 L260.88 128.81 L261.95 128.16 L263.01 127.52 L264.08 126.88 L265.14 126.24 L266.20 125.59 L267.27 124.95 L268.33 124.31 L269.40 123.67 L270.46 123.02 L271.52 122.38 L272.59 121.74 L273.65 121.10 L274.72 120.46 L275.78 119.81 L276.84 119.17 L277.91 118.53 L278.97 117.89 L280.04 117.25 L281.10 116.60 L282.16 115.96 L283.23 115.32 L284.29 114.68 L285.36 114.04 L286.42 113.39 L287.48 112.75 L288.55 112.11 L289.61 111.47 L290.68 110.83 L291.74 110.19 L292.80 109.54 L293.87 108.90 L294.93 108.26 L296.00 107.62 L297.06 106.98 L298.12 106.34 L299.19 105.70 L300.25 105.05 L301.32 104.41 L302.38 103.77 L303.44 103.13 L304.51 102.49 L305.57 101.85 L306.64 101.21 L307.70 100.56 L308.76 99.92 L309.83 99.28 L310.89 98.64 L311.96 98.00 L313.02 97.36 L314.08 96.72 L315.15 96.08 L316.21 95.44 L317.28 94.79 L318.34 94.15 L319.40 93.51 L320.47 92.87 L321.53 92.23 L322.60 91.59 L323.66 90.95 L324.72 90.31 L325.79 89.67 L326.85 89.03 L327.92 88.39 L328.98 87.74 L330.04 87.10 L331.11 86.46 L332.17 85.82 L333.24 85.18 L334.30 84.54" stroke="#c83cc8" stroke-width="1" fill="none"/>
<path d="M122.56 208.50L125.81 211.75L122.56 215.00L119.31 211.75Z" fill="#ff00ff"/>
<path d="M123.63 208.18L126.88 211.43L123.63 214.68L120.38 211.43Z" fill="#ff00ff"/>
<path d="M124.69 207.73L127.94 210.98L124.69 214.23L121.44 210.98Z" fill="#ff00ff"/>
<path d="M125.76 207.20L129.01 210.45L125.76 213.70L122.51 210.45Z" fill="#ff00ff"/>
<path d="M126.82 206.64L130.07 209.89L126.82 213.14L123.57 209.89Z" fill="#ff00ff"/>
<path d="M127.88 206.04L131.13 209.29L127.88 212.54L124.63 209.29Z" fill="#ff00ff"/>
<path d="M128.95 205.43L132.20 208.68L128.95 211.93L125.70 208.68Z" fill="#ff00ff"/>
<path d="M130.01 204.82L133.26 208.07L130.01 211.32L126.76 208.07Z" fill="#ff00ff"/>
<path d="M131.08 204.19L134.33 207.44L131.08 210.69L127.83 207.44Z" fill="#ff00ff"/>
<path d="M132.14 203.56L135.39 206.81L132.14 210.06L128.89 206.81Z" fill="#ff00ff"/>
<path d="M133.20 202.92L136.45 206.17L133.20 209.42L129.95 206.17Z" fill="#ff00ff"/>
<path d="M134.27 202.29L137.52 205.54L134.27 208.79L131.02 205.54Z" fill="#ff00ff"/>
<path d="M135.33 201.65L138.58 204.90L135.33 208.15L132.08 204.90Z" fill="#ff00ff"/>
<path d="M136.40 201.01L139.65 204.26L136.40 207.51L133.15 204.26Z" fill="#ff00ff"/>
<path d="M137.46 200.36L140.71 203.61L137.46 206.86L134.21 203.61Z" fill="#ff00ff"/>
<path d="M138.52 199.72L141.77 202.97L138.52 206.22L135.27 202.97Z" fill="#ff00ff"/>
<path d="M139.59 199.08L142.84 202.33L139.59 205.58L136.34 202.33Z" fill="#ff00ff"/>
<path d="M140.65 198.43L143.90 201.68L140.65 204.93L137.40 201.68Z" fill="#ff00ff"/>
<path d="M141.72 197.78L144.97 201.03L141.72 204.28L138.47 201.03Z" fill="#ff00ff"/>
<path d="M142.78 197.14L146.03 200.39L142.78 203.64L139.53 200.39Z" fill="#ff00ff"/>
<path d="M143.84 196.49L147.09 199.74L143.84 202.99L140.59 199.74Z" fill="#ff00ff"/>
<path d="M144.91 195.85L148.16 199.10L144.91 202.35L141.66 199.10Z" fill="#ff00ff"/>
<path d="M145.97 195.20L149.22 198.45L145.97 201.70L142.72 198.45Z" fill="#ff00ff"/>
<path d="M147.04 194.55L150.29 197.80L147.04 201.05L143.79 197.80Z" fill="#ff00ff"/>
<path d="M148.10 193.91L151.35 197.16L148.10 200.41L144.85 197.16Z" fill="#ff00ff"/>
<path d="M149.16 193.26L152.41 196.51L149.16 199.76L145.91 196.51Z" fill="#ff00ff"/>
<path d="M150.23 192.61L153.48 195.86L150.23 199.11L146.98 195.86Z" fill="#ff00ff"/>
<path d="M151.29 191.97L154.54 195.22L151.29 198.47L148.04 195.22Z" fill="#ff00ff"/>
<path d="M152.36 191.32L155.61 194.57L152.36 197.82L149.11 194.57Z" fill="#ff00ff"/>
<path d="M153.42 190.67L156.67 193.92L153.42 197.17L150.17 193.92Z" fill="#ff00ff"/>
<path d="M154.48 190.02L157.73 193.27L154.48 196.52L151.23 193.27Z" fill="#ff00ff"/>
<path d="M155.55 189.38L158.80 192.63L155.55 195.88L152.30 192.63Z" fill="#ff00ff"/>
<path d="M156.61 188.73L159.86 191.98L156.61 195.23L153.36 191.98Z" fill="#ff00ff"/>
<path d="M157.68 188.08L160.93 191.33L157.68 194.58L154.43 191.33Z" fill="#ff00ff"/>
<path d="M158.74 187.44L161.99 190.69L158.74 193.94L155.49 190.69Z" fill="#ff00ff"/>
<path d="M159.80 186.79L163.05 190.04L159.80 193.29L156.55 190.04Z" fill="#ff00ff"/>
<path d="M160.87 186.14L164.12 189.39L160.87 192.64L157.62 189.39Z" fill="#ff00ff"/>
<path d="M161.93 185.50L165.18 188.75L161.93 192.00L158.68 188.75Z" fill="#ff00ff"/>
<path d="M163.00 184.85L166.25 188.10L163.00 191.35L159.75 188.10Z" fill="#ff00ff"/>
<path d="M164.06 184.20L167.31 187.45L164.06 190.70L160.81 187.45Z" fill="#ff00ff"/>
<path d="M165.12 183.56L168.37 186.81L165.12 190.06L161.87 186.81Z" fill="#ff00ff"/>
<path d="M166.19 182.91L169.44 186.16L166.19 189.41L162.94 186.16Z" fill="#ff00ff"/>
<path d="M167.25 182.26L170.50 185.51L167.25 188.76L164.00 185.51Z" fill="#ff00ff"/>
<path d="M168.32 181.62L171.57 184.87L168.32 188.12L165.07 184.87Z" fill="#ff00ff"/>
<path d="M169.38 180.97L172.63 184.22L169.38 187.47L166.13 184.22Z" fill="#ff00ff"/>
<path d="M170.44 180.32L173.69 183.57L170.44 186.82L167.19 183.57Z" fill="#ff00ff"/>
<path d="M171.51 179.68L174.76 182.93L171.51 186.18L168.26 182.93Z" fill="#ff00ff"/>
<path d="M172.57 179.03L175.82 182.28L172.57 185.53L169.32 182.28Z" fill="#ff00ff"/>
<path d="M173.64 178.38L176.89 181.63L173.64 184.88L170.39 181.63Z" fill="#ff00ff"/>
<path d="M174.70 177.74L177.95 180.99L174.70 184.24L171.45 180.99Z" fill="#ff00ff"/>
<path d="M175.76 177.09L179.01 180.34L175.76 183.59L172.51 180.34Z" fill="#ff00ff"/>
<path d="M176.83 176.44L180.08 179.69L176.83 182.94L173.58 179.69Z" fill="#ff00ff"/>
<path d="M177.89 175.80L181.14 179.05L177.89 182.30L174.64 179.05Z" fill="#ff00ff"/>
<path d="M178.96 175.15L182.21 178.40L178.96 181.65L175.71 178.40Z" fill="#ff00ff"/>
<path d="M180.02 174.51L183.27 177.76L180.02 181.01L176.77 177.76Z" fill="#ff00ff"/>
<path d="M181.08 173.86L184.33 177.11L181.08 180.36L177.83 177.11Z" fill="#ff00ff"/>
<path d="M182.15 173.21L185.40 176.46L182.15 179.71L178.90 176.46Z" fill="#ff00ff"/>
<path d="M183.21 172.57L186.46 175.82L183.21 179.07L179.96 175.82Z" fill="#ff00ff"/>
<path d="M184.28 171.92L187.53 175.17L184.28 178.42L181.03 175.17Z" fill="#ff00ff"/>
<path d="M185.34 171.28L188.59 174.53L185.34 177.78L182.09 174.53Z" fill="#ff00ff"/>
<path d="M186.40 170.63L189.65 173.88L186.40 177.13L183.15 173.88Z" fill="#ff00ff"/>
<path d="M187.47 169.99L190.72 173.24L187.47 176.49L184.22 173.24Z" fill="#ff00ff"/>
<path d="M188.53 169.34L191.78 172.59L188.53 175.84L185.28 172.59Z" fill="#ff00ff"/>
<path d="M189.60 168.69L192.85 171.94L189.60 175.19L186.35 171.94Z" fill="#ff00ff"/>
<path d="M190.66 168.05L193.91 171.30L190.66 174.55L187.41 171.30Z" fill="#ff00ff"/>
<path d="M191.72 167.40L194.97 170.65L191.72 173.90L188.47 170.65Z" fill="#ff00ff"/>
<path d="M192.79 166.76L196.04 170.01L192.79 173.26L189.54 170.01Z" fill="#ff00ff"/>
<path d="M193.85 166.11L197.10 169.36L193.85 172.61L190.60 169.36Z" fill="#ff00ff"/>
<path d="M194.92 165.47L198.17 168.72L194.92 171.97L191.67 168.72Z" fill="#ff00ff"/>
<path d="M195.98 164.82L199.23 168.07L195.98 171.32L192.73 168.07Z" fill="#ff00ff"/>
<path d="M197.04 164.18L200.29 167.43L197.04 170.68L193.79 167.43Z" fill="#ff00ff"/>
<path d="M198.11 163.53L201.36 166.78L198.11 170.03L194.86 166.78Z" fill="#ff00ff"/>
<path d="M199.17 162.89L202.42 166.14L199.17 169.39L195.92 166.14Z" fill="#ff00ff"/>
<path d="M200.24 162.24L203.49 165.49L200.24 168.74L196.99 165.49Z" fill="#ff00ff"/>
<path d="M201.30 161.60L204.55 164.85L201.30 168.10L198.05 164.85Z" fill="#ff00ff"/>
<path d="M202.36 160.95L205.61 164.20L202.36 167.45L199.11 164.20Z" fill="#ff00ff"/>
<path d="M203.43 160.31L206.68 163.56L203.43 166.81L200.18 163.56Z" fill="#ff00ff"/>
<path d="M204.49 159.66L207.74 162.91L204.49 166.16L201.24 162.91Z" fill="#ff00ff"/>
<path d="M205.56 159.02L208.81 162.27L205.56 165.52L202.31 162.27Z" fill="#ff00ff"/>
<path d="M206.62 158.37L209.87 161.62L206.62 164.87L203.37 161.62Z" fill="#ff00ff"/>
<path d="M207.68 157.73L210.93 160.98L207.68 164.23L204.43 160.98Z" fill="#ff00ff"/>
<path d="M208.75 157.09L212.00 160.34L208.75 163.59L205.50 160.34Z" fill="#ff00ff"/>
<path d="M209.81 156.44L213.06 159.69L209.81 162.94L206.56 159.69Z" fill="#ff00ff"/>
<path d="M210.88 155.80L214.13 159.05L210.88 162.30L207.63 159.05Z" fill="#ff00ff"/>
<path d="M211.94 155.15L215.19 158.40L211.94 161.65L208.69 158.40Z" fill="#ff00ff"/>
<path d="M213.00 154.51L216.25 157.76L213.00 161.01L209.75 157.76Z" fill="#ff00ff"/>
<path d="M214.07 153.86L217.32 157.11L214.07 160.36L210.82 157.11Z" fill="#ff00ff"/>
<path d="M215.13 153.22L218.38 156.47L215.13 159.72L211.88 156.47Z" fill="#ff00ff"/>
<path d="M216.20 152.58L219.45 155.83L216.20 159.08L212.95 155.83Z" fill="#ff00ff"/>
<path d="M217.26 151.93L220.51 155.18L217.26 158.43L214.01 155.18Z" fill="#ff00ff"/>
<path d="M218.32 151.29L221.57 154.54L218.32 157.79L215.07 154.54Z" fill="#ff00ff"/>
<path d="M219.39 150.64L222.64 153.89L219.39 157.14L216.14 153.89Z" fill="#ff00ff"/>
<path d="M220.45 150.00L223.70 153.25L220.45 156.50L217.20 153.25Z" fill="#ff00ff"/>
<path d="M221.52 149.35L224.77 152.60L221.52 155.85L218.27 152.60Z" fill="#ff00ff"/>
<path d="M222.58 148.71L225.83 151.96L222.58 155.21L219.33 151.96Z" fill="#ff00ff"/>
<path d="M223.64 148.07L226.89 151.32L223.64 154.57L220.39 151.32Z" fill="#ff00ff"/>
<path d="M224.71 147.42L227.96 150.67L224.71 153.92L221.46 150.67Z" fill="#ff00ff"/>
<path d="M225.77 146.78L229.02 150.03L225.77 153.28L222.52 150.03Z" fill="#ff00ff"/>
<path d="M226.84 146.14L230.09 149.39L226.84 152.64L223.59 149.39Z" fill="#ff00ff"/>
<path d="M227.90 145.49L231.15 148.74L227.90 151.99L224.65 148.74Z" fill="#ff00ff"/>
<path d="M228.96 144.85L232.21 148.10L228.96 151.35L225.71 148.10Z" fill="#ff00ff"/>
<path d="M230.03 144.20L233.28 147.45L230.03 150.70L226.78 147.45Z" fill="#ff00ff"/>
<path d="M231.09 143.56L234.34 146.81L231.09 150.06L227.84 146.81Z" fill="#ff00ff"/>
<path d="M232.16 142.92L235.41 146.17L232.16 149.42L228.91 146.17Z" fill="#ff00ff"/>
<path d="M233.22 142.27L236.47 145.52L233.22 148.77L229.97 145.52Z" fill="#ff00ff"/>
<path d="M234.28 141.63L237.53 144.88L234.28 148.13L231.03 144.88Z" fill="#ff00ff"/>
<path d="M235.35 140.99L238.60 144.24L235.35 147.49L232.10 144.24Z" fill="#ff00ff"/>
<path d="M236.41 140.34L239.66 143.59L236.41 146.84L233.16 143.59Z" fill="#ff00ff"/>
<path d="M237.48 139.70L240.73 142.95L237.48 146.20L234.23 142.95Z" fill="#ff00ff"/>
<path d="M238.54 139.06L241.79 142.31L238.54 145.56L235.29 142.31Z" fill="#ff00ff"/>
<path d="M239.60 138.41L242.85 141.66L239.60 144.91L236.35 141.66Z" fill="#ff00ff"/>
<path d="M240.67 137.77L243.92 141.02L240.67 144.27L237.42 141.02Z" fill="#ff00ff"/>
<path d="M241.73 137.13L244.98 140.38L241.73 143.63L238.48 140.38Z" fill="#ff00ff"/>
<path d="M242.80 136.48L246.05 139.73L242.80 142.98L239.55 139.73Z" fill="#ff00ff"/>
<path d="M243.86 135.84L247.11 139.09L243.86 142.34L240.61 139.09Z" fill="#ff00ff"/>
<path d="M244.92 135.20L248.17 138.45L244.92 141.70L241.67 138.45Z" fill="#ff00ff"/>
<path d="M245.99 134.55L249.24 137.80L245.99 141.05L242.74 137.80Z" fill="#ff00ff"/>
<path d="M247.05 133.91L250.30 137.16L247.05 140.41L243.80 137.16Z" fill="#ff00ff"/>
<path d="M248.12 133.27L251.37 136.52L248.12 139.77L244.87 136.52Z" fill="#ff00ff"/>
<path d="M249.18 132.63L252.43 135.88L249.18 139.13L245.93 135.88Z" fill="#ff00ff"/>
<path d="M250.24 131.98L253.49 135.23L250.24 138.48L246.99 135.23Z" fill="#ff00ff"/>
<path d="M251.31 131.34L254.56 134.59L251.31 137.84L248.06 134.59Z" fill="#ff00ff"/>
<path d="M252.37 130.70L255.62 133.95L252.37 137.20L249.12 133.95Z" fill="#ff00ff"/>
<path d="M253.44 130.05L256.69 133.30L253.44 136.55L250.19 133.30Z" fill="#ff00ff"/>
<path d="M254.50 129.41L257.75 132.66L254.50 135.91L251.25 132.66Z" fill="#ff00ff"/>
<path d="M255.56 128.77L258.81 132.02L255.56 135.27L252.31 132.02Z" fill="#ff00ff"/>
<path d="M256.63 128.13L259.88 131.38L256.63 134.63L253.38 131.38Z" fill="#ff00ff"/>
<path d="M257.69 127.48L260.94 130.73L257.69 133.98L254.44 130.73Z" fill="#ff00ff"/>
<path d="M258.76 126.84L262.01 130.09L258.76 133.34L255.51 130.09Z" fill="#ff00ff"/>
<path d="M259.82 126.20L263.07 129.45L259.82 132.70L256.57 129.45Z" fill="#ff00ff"/>
<path d="M260.88 125.56L264.13 128.81L260.88 132.06L257.63 128.81Z" fill="#ff00ff"/>
<path d="M261.95 124.91L265.20 128.16L261.95 131.41L258.70 128.16Z" fill="#ff00ff"/>
<path d="M263.01 124.27L266.26 127.52L263.01 130.77L259.76 127.52Z" fill="#ff00ff"/>
<path d="M264.08 123.63L267.33 126.88L264.08 130.13L260.83 126.88Z" fill="#ff00ff"/>
<path d="M265.14 122.99L268.39 126.24L265.14 129.49L261.89 126.24Z" fill="#ff00ff"/>
<path d="M266.20 122.34L269.45 125.59L266.20 128.84L262.95 125.59Z" fill="#ff00ff"/>
<path d="M267.27 121.70L270.52 124.95L267.27 128.20L264.02 124.95Z" fill="#ff00ff"/>
<path d="M268.33 121.06L271.58 124.31L268.33 127.56L265.08 124.31Z" fill="#ff00ff"/>
<path d="M269.40 120.42L272.65 123.67L269.40 126.92L266.15 123.67Z" fill="#ff00ff"/>
<path d="M270.46 119.77L273.71 123.02L270.46 126.27L267.21 123.02Z" fill="#ff00ff"/>
<path d="M271.52 119.13L274.77 122.38L271.52 125.63L268.27 122.38Z" fill="#ff00ff"/>
<path d="M272.59 118.49L275.84 121.74L272.59 124.99L269.34 121.74Z" fill="#ff00ff"/>
<path d="M273.65 117.85L276.90 121.10L273.65 124.35L270.40 121.10Z" fill="#ff00ff"/>
<path d="M274.72 117.21L277.97 120.46L274.72 123.71L271.47 120.46Z" fill="#ff00ff"/>
<path d="M275.78 116.56L279.03 119.81L275.78 123.06L272.53 119.81Z" fill="#ff00ff"/>
<path d="M276.84 115.92L280.09 119.17L276.84 122.42L273.59 119.17Z" fill="#ff00ff"/>
<path d="M277.91 115.28L281.16 118.53L277.91 121.78L274.66 118.53Z" fill="#ff00ff"/>
<path d="M278.97 114.64L282.22 117.89L278.97 121.14L275.72 117.89Z" fill="#ff00ff"/>
<path d="M280.04 114.00L283.29 117.25L280.04 120.50L276.79 117.25Z" fill="#ff00ff"/>
<path d="M281.10 113.35L284.35 116.60L281.10 119.85L277.85 116.60Z" fill="#ff00ff"/>
<path d="M282.16 112.71L285.41 115.96L282.16 119.21L278.91 115.96Z" fill="#ff00ff"/>
<path d="M283.23 112.07L286.48 115.32L283.23 118.57L279.98 115.32Z" fill="#ff00ff"/>
<path d="M284.29 111.43L287.54 114.68L284.29 117.93L281.04 114.68Z" fill="#ff00ff"/>
<path d="M285.36 110.79L288.61 114.04L285.36 117.29L282.11 114.04Z" fill="#ff00ff"/>
<path d="M286.42 110.14L289.67 113.39L286.42 116.64L283.17 113.39Z" fill="#ff00ff"/>
<path d="M287.48 109.50L290.73 112.75L287.48 116.00L284.23 112.75Z" fill="#ff00ff"/>
<path d="M288.55 108.86L291.80 112.11L288.55 115.36L285.30 112.11Z" fill="#ff00ff"/>
<path d="M289.61 108.22L292.86 111.47L289.61 114.72L286.36 111.47Z" fill="#ff00ff"/>
<path d="M290.68 107.58L293.93 110.83L290.68 114.08L287.43 110.83Z" fill="#ff00ff"/>
<path d="M291.74 106.94L294.99 110.19L291.74 113.44L288.49 110.19Z" fill="#ff00ff"/>
<path d="M292.80 106.29L296.05 109.54L292.80 112.79L289.55 109.54Z" fill="#ff00ff"/>
<path d="M293.87 105.65L297.12 108.90L293.87 112.15L290.62 108.90Z" fill="#ff00ff"/>
<path d="M294.93 105.01L298.18 108.26L294.93 111.51L291.68 108.26Z" fill="#ff00ff"/>
<path d="M296.00 104.37L299.25 107.62L296.00 110.87L292.75 107.62Z" fill="#ff00ff"/>
<path d="M297.06 103.73L300.31 106.98L297.06 110.23L293.81 106.98Z" fill="#ff00ff"/>
<path d="M298.12 103.09L301.37 106.34L298.12 109.59L294.87 106.34Z" fill="#ff00ff"/>
<path d="M299.19 102.45L302.44 105.70L299.19 108.95L295.94 105.70Z" fill="#ff00ff"/>
<path d="M300.25 101.80L303.50 105.05L300.25 108.30L297.00 105.05Z" fill="#ff00ff"/>
<path d="M301.32 101.16L304.57 104.41L301.32 107.66L298.07 104.41Z" fill="#ff00ff"/>
<path d="M302.38 100.52L305.63 103.77L302.38 107.02L299.13 103.77Z" fill="#ff00ff"/>
<path d="M303.44 99.88L306.69 103.13L303.44 106.38L300.19 103.13Z" fill="#ff00ff"/>
<path d="M304.51 99.24L307.76 102.49L304.51 105.74L301.26 102.49Z" fill="#ff00ff"/>
<path d="M305.57 98.60L308.82 101.85L305.57 105.10L302.32 101.85Z" fill="#ff00ff"/>
<path d="M306.64 97.96L309.89 101.21L306.64 104.46L303.39 101.21Z" fill="#ff00ff"/>
<path d="M307.70 97.31L310.95 100.56L307.70 103.81L304.45 100.56Z" fill="#ff00ff"/>
<path d="M308.76 96.67L312.01 99.92L308.76 103.17L305.51 99.92Z" fill="#ff00ff"/>
<path d="M309.83 96.03L313.08 99.28L309.83 102.53L306.58 99.28Z" fill="#ff00ff"/>
<path d="M310.89 95.39L314.14 98.64L310.89 101.89L307.64 98.64Z" fill="#ff00ff"/>
<path d="M311.96 94.75L315.21 98.00L311.96 101.25L308.71 98.00Z" fill="#ff00ff"/>
<path d="M313.02 94.11L316.27 97.36L313.02 100.61L309.77 97.36Z" fill="#ff00ff"/>
<path d="M314.08 93.47L317.33 96.72L314.08 99.97L310.83 96.72Z" fill="#ff00ff"/>
<path d="M315.15 92.83L318.40 96.08L315.15 99.33L311.90 96.08Z" fill="#ff00ff"/>
<path d="M316.21 92.19L319.46 95.44L316.21 98.69L312.96 95.44Z" fill="#ff00ff"/>
<path d="M317.28 91.54L320.53 94.79L317.28 98.04L314.03 94.79Z" fill="#ff00ff"/>
<path d="M318.34 90.90L321.59 94.15L318.34 97.40L315.09 94.15Z" fill="#ff00ff"/>
<path d="M319.40 90.26L322.65 93.51L319.40 96.76L316.15 93.51Z" fill="#ff00ff"/>
<path d="M320.47 89.62L323.72 92.87L320.47 96.12L317.22 92.87Z" fill="#ff00ff"/>
<path d="M321.53 88.98L324.78 92.23L321.53 95.48L318.28 92.23Z" fill="#ff00ff"/>
<path d="M322.60 88.34L325.85 91.59L322.60 94.84L319.35 91.59Z" fill="#ff00ff"/>
<path d="M323.66 87.70L326.91 90.95L323.66 94.20L320.41 90.95Z" fill="#ff00ff"/>
<path d="M324.72 87.06L327.97 90.31L324.72 93.56L321.47 90.31Z" fill="#ff00ff"/>
<path d="M325.79 86.42L329.04 89.67L325.79 92.92L322.54 89.67Z" fill="#ff00ff"/>
<path d="M326.85 85.78L330.10 89.03L326.85 92.28L323.60 89.03Z" fill="#ff00ff"/>
<path d="M327.92 85.14L331.17 88.39L327.92 91.64L324.67 88.39Z" fill="#ff00ff"/>
<path d="M328.98 84.49L332.23 87.74L328.98 90.99L325.73 87.74Z" fill="#ff00ff"/>
<path d="M330.04 83.85L333.29 87.10L330.04 90.35L326.79 87.10Z" fill="#ff00ff"/>
<path d="M331.11 83.21L334.36 86.46L331.11 89.71L327.86 86.46Z" fill="#ff00ff"/>
<path d="M332.17 82.57L335.42 85.82L332.17 89.07L328.92 85.82Z" fill="#ff00ff"/>
<path d="M333.24 81.93L336.49 85.18L333.24 88.43L329.99 85.18Z" fill="#ff00ff"/>
<path d="M334.30 81.29L337.55 84.54L334.30 87.79L331.05 84.54Z" fill="#ff00ff"/>
</g>
<g>
<path d="M456.62 104.18 L482.32 103.74 L497.36 103.04 L508.03 102.15 L516.31 101.11 L523.07 99.98 L528.79 98.78 L533.74 97.56 L538.11 96.32 L542.02 95.09 L545.55 93.87 L548.78 92.67 L551.75 91.50 L554.50 90.35 L557.05 89.23 L559.45 88.14 L561.70 87.08 L563.82 86.04 L565.82 85.04 L567.72 84.06 L569.53 83.11 L571.26 82.18 L572.91 81.28 L574.49 80.40 L576.00 79.54 L577.45 78.70 L578.85 77.89 L580.20 77.09 L581.50 76.31 L582.76 75.55 L583.98 74.81 L585.16 74.09 L586.30 73.38 L587.40 72.69 L588.48 72.01 L589.52 71.34 L590.54 70.69 L591.53 70.05 L592.49 69.43 L593.43 68.81 L594.35 68.21 L595.24 67.62 L596.11 67.04 L596.97 66.47 L597.80 65.92 L598.62 65.37 L599.41 64.83 L600.19 64.30 L600.96 63.78 L601.71 63.26 L602.44 62.76 L603.16 62.26 L603.87 61.77 L604.56 61.29 L605.24 60.82 L605.91 60.35 L606.57 59.89 L607.21 59.44 L607.85 58.99 L608.47 58.55 L609.08 58.12 L609.69 57.69 L610.28 57.27 L610.86 56.85 L611.44 56.44 L612.00 56.04 L612.56 55.63 L613.11 55.24 L613.65 54.85 L614.19 54.46 L614.71 54.08 L615.23 53.71 L615.74 53.34 L616.25 52.97 L616.75 52.61 L617.24 52.25 L617.72 51.89 L618.20 51.54 L618.67 51.20 L619.14 50.85 L619.60 50.52 L620.06 50.18 L620.51 49.85 L620.95 49.52 L621.39 49.20 L621.82 48.87 L622.25 48.56 L622.67 48.24 L623.09 47.93 L623.51 47.62 L623.92 47.32 L624.32 47.02 L624.72 46.72 L625.12 46.42 L625.51 46.13 L625.90 45.84 L626.29 45.55 L626.67 45.26 L627.04 44.98 L627.42 44.70 L627.78 44.42 L628.15 44.15 L628.51 43.87 L628.87 43.60 L629.23 43.33 L629.58 43.07 L629.93 42.81 L630.27 42.54 L630.61 42.29 L630.95 42.03 L631.29 41.77 L631.62 41.52 L631.95 41.27 L632.28 41.02 L632.60 40.78 L632.92 40.53 L633.24 40.29 L633.55 40.05 L633.87 39.81 L634.18 39.57 L634.49 39.34 L634.79 39.10 L635.09 38.87 L635.39 38.64 L635.69 38.41 L635.99 38.19 L636.28 37.96 L636.57 37.74 L636.86 37.52 L637.15 37.30 L637.43 37.08 L637.71 36.86 L637.99 36.65 L638.27 36.43 L638.55 36.22 L638.82 36.01 L639.09 35.80 L639.36 35.59 L639.63 35.38 L639.90 35.18 L640.16 34.98 L640.42 34.77 L640.68 34.57 L640.94 34.37 L641.20 34.17 L641.45 33.98 L641.70 33.78 L641.96 33.58 L642.21 33.39 L642.45 33.20 L642.70 33.01 L642.95 32.82 L643.19 32.63 L643.43 32.44 L643.67 32.25 L643.91 32.07 L644.15 31.88 L644.38 31.70 L644.62 31.52 L644.85 31.34 L645.08 31.16 L645.31 30.98 L645.54 30.80 L645.76 30.62 L645.99 30.45 L646.21 30.27 L646.44 30.10 L646.66 29.93 L646.88 29.75 L647.10 29.58 L647.31 29.41 L647.53 29.24 L647.75 29.07 L647.96 28.91 L648.17 28.74 L648.38 28.58 L648.59 28.41 L648.80 28.25 L649.01 28.08 L649.22 27.92 L649.42 27.76 L649.63 27.60 L649.83 27.44 L650.03 27.28 L650.23 27.13 L650.43 26.97 L650.63 26.81 L650.83 26.66 L651.03 26.50 L651.22 26.35 L651.42 26.19 L651.61 26.04 L651.80 25.89 L651.99 25.74 L652.18 25.59 L652.37 25.44 L652.56 25.29 L652.75 25.14 L652.94 25.00 L653.12 24.85" stroke="#000000" stroke-opacity="0.5" stroke-width="1.1" fill="none"/>
<rect x="454.32" y="101.88" width="4.60" height="4.60" fill="#000000"/>
<rect x="480.02" y="101.44" width="4.60" height="4.60" fill="#000000"/>
<rect x="495.06" y="100.74" width="4.60" height="4.60" fill="#000000"/>
<rect x="505.73" y="99.85" width="4.60" height="4.60" fill="#000000"/>
<rect x="514.01" y="98.81" width="4.60" height="4.60" fill="#000000"/>
<rect x="520.77" y="97.68" width="4.60" height="4.60" fill="#000000"/>
<rect x="526.49" y="96.48" width="4.60" height="4.60" fill="#000000"/>
<rect x="531.44" y="95.26" width="4.60" height="4.60" fill="#000000"/>
<rect x="535.81" y="94.02" width="4.60" height="4.60" fill="#000000"/>
<rect x="539.72" y="92.79" width="4.60" height="4.60" fill="#000000"/>
<rect x="543.25" y="91.57" width="4.60" height="4.60" fill="#000000"/>
<rect x="546.48" y="90.37" width="4.60" height="4.60" fill="#000000"/>
<rect x="549.45" y="89.20" width="4.60" height="4.60" fill="#000000"/>
<rect x="552.20" y="88.05" width="4.60" height="4.60" fill="#000000"/>
<rect x="554.75" y="86.93" width="4.60" height="4.60" fill="#000000"/>
<rect x="557.15" y="85.84" width="4.60" height="4.60" fill="#000000"/>
<rect x="559.40" y="84.78" width="4.60" height="4.60" fill="#000000"/>
<rect x="561.52" y="83.74" width="4.60" height="4.60" fill="#000000"/>
<rect x="563.52" y="82.74" width="4.60" height="4.60" fill="#000000"/>
<rect x="565.42" y="81.76" width="4.60" height="4.60" fill="#000000"/>
<rect x="567.23" y="80.81" width="4.60" height="4.60" fill="#000000"/>
<rect x="568.96" y="79.88" width="4.60" height="4.60" fill="#000000"/>
<rect x="570.61" y="78.98" width="4.60" height="4.60" fill="#000000"/>
<rect x="572.19" y="78.10" width="4.60" height="4.60" fill="#000000"/>
<rect x="573.70" y="77.24" width="4.60" height="4.60" fill="#000000"/>
<rect x="575.15" y="76.40" width="4.60" height="4.60" fill="#000000"/>
<rect x="576.55" y="75.59" width="4.60" height="4.60" fill="#000000"/>
<rect x="577.90" y="74.79" width="4.60" height="4.60" fill="#000000"/>
<rect x="579.20" y="74.01" width="4.60" height="4.60" fill="#000000"/>
<rect x="580.46" y="73.25" width="4.60" height="4.60" fill="#000000"/>
<rect x="581.68" y="72.51" width="4.60" height="4.60" fill="#000000"/>
<rect x="582.86" y="71.79" width="4.60" height="4.60" fill="#000000"/>
<rect x="584.00" y="71.08" width="4.60" height="4.60" fill="#000000"/>
<rect x="585.10" y="70.39" width="4.60" height="4.60" fill="#000000"/>
<rect x="586.18" y="69.71" width="4.60" height="4.60" fill="#000000"/>
<rect x="587.22" y="69.04" width="4.60" height="4.60" fill="#000000"/>
<rect x="588.24" y="68.39" width="4.60" height="4.60" fill="#000000"/>
<rect x="589.23" y="67.75" width="4.60" height="4.60" fill="#000000"/>
<rect x="590.19" y="67.13" width="4.60" height="4.60" fill="#000000"/>
<rect x="591.13" y="66.51" width="4.60" height="4.60" fill="#000000"/>
<rect x="592.05" y="65.91" width="4.60" height="4.60" fill="#000000"/>
<rect x="592.94" y="65.32" width="4.60" height="4.60" fill="#000000"/>
<rect x="593.81" y="64.74" width="4.60" height="4.60" fill="#000000"/>
<rect x="594.67" y="64.17" width="4.60" height="4.60" fill="#000000"/>
<rect x="595.50" y="63.62" width="4.60" height="4.60" fill="#000000"/>
<rect x="596.32" y="63.07" width="4.60" height="4.60" fill="#000000"/>
<rect x="597.11" y="62.53" width="4.60" height="4.60" fill="#000000"/>
<rect x="597.89" y="62.00" width="4.60" height="4.60" fill="#000000"/>
<rect x="598.66" y="61.48" width="4.60" height="4.60" fill="#000000"/>
<rect x="599.41" y="60.96" width="4.60" height="4.60" fill="#000000"/>
<rect x="600.14" y="60.46" width="4.60" height="4.60" fill="#000000"/>
<rect x="600.86" y="59.96" width="4.60" height="4.60" fill="#000000"/>
<rect x="601.57" y="59.47" width="4.60" height="4.60" fill="#000000"/>
<rect x="602.26" y="58.99" width="4.60" height="4.60" fill="#000000"/>
<rect x="602.94" y="58.52" width="4.60" height="4.60" fill="#000000"/>
<rect x="603.61" y="58.05" width="4.60" height="4.60" fill="#000000"/>
<rect x="604.27" y="57.59" width="4.60" height="4.60" fill="#000000"/>
<rect x="604.91" y="57.14" width="4.60" height="4.60" fill="#000000"/>
<rect x="605.55" y="56.69" width="4.60" height="4.60" fill="#000000"/>
<rect x="606.17" y="56.25" width="4.60" height="4.60" fill="#000000"/>
<rect x="606.78" y="55.82" width="4.60" height="4.60" fill="#000000"/>
<rect x="607.39" y="55.39" width="4.60" height="4.60" fill="#000000"/>
<rect x="607.98" y="54.97" width="4.60" height="4.60" fill="#000000"/>
<rect x="608.56" y="54.55" width="4.60" height="4.60" fill="#000000"/>
<rect x="609.14" y="54.14" width="4.60" height="4.60" fill="#000000"/>
<rect x="609.70" y="53.74" width="4.60" height="4.60" fill="#000000"/>
<rect x="610.26" y="53.33" width="4.60" height="4.60" fill="#000000"/>
<rect x="610.81" y="52.94" width="4.60" height="4.60" fill="#000000"/>
<rect x="611.35" y="52.55" width="4.60" height="4.60" fill="#000000"/>
<rect x="611.89" y="52.16" width="4.60" height="4.60" fill="#000000"/>
<rect x="612.41" y="51.78" width="4.60" height="4.60" fill="#000000"/>
<rect x="612.93" y="51.41" width="4.60" height="4.60" fill="#000000"/>
<rect x="613.44" y="51.04" width="4.60" height="4.60" fill="#000000"/>
<rect x="613.95" y="50.67" width="4.60" height="4.60" fill="#000000"/>
<rect x="614.45" y="50.31" width="4.60" height="4.60" fill="#000000"/>
<rect x="614.94" y="49.95" width="4.60" height="4.60" fill="#000000"/>
<rect x="615.42" y="49.59" width="4.60" height="4.60" fill="#000000"/>
<rect x="615.90" y="49.24" width="4.60" height="4.60" fill="#000000"/>
<rect x="616.37" y="48.90" width="4.60" height="4.60" fill="#000000"/>
<rect x="616.84" y="48.55" width="4.60" height="4.60" fill="#000000"/>
<rect x="617.30" y="48.22" width="4.60" height="4.60" fill="#000000"/>
<rect x="617.76" y="47.88" width="4.60" height="4.60" fill="#000000"/>
<rect x="618.21" y="47.55" width="4.60" height="4.60" fill="#000000"/>
<rect x="618.65" y="47.22" width="4.60" height="4.60" fill="#000000"/>
<rect x="619.09" y="46.90" width="4.60" height="4.60" fill="#000000"/>
<rect x="619.52" y="46.57" width="4.60" height="4.60" fill="#000000"/>
<rect x="619.95" y="46.26" width="4.60" height="4.60" fill="#000000"/>
<rect x="620.37" y="45.94" width="4.60" height="4.60" fill="#000000"/>
<rect x="620.79" y="45.63" width="4.60" height="4.60" fill="#000000"/>
<rect x="621.21" y="45.32" width="4.60" height="4.60" fill="#000000"/>
<rect x="621.62" y="45.02" width="4.60" height="4.60" fill="#000000"/>
<rect x="622.02" y="44.72" width="4.60" height="4.60" fill="#000000"/>
<rect x="622.42" y="44.42" width="4.60" height="4.60" fill="#000000"/>
<rect x="622.82" y="44.12" width="4.60" height="4.60" fill="#000000"/>
<rect x="623.21" y="43.83" width="4.60" height="4.60" fill="#000000"/>
<rect x="623.60" y="43.54" width="4.60" height="4.60" fill="#000000"/>
<rect x="623.99" y="43.25" width="4.60" height="4.60" fill="#000000"/>
<rect x="624.37" y="42.96" width="4.60" height="4.60" fill="#000000"/>
<rect x="624.74" y="42.68" width="4.60" height="4.60" fill="#000000"/>
<rect x="625.12" y="42.40" width="4.60" height="4.60" fill="#000000"/>
<rect x="625.48" y="42.12" width="4.60" height="4.60" fill="#000000"/>
<rect x="625.85" y="41.85" width="4.60" height="4.60" fill="#000000"/>
<rect x="626.21" y="41.57" width="4.60" height="4.60" fill="#000000"/>
<rect x="626.57" y="41.30" width="4.60" height="4.60" fill="#000000"/>
<rect x="626.93" y="41.03" width="4.60" height="4.60" fill="#000000"/>
<rect x="627.28" y="40.77" width="4.60" height="4.60" fill="#000000"/>
<rect x="627.63" y="40.51" width="4.60" height="4.60" fill="#000000"/>
<rect x="627.97" y="40.24" width="4.60" height="4.60" fill="#000000"/>
<rect x="628.31" y="39.99" width="4.60" height="4.60" fill="#000000"/>
<rect x="628.65" y="39.73" width="4.60" height="4.60" fill="#000000"/>
<rect x="628.99" y="39.47" width="4.60" height="4.60" fill="#000000"/>
<rect x="629.32" y="39.22" width="4.60" height="4.60" fill="#000000"/>
<rect x="629.65" y="38.97" width="4.60" height="4.60" fill="#000000"/>
<rect x="629.98" y="38.72" width="4.60" height="4.60" fill="#000000"/>
<rect x="630.30" y="38.48" width="4.60" height="4.60" fill="#000000"/>
<rect x="630.62" y="38.23" width="4.60" height="4.60" fill="#000000"/>
<rect x="630.94" y="37.99" width="4.60" height="4.60" fill="#000000"/>
<rect x="631.25" y="37.75" width="4.60" height="4.60" fill="#000000"/>
<rect x="631.57" y="37.51" width="4.60" height="4.60" fill="#000000"/>
<rect x="631.88" y="37.27" width="4.60" height="4.60" fill="#000000"/>
<rect x="632.19" y="37.04" width="4.60" height="4.60" fill="#000000"/>
<rect x="632.49" y="36.80" width="4.60" height="4.60" fill="#000000"/>
<rect x="632.79" y="36.57" width="4.60" height="4.60" fill="#000000"/>
<rect x="633.09" y="36.34" width="4.60" height="4.60" fill="#000000"/>
<rect x="633.39" y="36.11" width="4.60" height="4.60" fill="#000000"/>
<rect x="633.69" y="35.89" width="4.60" height="4.60" fill="#000000"/>
<rect x="633.98" y="35.66" width="4.60" height="4.60" fill="#000000"/>
<rect x="634.27" y="35.44" width="4.60" height="4.60" fill="#000000"/>
<rect x="634.56" y="35.22" width="4.60" height="4.60" fill="#000000"/>
<rect x="634.85" y="35.00" width="4.60" height="4.60" fill="#000000"/>
<rect x="635.13" y="34.78" width="4.60" height="4.60" fill="#000000"/>
<rect x="635.41" y="34.56" width="4.60" height="4.60" fill="#000000"/>
<rect x="635.69" y="34.35" width="4.60" height="4.60" fill="#000000"/>
<rect x="635.97" y="34.13" width="4.60" height="4.60" fill="#000000"/>
<rect x="636.25" y="33.92" width="4.60" height="4.60" fill="#000000"/>
<rect x="636.52" y="33.71" width="4.60" height="4.60" fill="#000000"/>
<rect x="636.79" y="33.50" width="4.60" height="4.60" fill="#000000"/>
<rect x="637.06" y="33.29" width="4.60" height="4.60" fill="#000000"/>
<rect x="637.33" y="33.08" width="4.60" height="4.60" fill="#000000"/>
<rect x="637.60" y="32.88" width="4.60" height="4.60" fill="#000000"/>
<rect x="637.86" y="32.68" width="4.60" height="4.60" fill="#000000"/>
<rect x="638.12" y="32.47" width="4.60" height="4.60" fill="#000000"/>
<rect x="638.38" y="32.27" width="4.60" height="4.60" fill="#000000"/>
<rect x="638.64" y="32.07" width="4.60" height="4.60" fill="#000000"/>
<rect x="638.90" y="31.87" width="4.60" height="4.60" fill="#000000"/>
<rect x="639.15" y="31.68" width="4.60" height="4.60" fill="#000000"/>
<rect x="639.40" y="31.48" width="4.60" height="4.60" fill="#000000"/>
<rect x="639.66" y="31.28" width="4.60" height="4.60" fill="#000000"/>
<rect x="639.91" y="31.09" width="4.60" height="4.60" fill="#000000"/>
<rect x="640.15" y="30.90" width="4.60" height="4.60" fill="#000000"/>
<rect x="640.40" y="30.71" width="4.60" height="4.60" fill="#000000"/>
<rect x="640.65" y="30.52" width="4.60" height="4.60" fill="#000000"/>
<rect x="640.89" y="30.33" width="4.60" height="4.60" fill="#000000"/>
<rect x="641.13" y="30.14" width="4.60" height="4.60" fill="#000000"/>
<rect x="641.37" y="29.95" width="4.60" height="4.60" fill="#000000"/>
<rect x="641.61" y="29.77" width="4.60" height="4.60" fill="#000000"/>
<rect x="641.85" y="29.58" width="4.60" height="4.60" fill="#000000"/>
<rect x="642.08" y="29.40" width="4.60" height="4.60" fill="#000000"/>
<rect x="642.32" y="29.22" width="4.60" height="4.60" fill="#000000"/>
<rect x="642.55" y="29.04" width="4.60" height="4.60" fill="#000000"/>
<rect x="642.78" y="28.86" width="4.60" height="4.60" fill="#000000"/>
<rect x="643.01" y="28.68" width="4.60" height="4.60" fill="#000000"/>
<rect x="643.24" y="28.50" width="4.60" height="4.60" fill="#000000"/>
<rect x="643.46" y="28.32" width="4.60" height="4.60" fill="#000000"/>
<rect x="643.69" y="28.15" width="4.60" height="4.60" fill="#000000"/>
<rect x="643.91" y="27.97" width="4.60" height="4.60" fill="#000000"/>
<rect x="644.14" y="27.80" width="4.60" height="4.60" fill="#000000"/>
<rect x="644.36" y="27.63" width="4.60" height="4.60" fill="#000000"/>
<rect x="644.58" y="27.45" width="4.60" height="4.60" fill="#000000"/>
<rect x="644.80" y="27.28" width="4.60" height="4.60" fill="#000000"/>
<rect x="645.01" y="27.11" width="4.60" height="4.60" fill="#000000"/>
<rect x="645.23" y="26.94" width="4.60" height="4.60" fill="#000000"/>
<rect x="645.45" y="26.77" width="4.60" height="4.60" fill="#000000"/>
<rect x="645.66" y="26.61" width="4.60" height="4.60" fill="#000000"/>
<rect x="645.87" y="26.44" width="4.60" height="4.60" fill="#000000"/>
<rect x="646.08" y="26.28" width="4.60" height="4.60" fill="#000000"/>
<rect x="646.29" y="26.11" width="4.60" height="4.60" fill="#000000"/>
<rect x="646.50" y="25.95" width="4.60" height="4.60" fill="#000000"/>
<rect x="646.71" y="25.78" width="4.60" height="4.60" fill="#000000"/>
<rect x="646.92" y="25.62" width="4.60" height="4.60" fill="#000000"/>
<rect x="647.12" y="25.46" width="4.60" height="4.60" fill="#000000"/>
<rect x="647.33" y="25.30" width="4.60" height="4.60" fill="#000000"/>
<rect x="647.53" y="25.14" width="4.60" height="4.60" fill="#000000"/>
<rect x="647.73" y="24.98" width="4.60" height="4.60" fill="#000000"/>
<rect x="647.93" y="24.83" width="4.60" height="4.60" fill="#000000"/>
<rect x="648.13" y="24.67" width="4.60" height="4.60" fill="#000000"/>
<rect x="648.33" y="24.51" width="4.60" height="4.60" fill="#000000"/>
<rect x="648.53" y="24.36" width="4.60" height="4.60" fill="#000000"/>
<rect x="648.73" y="24.20" width="4.60" height="4.60" fill="#000000"/>
<rect x="648.92" y="24.05" width="4.60" height="4.60" fill="#000000"/>
<rect x="649.12" y="23.89" width="4.60" height="4.60" fill="#000000"/>
<rect x="649.31" y="23.74" width="4.60" height="4.60" fill="#000000"/>
<rect x="649.50" y="23.59" width="4.60" height="4.60" fill="#000000"/>
<rect x="649.69" y="23.44" width="4.60" height="4.60" fill="#000000"/>
<rect x="649.88" y="23.29" width="4.60" height="4.60" fill="#000000"/>
<rect x="650.07" y="23.14" width="4.60" height="4.60" fill="#000000"/>
<rect x="650.26" y="22.99" width="4.60" height="4.60" fill="#000000"/>
<rect x="650.45" y="22.84" width="4.60" height="4.60" fill="#000000"/>
<rect x="650.64" y="22.70" width="4.60" height="4.60" fill="#000000"/>
<rect x="650.82" y="22.55" width="4.60" height="4.60" fill="#000000"/>
<path d="M456.62 198.16 L482.32 181.10 L497.36 170.00 L508.03 161.81 L516.31 155.32 L523.07 149.94 L528.79 145.36 L533.74 141.36 L538.11 137.81 L542.02 134.63 L545.55 131.74 L548.78 129.10 L551.75 126.66 L554.50 124.40 L557.05 122.29 L559.45 120.31 L561.70 118.46 L563.82 116.70 L565.82 115.04 L567.72 113.47 L569.53 111.97 L571.26 110.53 L572.91 109.16 L574.49 107.85 L576.00 106.59 L577.45 105.38 L578.85 104.22 L580.20 103.10 L581.50 102.01 L582.76 100.97 L583.98 99.95 L585.16 98.97 L586.30 98.02 L587.40 97.10 L588.48 96.20 L589.52 95.33 L590.54 94.48 L591.53 93.65 L592.49 92.85 L593.43 92.06 L594.35 91.30 L595.24 90.55 L596.11 89.82 L596.97 89.11 L597.80 88.41 L598.62 87.73 L599.41 87.06 L600.19 86.41 L600.96 85.77 L601.71 85.14 L602.44 84.53 L603.16 83.93 L603.87 83.33 L604.56 82.75 L605.24 82.18 L605.91 81.62 L606.57 81.07 L607.21 80.53 L607.85 80.00 L608.47 79.48 L609.08 78.97 L609.69 78.46 L610.28 77.97 L610.86 77.48 L611.44 76.99 L612.00 76.52 L612.56 76.05 L613.11 75.59 L613.65 75.14 L614.19 74.69 L614.71 74.25 L615.23 73.81 L615.74 73.39 L616.25 72.96 L616.75 72.55 L617.24 72.13 L617.72 71.73 L618.20 71.33 L618.67 70.93 L619.14 70.54 L619.60 70.15 L620.06 69.77 L620.51 69.39 L620.95 69.02 L621.39 68.65 L621.82 68.29 L622.25 67.93 L622.67 67.57 L623.09 67.22 L623.51 66.87 L623.92 66.53 L624.32 66.19 L624.72 65.85 L625.12 65.52 L625.51 65.19 L625.90 64.86 L626.29 64.54 L626.67 64.22 L627.04 63.91 L627.42 63.59 L627.78 63.28 L628.15 62.98 L628.51 62.67 L628.87 62.37 L629.23 62.08 L629.58 61.78 L629.93 61.49 L630.27 61.20 L630.61 60.91 L630.95 60.63 L631.29 60.34 L631.62 60.07 L631.95 59.79 L632.28 59.51 L632.60 59.24 L632.92 58.97 L633.24 58.71 L633.55 58.44 L633.87 58.18 L634.18 57.92 L634.49 57.66 L634.79 57.40 L635.09 57.15 L635.39 56.90 L635.69 56.64 L635.99 56.40 L636.28 56.15 L636.57 55.91 L636.86 55.66 L637.15 55.42 L637.43 55.18 L637.71 54.95 L637.99 54.71 L638.27 54.48 L638.55 54.25 L638.82 54.02 L639.09 53.79 L639.36 53.56 L639.63 53.34 L639.90 53.11 L640.16 52.89 L640.42 52.67 L640.68 52.45 L640.94 52.24 L641.20 52.02 L641.45 51.81 L641.70 51.59 L641.96 51.38 L642.21 51.17 L642.45 50.96 L642.70 50.76 L642.95 50.55 L643.19 50.35 L643.43 50.14 L643.67 49.94 L643.91 49.74 L644.15 49.54 L644.38 49.34 L644.62 49.15 L644.85 48.95 L645.08 48.76 L645.31 48.57 L645.54 48.37 L645.76 48.18 L645.99 47.99 L646.21 47.81 L646.44 47.62 L646.66 47.43 L646.88 47.25 L647.10 47.06 L647.31 46.88 L647.53 46.70 L647.75 46.52 L647.96 46.34 L648.17 46.16 L648.38 45.98 L648.59 45.81 L648.80 45.63 L649.01 45.46 L649.22 45.28 L649.42 45.11 L649.63 44.94 L649.83 44.77 L650.03 44.60 L650.23 44.43 L650.43 44.26 L650.63 44.09 L650.83 43.93 L651.03 43.76 L651.22 43.60 L651.42 43.43 L651.61 43.27 L651.80 43.11 L651.99 42.95 L652.18 42.79 L652.37 42.63 L652.56 42.47 L652.75 42.31 L652.94 42.15 L653.12 42.00" stroke="#c83c3c" stroke-opacity="0.5" stroke-width="1.1" fill="none"/>
<circle cx="456.62" cy="198.16" r="2.70" fill="#ff0000"/>
<circle cx="482.32" cy="181.10" r="2.70" fill="#ff0000"/>
<circle cx="497.36" cy="170.00" r="2.70" fill="#ff0000"/>
<circle cx="508.03" cy="161.81" r="2.70" fill="#ff0000"/>
<circle cx="516.31" cy="155.32" r="2.70" fill="#ff0000"/>
<circle cx="523.07" cy="149.94" r="2.70" fill="#ff0000"/>
<circle cx="528.79" cy="145.36" r="2.70" fill="#ff0000"/>
<circle cx="533.74" cy="141.36" r="2.70" fill="#ff0000"/>
<circle cx="538.11" cy="137.81" r="2.70" fill="#ff0000"/>
<circle cx="542.02" cy="134.63" r="2.70" fill="#ff0000"/>
<circle cx="545.55" cy="131.74" r="2.70" fill="#ff0000"/>
<circle cx="548.78" cy="129.10" r="2.70" fill="#ff0000"/>
<circle cx="551.75" cy="126.66" r="2.70" fill="#ff0000"/>
<circle cx="554.50" cy="124.40" r="2.70" fill="#ff0000"/>
<circle cx="557.05" cy="122.29" r="2.70" fill="#ff0000"/>
<circle cx="559.45" cy="120.31" r="2.70" fill="#ff0000"/>
<circle cx="561.70" cy="118.46" r="2.70" fill="#ff0000"/>
<circle cx="563.82" cy="116.70" r="2.70" fill="#ff0000"/>
<circle cx="565.82" cy="115.04" r="2.70" fill="#ff0000"/>
<circle cx="567.72" cy="113.47" r="2.70" fill="#ff0000"/>
<circle cx="569.53" cy="111.97" r="2.70" fill="#ff0000"/>
<circle cx="571.26" cy="110.53" r="2.70" fill="#ff0000"/>
<circle cx="572.91" cy="109.16" r="2.70" fill="#ff0000"/>
<circle cx="574.49" cy="107.85" r="2.70" fill="#ff0000"/>
<circle cx="576.00" cy="106.59" r="2.70" fill="#ff0000"/>
<circle cx="577.45" cy="105.38" r="2.70" fill="#ff0000"/>
<circle cx="578.85" cy="104.22" r="2.70" fill="#ff0000"/>
<circle cx="580.20" cy="103.10" r="2.70" fill="#ff0000"/>
<circle cx="581.50" cy="102.01" r="2.70" fill="#ff0000"/>
<circle cx="582.76" cy="100.97" r="2.70" fill="#ff0000"/>
<circle cx="583.98" cy="99.95" r="2.70" fill="#ff0000"/>
<circle cx="585.16" cy="98.97" r="2.70" fill="#ff0000"/>
<circle cx="586.30" cy="98.02" r="2.70" fill="#ff0000"/>
<circle cx="587.40" cy="97.10" r="2.70" fill="#ff0000"/>
<circle cx="588.48" cy="96.20" r="2.70" fill="#ff0000"/>
<circle cx="589.52" cy="95.33" r="2.70" fill="#ff0000"/>
<circle cx="590.54" cy="94.48" r="2.70" fill="#ff0000"/>
<circle cx="591.53" cy="93.65" r="2.70" fill="#ff0000"/>
<circle cx="592.49" cy="92.85" r="2.70" fill="#ff0000"/>
<circle cx="593.43" cy="92.06" r="2.70" fill="#ff0000"/>
<circle cx="594.35" cy="91.30" r="2.70" fill="#ff0000"/>
<circle cx="595.24" cy="90.55" r="2.70" fill="#ff0000"/>
<circle cx="596.11" cy="89.82" r="2.70" fill="#ff0000"/>
<circle cx="596.97" cy="89.11" r="2.70" fill="#ff0000"/>
<circle cx="597.80" cy="88.41" r="2.70" fill="#ff0000"/>
<circle cx="598.62" cy="87.73" r="2.70" fill="#ff0000"/>
<circle cx="599.41" cy="87.06" r="2.70" fill="#ff0000"/>
<circle cx="600.19" cy="86.41" r="2.70" fill="#ff0000"/>
<circle cx="600.96" cy="85.77" r="2.70" fill="#ff0000"/>
<circle cx="601.71" cy="85.14" r="2.70" fill="#ff0000"/>
<circle cx="602.44" cy="84.53" r="2.70" fill="#ff0000"/>
<circle cx="603.16" cy="83.93" r="2.70" fill="#ff0000"/>
<circle cx="603.87" cy="83.33" r="2.70" fill="#ff0000"/>
<circle cx="604.56" cy="82.75" r="2.70" fill="#ff0000"/>
<circle cx="605.24" cy="82.18" r="2.70" fill="#ff0000"/>
<circle cx="605.91" cy="81.62" r="2.70" fill="#ff0000"/>
<circle cx="606.57" cy="81.07" r="2.70" fill="#ff0000"/>
<circle cx="607.21" cy="80.53" r="2.70" fill="#ff0000"/>
<circle cx="607.85" cy="80.00" r="2.70" fill="#ff0000"/>
<circle cx="608.47" cy="79.48" r="2.70" fill="#ff0000"/>
<circle cx="609.08" cy="78.97" r="2.70" fill="#ff0000"/>
<circle cx="609.69" cy="78.46" r="2.70" fill="#ff0000"/>
<circle cx="610.28" cy="77.97" r="2.70" fill="#ff0000"/>
<circle cx="610.86" cy="77.48" r="2.70" fill="#ff0000"/>
<circle cx="611.44" cy="76.99" r="2.70" fill="#ff0000"/>
<circle cx="612.00" cy="76.52" r="2.70" fill="#ff0000"/>
<circle cx="612.56" cy="76.05" r="2.70" fill="#ff0000"/>
<circle cx="613.11" cy="75.59" r="2.70" fill="#ff0000"/>
<circle cx="613.65" cy="75.14" r="2.70" fill="#ff0000"/>
<circle cx="614.19" cy="74.69" r="2.70" fill="#ff0000"/>
<circle cx="614.71" cy="74.25" r="2.70" fill="#ff0000"/>
<circle cx="615.23" cy="73.81" r="2.70" fill="#ff0000"/>
<circle cx="615.74" cy="73.39" r="2.70" fill="#ff0000"/>
<circle cx="616.25" cy="72.96" r="2.70" fill="#ff0000"/>
<circle cx="616.75" cy="72.55" r="2.70" fill="#ff0000"/>
<circle cx="617.24" cy="72.13" r="2.70" fill="#ff0000"/>
<circle cx="617.72" cy="71.73" r="2.70" fill="#ff0000"/>
<circle cx="618.20" cy="71.33" r="2.70" fill="#ff0000"/>
<circle cx="618.67" cy="70.93" r="2.70" fill="#ff0000"/>
<circle cx="619.14" cy="70.54" r="2.70" fill="#ff0000"/>
<circle cx="619.60" cy="70.15" r="2.70" fill="#ff0000"/>
<circle cx="620.06" cy="69.77" r="2.70" fill="#ff0000"/>
<circle cx="620.51" cy="69.39" r="2.70" fill="#ff0000"/>
<circle cx="620.95" cy="69.02" r="2.70" fill="#ff0000"/>
<circle cx="621.39" cy="68.65" r="2.70" fill="#ff0000"/>
<circle cx="621.82" cy="68.29" r="2.70" fill="#ff0000"/>
<circle cx="622.25" cy="67.93" r="2.70" fill="#ff0000"/>
<circle cx="622.67" cy="67.57" r="2.70" fill="#ff0000"/>
<circle cx="623.09" cy="67.22" r="2.70" fill="#ff0000"/>
<circle cx="623.51" cy="66.87" r="2.70" fill="#ff0000"/>
<circle cx="623.92" cy="66.53" r="2.70" fill="#ff0000"/>
<circle cx="624.32" cy="66.19" r="2.70" fill="#ff0000"/>
<circle cx="624.72" cy="65.85" r="2.70" fill="#ff0000"/>
<circle cx="625.12" cy="65.52" r="2.70" fill="#ff0000"/>
<circle cx="625.51" cy="65.19" r="2.70" fill="#ff0000"/>
<circle cx="625.90" cy="64.86" r="2.70" fill="#ff0000"/>
<circle cx="626.29" cy="64.54" r="2.70" fill="#ff0000"/>
<circle cx="626.67" cy="64.22" r="2.70" fill="#ff0000"/>
<circle cx="627.04" cy="63.91" r="2.70" fill="#ff0000"/>
<circle cx="627.42" cy="63.59" r="2.70" fill="#ff0000"/>
<circle cx="627.78" cy="63.28" r="2.70" fill="#ff0000"/>
<circle cx="628.15" cy="62.98" r="2.70" fill="#ff0000"/>
<circle cx="628.51" cy="62.67" r="2.70" fill="#ff0000"/>
<circle cx="628.87" cy="62.37" r="2.70" fill="#ff0000"/>
<circle cx="629.23" cy="62.08" r="2.70" fill="#ff0000"/>
<circle cx="629.58" cy="61.78" r="2.70" fill="#ff0000"/>
<circle cx="629.93" cy="61.49" r="2.70" fill="#ff0000"/>
<circle cx="630.27" cy="61.20" r="2.70" fill="#ff0000"/>
<circle cx="630.61" cy="60.91" r="2.70" fill="#ff0000"/>
<circle cx="630.95" cy="60.63" r="2.70" fill="#ff0000"/>
<circle cx="631.29" cy="60.34" r="2.70" fill="#ff0000"/>
<circle cx="631.62" cy="60.07" r="2.70" fill="#ff0000"/>
<circle cx="631.95" cy="59.79" r="2.70" fill="#ff0000"/>
<circle cx="632.28" cy="59.51" r="2.70" fill="#ff0000"/>
<circle cx="632.60" cy="59.24" r="2.70" fill="#ff0000"/>
<circle cx="632.92" cy="58.97" r="2.70" fill="#ff0000"/>
<circle cx="633.24" cy="58.71" r="2.70" fill="#ff0000"/>
<circle cx="633.55" cy="58.44" r="2.70" fill="#ff0000"/>
<circle cx="633.87" cy="58.18" r="2.70" fill="#ff0000"/>
<circle cx="634.18" cy="57.92" r="2.70" fill="#ff0000"/>
<circle cx="634.49" cy="57.66" r="2.70" fill="#ff0000"/>
<circle cx="634.79" cy="57.40" r="2.70" fill="#ff0000"/>
<circle cx="635.09" cy="57.15" r="2.70" fill="#ff0000"/>
<circle cx="635.39" cy="56.90" r="2.70" fill="#ff0000"/>
<circle cx="635.69" cy="56.64" r="2.70" fill="#ff0000"/>
<circle cx="635.99" cy="56.40" r="2.70" fill="#ff0000"/>
<circle cx="636.28" cy="56.15" r="2.70" fill="#ff0000"/>
<circle cx="636.57" cy="55.91" r="2.70" fill="#ff0000"/>
<circle cx="636.86" cy="55.66" r="2.70" fill="#ff0000"/>
<circle cx="637.15" cy="55.42" r="2.70" fill="#ff0000"/>
<circle cx="637.43" cy="55.18" r="2.70" fill="#ff0000"/>
<circle cx="637.71" cy="54.95" r="2.70" fill="#ff0000"/>
<circle cx="637.99" cy="54.71" r="2.70" fill="#ff0000"/>
<circle cx="638.27" cy="54.48" r="2.70" fill="#ff0000"/>
<circle cx="638.55" cy="54.25" r="2.70" fill="#ff0000"/>
<circle cx="638.82" cy="54.02" r="2.70" fill="#ff0000"/>
<circle cx="639.09" cy="53.79" r="2.70" fill="#ff0000"/>
<circle cx="639.36" cy="53.56" r="2.70" fill="#ff0000"/>
<circle cx="639.63" cy="53.34" r="2.70" fill="#ff0000"/>
<circle cx="639.90" cy="53.11" r="2.70" fill="#ff0000"/>
<circle cx="640.16" cy="52.89" r="2.70" fill="#ff0000"/>
<circle cx="640.42" cy="52.67" r="2.70" fill="#ff0000"/>
<circle cx="640.68" cy="52.45" r="2.70" fill="#ff0000"/>
<circle cx="640.94" cy="52.24" r="2.70" fill="#ff0000"/>
<circle cx="641.20" cy="52.02" r="2.70" fill="#ff0000"/>
<circle cx="641.45" cy="51.81" r="2.70" fill="#ff0000"/>
<circle cx="641.70" cy="51.59" r="2.70" fill="#ff0000"/>
<circle cx="641.96" cy="51.38" r="2.70" fill="#ff0000"/>
<circle cx="642.21" cy="51.17" r="2.70" fill="#ff0000"/>
<circle cx="642.45" cy="50.96" r="2.70" fill="#ff0000"/>
<circle cx="642.70" cy="50.76" r="2.70" fill="#ff0000"/>
<circle cx="642.95" cy="50.55" r="2.70" fill="#ff0000"/>
<circle cx="643.19" cy="50.35" r="2.70" fill="#ff0000"/>
<circle cx="643.43" cy="50.14" r="2.70" fill="#ff0000"/>
<circle cx="643.67" cy="49.94" r="2.70" fill="#ff0000"/>
<circle cx="643.91" cy="49.74" r="2.70" fill="#ff0000"/>
<circle cx="644.15" cy="49.54" r="2.70" fill="#ff0000"/>
<circle cx="644.38" cy="49.34" r="2.70" fill="#ff0000"/>
<circle cx="644.62" cy="49.15" r="2.70" fill="#ff0000"/>
<circle cx="644.85" cy="48.95" r="2.70" fill="#ff0000"/>
<circle cx="645.08" cy="48.76" r="2.70" fill="#ff0000"/>
<circle cx="645.31" cy="48.57" r="2.70" fill="#ff0000"/>
<circle cx="645.54" cy="48.37" r="2.70" fill="#ff0000"/>
<circle cx="645.76" cy="48.18" r="2.70" fill="#ff0000"/>
<circle cx="645.99" cy="47.99" r="2.70" fill="#ff0000"/>
<circle cx="646.21" cy="47.81" r="2.70" fill="#ff0000"/>
<circle cx="646.44" cy="47.62" r="2.70" fill="#ff0000"/>
<circle cx="646.66" cy="47.43" r="2.70" fill="#ff0000"/>
<circle cx="646.88" cy="47.25" r="2.70" fill="#ff0000"/>
<circle cx="647.10" cy="47.06" r="2.70" fill="#ff0000"/>
<circle cx="647.31" cy="46.88" r="2.70" fill="#ff0000"/>
<circle cx="647.53" cy="46.70" r="2.70" fill="#ff0000"/>
<circle cx="647.75" cy="46.52" r="2.70" fill="#ff0000"/>
<circle cx="647.96" cy="46.34" r="2.70" fill="#ff0000"/>
<circle cx="648.17" cy="46.16" r="2.70" fill="#ff0000"/>
<circle cx="648.38" cy="45.98" r="2.70" fill="#ff0000"/>
<circle cx="648.59" cy="45.81" r="2.70" fill="#ff0000"/>
<circle cx="648.80" cy="45.63" r="2.70" fill="#ff0000"/>
<circle cx="649.01" cy="45.46" r="2.70" fill="#ff0000"/>
<circle cx="649.22" cy="45.28" r="2.70" fill="#ff0000"/>
<circle cx="649.42" cy="45.11" r="2.70" fill="#ff0000"/>
<circle cx="649.63" cy="44.94" r="2.70" fill="#ff0000"/>
<circle cx="649.83" cy="44.77" r="2.70" fill="#ff0000"/>
<circle cx="650.03" cy="44.60" r="2.70" fill="#ff0000"/>
<circle cx="650.23" cy="44.43" r="2.70" fill="#ff0000"/>
<circle cx="650.43" cy="44.26" r="2.70" fill="#ff0000"/>
<circle cx="650.63" cy="44.09" r="2.70" fill="#ff0000"/>
<circle cx="650.83" cy="43.93" r="2.70" fill="#ff0000"/>
<circle cx="651.03" cy="43.76" r="2.70" fill="#ff0000"/>
<circle cx="651.22" cy="43.60" r="2.70" fill="#ff0000"/>
<circle cx="651.42" cy="43.43" r="2.70" fill="#ff0000"/>
<circle cx="651.61" cy="43.27" r="2.70" fill="#ff0000"/>
<circle cx="651.80" cy="43.11" r="2.70" fill="#ff0000"/>
<circle cx="651.99" cy="42.95" r="2.70" fill="#ff0000"/>
<circle cx="652.18" cy="42.79" r="2.70" fill="#ff0000"/>
<circle cx="652.37" cy="42.63" r="2.70" fill="#ff0000"/>
<circle cx="652.56" cy="42.47" r="2.70" fill="#ff0000"/>
<circle cx="652.75" cy="42.31" r="2.70" fill="#ff0000"/>
<circle cx="652.94" cy="42.15" r="2.70" fill="#ff0000"/>
<circle cx="653.12" cy="42.00" r="2.70" fill="#ff0000"/>
<path d="M456.62 94.29 L482.32 94.22 L497.36 94.09 L508.03 93.92 L516.31 93.70 L523.07 93.44 L528.79 93.13 L533.74 92.79 L538.11 92.40 L542.02 91.98 L545.55 91.52 L548.78 91.03 L551.75 90.52 L554.50 89.97 L557.05 89.41 L559.45 88.82 L561.70 88.22 L563.82 87.60 L565.82 86.97 L567.72 86.33 L569.53 85.67 L571.26 85.01 L572.91 84.35 L574.49 83.68 L576.00 83.00 L577.45 82.33 L578.85 81.66 L580.20 80.98 L581.50 80.31 L582.76 79.65 L583.98 78.98 L585.16 78.32 L586.30 77.67 L587.40 77.02 L588.48 76.37 L589.52 75.73 L590.54 75.10 L591.53 74.48 L592.49 73.86 L593.43 73.25 L594.35 72.65 L595.24 72.05 L596.11 71.46 L596.97 70.88 L597.80 70.31 L598.62 69.74 L599.41 69.19 L600.19 68.64 L600.96 68.09 L601.71 67.56 L602.44 67.03 L603.16 66.51 L603.87 65.99 L604.56 65.49 L605.24 64.99 L605.91 64.49 L606.57 64.01 L607.21 63.53 L607.85 63.06 L608.47 62.59 L609.08 62.13 L609.69 61.68 L610.28 61.23 L610.86 60.79 L611.44 60.35 L612.00 59.92 L612.56 59.50 L613.11 59.08 L613.65 58.67 L614.19 58.26 L614.71 57.85 L615.23 57.46 L615.74 57.07 L616.25 56.68 L616.75 56.30 L617.24 55.92 L617.72 55.55 L618.20 55.18 L618.67 54.81 L619.14 54.45 L619.60 54.10 L620.06 53.75 L620.51 53.40 L620.95 53.06 L621.39 52.72 L621.82 52.39 L622.25 52.06 L622.67 51.73 L623.09 51.41 L623.51 51.09 L623.92 50.77 L624.32 50.46 L624.72 50.15 L625.12 49.84 L625.51 49.54 L625.90 49.24 L626.29 48.94 L626.67 48.65 L627.04 48.36 L627.42 48.08 L627.78 47.79 L628.15 47.51 L628.51 47.23 L628.87 46.96 L629.23 46.68 L629.58 46.41 L629.93 46.15 L630.27 45.88 L630.61 45.62 L630.95 45.36 L631.29 45.10 L631.62 44.85 L631.95 44.60 L632.28 44.35 L632.60 44.10 L632.92 43.86 L633.24 43.61 L633.55 43.37 L633.87 43.13 L634.18 42.90 L634.49 42.66 L634.79 42.43 L635.09 42.20 L635.39 41.97 L635.69 41.75 L635.99 41.52 L636.28 41.30 L636.57 41.08 L636.86 40.86 L637.15 40.64 L637.43 40.43 L637.71 40.21 L637.99 40.00 L638.27 39.79 L638.55 39.58 L638.82 39.38 L639.09 39.17 L639.36 38.97 L639.63 38.77 L639.90 38.57 L640.16 38.37 L640.42 38.17 L640.68 37.97 L640.94 37.78 L641.20 37.59 L641.45 37.40 L641.70 37.21 L641.96 37.02 L642.21 36.83 L642.45 36.65 L642.70 36.46 L642.95 36.28 L643.19 36.10 L643.43 35.92 L643.67 35.74 L643.91 35.56 L644.15 35.38 L644.38 35.21 L644.62 35.03 L644.85 34.86 L645.08 34.69 L645.31 34.52 L645.54 34.35 L645.76 34.18 L645.99 34.01 L646.21 33.85 L646.44 33.68 L646.66 33.52 L646.88 33.35 L647.10 33.19 L647.31 33.03 L647.53 32.87 L647.75 32.71 L647.96 32.55 L648.17 32.40 L648.38 32.24 L648.59 32.09 L648.80 31.93 L649.01 31.78 L649.22 31.63 L649.42 31.48 L649.63 31.33 L649.83 31.18 L650.03 31.03 L650.23 30.88 L650.43 30.73 L650.63 30.59 L650.83 30.44 L651.03 30.30 L651.22 30.15 L651.42 30.01 L651.61 29.87 L651.80 29.73 L651.99 29.59 L652.18 29.45 L652.37 29.31 L652.56 29.17 L652.75 29.04 L652.94 28.90 L653.12 28.76" stroke="#3c3cb4" stroke-opacity="0.5" stroke-width="1.1" fill="none"/>
<path d="M456.62 90.89L459.60 95.99L453.63 95.99Z" fill="#0000ff"/>
<path d="M482.32 90.82L485.31 95.92L479.34 95.92Z" fill="#0000ff"/>
<path d="M497.36 90.69L500.35 95.79L494.38 95.79Z" fill="#0000ff"/>
<path d="M508.03 90.52L511.02 95.62L505.05 95.62Z" fill="#0000ff"/>
<path d="M516.31 90.30L519.29 95.40L513.32 95.40Z" fill="#0000ff"/>
<path d="M523.07 90.04L526.05 95.14L520.09 95.14Z" fill="#0000ff"/>
<path d="M528.79 89.73L531.77 94.83L525.80 94.83Z" fill="#0000ff"/>
<path d="M533.74 89.39L536.72 94.49L530.76 94.49Z" fill="#0000ff"/>
<path d="M538.11 89.00L541.09 94.10L535.12 94.10Z" fill="#0000ff"/>
<path d="M542.02 88.58L545.00 93.68L539.03 93.68Z" fill="#0000ff"/>
<path d="M545.55 88.12L548.53 93.22L542.57 93.22Z" fill="#0000ff"/>
<path d="M548.78 87.63L551.76 92.73L545.79 92.73Z" fill="#0000ff"/>
<path d="M551.75 87.12L554.73 92.22L548.76 92.22Z" fill="#0000ff"/>
<path d="M554.50 86.57L557.48 91.67L551.51 91.67Z" fill="#0000ff"/>
<path d="M557.05 86.01L560.04 91.11L554.07 91.11Z" fill="#0000ff"/>
<path d="M559.45 85.42L562.43 90.52L556.46 90.52Z" fill="#0000ff"/>
<path d="M561.70 84.82L564.68 89.92L558.71 89.92Z" fill="#0000ff"/>
<path d="M563.82 84.20L566.80 89.30L560.83 89.30Z" fill="#0000ff"/>
<path d="M565.82 83.57L568.80 88.67L562.84 88.67Z" fill="#0000ff"/>
<path d="M567.72 82.93L570.71 88.03L564.74 88.03Z" fill="#0000ff"/>
<path d="M569.53 82.27L572.52 87.37L566.55 87.37Z" fill="#0000ff"/>
<path d="M571.26 81.61L574.24 86.71L568.28 86.71Z" fill="#0000ff"/>
<path d="M572.91 80.95L575.89 86.05L569.92 86.05Z" fill="#0000ff"/>
<path d="M574.49 80.28L577.47 85.38L571.50 85.38Z" fill="#0000ff"/>
<path d="M576.00 79.60L578.98 84.70L573.02 84.70Z" fill="#0000ff"/>
<path d="M577.45 78.93L580.44 84.03L574.47 84.03Z" fill="#0000ff"/>
<path d="M578.85 78.26L581.84 83.36L575.87 83.36Z" fill="#0000ff"/>
<path d="M580.20 77.58L583.19 82.68L577.22 82.68Z" fill="#0000ff"/>
<path d="M581.50 76.91L584.49 82.01L578.52 82.01Z" fill="#0000ff"/>
<path d="M582.76 76.25L585.75 81.35L579.78 81.35Z" fill="#0000ff"/>
<path d="M583.98 75.58L586.96 80.68L580.99 80.68Z" fill="#0000ff"/>
<path d="M585.16 74.92L588.14 80.02L582.17 80.02Z" fill="#0000ff"/>
<path d="M586.30 74.27L589.28 79.37L583.31 79.37Z" fill="#0000ff"/>
<path d="M587.40 73.62L590.39 78.72L584.42 78.72Z" fill="#0000ff"/>
<path d="M588.48 72.97L591.46 78.07L585.50 78.07Z" fill="#0000ff"/>
<path d="M589.52 72.33L592.51 77.43L586.54 77.43Z" fill="#0000ff"/>
<path d="M590.54 71.70L593.52 76.80L587.56 76.80Z" fill="#0000ff"/>
<path d="M591.53 71.08L594.51 76.18L588.55 76.18Z" fill="#0000ff"/>
<path d="M592.49 70.46L595.48 75.56L589.51 75.56Z" fill="#0000ff"/>
<path d="M593.43 69.85L596.42 74.95L590.45 74.95Z" fill="#0000ff"/>
<path d="M594.35 69.25L597.33 74.35L591.36 74.35Z" fill="#0000ff"/>
<path d="M595.24 68.65L598.22 73.75L592.26 73.75Z" fill="#0000ff"/>
<path d="M596.11 68.06L599.10 73.16L593.13 73.16Z" fill="#0000ff"/>
<path d="M596.97 67.48L599.95 72.58L593.98 72.58Z" fill="#0000ff"/>
<path d="M597.80 66.91L600.78 72.01L594.82 72.01Z" fill="#0000ff"/>
<path d="M598.62 66.34L601.60 71.44L595.63 71.44Z" fill="#0000ff"/>
<path d="M599.41 65.79L602.40 70.89L596.43 70.89Z" fill="#0000ff"/>
<path d="M600.19 65.24L603.18 70.34L597.21 70.34Z" fill="#0000ff"/>
<path d="M600.96 64.69L603.94 69.79L597.98 69.79Z" fill="#0000ff"/>
<path d="M601.71 64.16L604.69 69.26L598.72 69.26Z" fill="#0000ff"/>
<path d="M602.44 63.63L605.43 68.73L599.46 68.73Z" fill="#0000ff"/>
<path d="M603.16 63.11L606.15 68.21L600.18 68.21Z" fill="#0000ff"/>
<path d="M603.87 62.59L606.85 67.69L600.89 67.69Z" fill="#0000ff"/>
<path d="M604.56 62.09L607.55 67.19L601.58 67.19Z" fill="#0000ff"/>
<path d="M605.24 61.59L608.23 66.69L602.26 66.69Z" fill="#0000ff"/>
<path d="M605.91 61.09L608.89 66.19L602.93 66.19Z" fill="#0000ff"/>
<path d="M606.57 60.61L609.55 65.71L603.58 65.71Z" fill="#0000ff"/>
<path d="M607.21 60.13L610.20 65.23L604.23 65.23Z" fill="#0000ff"/>
<path d="M607.85 59.66L610.83 64.76L604.86 64.76Z" fill="#0000ff"/>
<path d="M608.47 59.19L611.45 64.29L605.49 64.29Z" fill="#0000ff"/>
<path d="M609.08 58.73L612.07 63.83L606.10 63.83Z" fill="#0000ff"/>
<path d="M609.69 58.28L612.67 63.38L606.70 63.38Z" fill="#0000ff"/>
<path d="M610.28 57.83L613.26 62.93L607.30 62.93Z" fill="#0000ff"/>
<path d="M610.86 57.39L613.85 62.49L607.88 62.49Z" fill="#0000ff"/>
<path d="M611.44 56.95L614.42 62.05L608.46 62.05Z" fill="#0000ff"/>
<path d="M612.00 56.52L614.99 61.62L609.02 61.62Z" fill="#0000ff"/>
<path d="M612.56 56.10L615.55 61.20L609.58 61.20Z" fill="#0000ff"/>
<path d="M613.11 55.68L616.10 60.78L610.13 60.78Z" fill="#0000ff"/>
<path d="M613.65 55.27L616.64 60.37L610.67 60.37Z" fill="#0000ff"/>
<path d="M614.19 54.86L617.17 59.96L611.20 59.96Z" fill="#0000ff"/>
<path d="M614.71 54.45L617.70 59.55L611.73 59.55Z" fill="#0000ff"/>
<path d="M615.23 54.06L618.22 59.16L612.25 59.16Z" fill="#0000ff"/>
<path d="M615.74 53.67L618.73 58.77L612.76 58.77Z" fill="#0000ff"/>
<path d="M616.25 53.28L619.23 58.38L613.26 58.38Z" fill="#0000ff"/>
<path d="M616.75 52.90L619.73 58.00L613.76 58.00Z" fill="#0000ff"/>
<path d="M617.24 52.52L620.22 57.62L614.25 57.62Z" fill="#0000ff"/>
<path d="M617.72 52.15L620.71 57.25L614.74 57.25Z" fill="#0000ff"/>
<path d="M618.20 51.78L621.18 56.88L615.22 56.88Z" fill="#0000ff"/>
<path d="M618.67 51.41L621.66 56.51L615.69 56.51Z" fill="#0000ff"/>
<path d="M619.14 51.05L622.12 56.15L616.16 56.15Z" fill="#0000ff"/>
<path d="M619.60 50.70L622.58 55.80L616.62 55.80Z" fill="#0000ff"/>
<path d="M620.06 50.35L623.04 55.45L617.07 55.45Z" fill="#0000ff"/>
<path d="M620.51 50.00L623.49 55.10L617.52 55.10Z" fill="#0000ff"/>
<path d="M620.95 49.66L623.93 54.76L617.97 54.76Z" fill="#0000ff"/>
<path d="M621.39 49.32L624.37 54.42L618.40 54.42Z" fill="#0000ff"/>
<path d="M621.82 48.99L624.81 54.09L618.84 54.09Z" fill="#0000ff"/>
<path d="M622.25 48.66L625.23 53.76L619.27 53.76Z" fill="#0000ff"/>
<path d="M622.67 48.33L625.66 53.43L619.69 53.43Z" fill="#0000ff"/>
<path d="M623.09 48.01L626.08 53.11L620.11 53.11Z" fill="#0000ff"/>
<path d="M623.51 47.69L626.49 52.79L620.52 52.79Z" fill="#0000ff"/>
<path d="M623.92 47.37L626.90 52.47L620.93 52.47Z" fill="#0000ff"/>
<path d="M624.32 47.06L627.31 52.16L621.34 52.16Z" fill="#0000ff"/>
<path d="M624.72 46.75L627.71 51.85L621.74 51.85Z" fill="#0000ff"/>
<path d="M625.12 46.44L628.10 51.54L622.14 51.54Z" fill="#0000ff"/>
<path d="M625.51 46.14L628.50 51.24L622.53 51.24Z" fill="#0000ff"/>
<path d="M625.90 45.84L628.89 50.94L622.92 50.94Z" fill="#0000ff"/>
<path d="M626.29 45.54L629.27 50.64L623.30 50.64Z" fill="#0000ff"/>
<path d="M626.67 45.25L629.65 50.35L623.68 50.35Z" fill="#0000ff"/>
<path d="M627.04 44.96L630.03 50.06L624.06 50.06Z" fill="#0000ff"/>
<path d="M627.42 44.68L630.40 49.78L624.43 49.78Z" fill="#0000ff"/>
<path d="M627.78 44.39L630.77 49.49L624.80 49.49Z" fill="#0000ff"/>
<path d="M628.15 44.11L631.13 49.21L625.17 49.21Z" fill="#0000ff"/>
<path d="M628.51 43.83L631.50 48.93L625.53 48.93Z" fill="#0000ff"/>
<path d="M628.87 43.56L631.85 48.66L625.89 48.66Z" fill="#0000ff"/>
<path d="M629.23 43.28L632.21 48.38L626.24 48.38Z" fill="#0000ff"/>
<path d="M629.58 43.01L632.56 48.11L626.59 48.11Z" fill="#0000ff"/>
<path d="M629.93 42.75L632.91 47.85L626.94 47.85Z" fill="#0000ff"/>
<path d="M630.27 42.48L633.25 47.58L627.29 47.58Z" fill="#0000ff"/>
<path d="M630.61 42.22L633.60 47.32L627.63 47.32Z" fill="#0000ff"/>
<path d="M630.95 41.96L633.93 47.06L627.97 47.06Z" fill="#0000ff"/>
<path d="M631.29 41.70L634.27 46.80L628.30 46.80Z" fill="#0000ff"/>
<path d="M631.62 41.45L634.60 46.55L628.64 46.55Z" fill="#0000ff"/>
<path d="M631.95 41.20L634.93 46.30L628.97 46.30Z" fill="#0000ff"/>
<path d="M632.28 40.95L635.26 46.05L629.29 46.05Z" fill="#0000ff"/>
<path d="M632.60 40.70L635.58 45.80L629.62 45.80Z" fill="#0000ff"/>
<path d="M632.92 40.46L635.90 45.56L629.94 45.56Z" fill="#0000ff"/>
<path d="M633.24 40.21L636.22 45.31L630.26 45.31Z" fill="#0000ff"/>
<path d="M633.55 39.97L636.54 45.07L630.57 45.07Z" fill="#0000ff"/>
<path d="M633.87 39.73L636.85 44.83L630.88 44.83Z" fill="#0000ff"/>
<path d="M634.18 39.50L637.16 44.60L631.19 44.60Z" fill="#0000ff"/>
<path d="M634.49 39.26L637.47 44.36L631.50 44.36Z" fill="#0000ff"/>
<path d="M634.79 39.03L637.77 44.13L631.81 44.13Z" fill="#0000ff"/>
<path d="M635.09 38.80L638.08 43.90L632.11 43.90Z" fill="#0000ff"/>
<path d="M635.39 38.57L638.38 43.67L632.41 43.67Z" fill="#0000ff"/>
<path d="M635.69 38.35L638.68 43.45L632.71 43.45Z" fill="#0000ff"/>
<path d="M635.99 38.12L638.97 43.22L633.00 43.22Z" fill="#0000ff"/>
<path d="M636.28 37.90L639.26 43.00L633.30 43.00Z" fill="#0000ff"/>
<path d="M636.57 37.68L639.56 42.78L633.59 42.78Z" fill="#0000ff"/>
<path d="M636.86 37.46L639.84 42.56L633.88 42.56Z" fill="#0000ff"/>
<path d="M637.15 37.24L640.13 42.34L634.16 42.34Z" fill="#0000ff"/>
<path d="M637.43 37.03L640.41 42.13L634.45 42.13Z" fill="#0000ff"/>
<path d="M637.71 36.81L640.70 41.91L634.73 41.91Z" fill="#0000ff"/>
<path d="M637.99 36.60L640.98 41.70L635.01 41.70Z" fill="#0000ff"/>
<path d="M638.27 36.39L641.25 41.49L635.29 41.49Z" fill="#0000ff"/>
<path d="M638.55 36.18L641.53 41.28L635.56 41.28Z" fill="#0000ff"/>
<path d="M638.82 35.98L641.80 41.08L635.84 41.08Z" fill="#0000ff"/>
<path d="M639.09 35.77L642.08 40.87L636.11 40.87Z" fill="#0000ff"/>
<path d="M639.36 35.57L642.35 40.67L636.38 40.67Z" fill="#0000ff"/>
<path d="M639.63 35.37L642.61 40.47L636.65 40.47Z" fill="#0000ff"/>
<path d="M639.90 35.17L642.88 40.27L636.91 40.27Z" fill="#0000ff"/>
<path d="M640.16 34.97L643.14 40.07L637.18 40.07Z" fill="#0000ff"/>
<path d="M640.42 34.77L643.40 39.87L637.44 39.87Z" fill="#0000ff"/>
<path d="M640.68 34.57L643.67 39.67L637.70 39.67Z" fill="#0000ff"/>
<path d="M640.94 34.38L643.92 39.48L637.96 39.48Z" fill="#0000ff"/>
<path d="M641.20 34.19L644.18 39.29L638.21 39.29Z" fill="#0000ff"/>
<path d="M641.45 34.00L644.44 39.10L638.47 39.10Z" fill="#0000ff"/>
<path d="M641.70 33.81L644.69 38.91L638.72 38.91Z" fill="#0000ff"/>
<path d="M641.96 33.62L644.94 38.72L638.97 38.72Z" fill="#0000ff"/>
<path d="M642.21 33.43L645.19 38.53L639.22 38.53Z" fill="#0000ff"/>
<path d="M642.45 33.25L645.44 38.35L639.47 38.35Z" fill="#0000ff"/>
<path d="M642.70 33.06L645.68 38.16L639.72 38.16Z" fill="#0000ff"/>
<path d="M642.95 32.88L645.93 37.98L639.96 37.98Z" fill="#0000ff"/>
<path d="M643.19 32.70L646.17 37.80L640.21 37.80Z" fill="#0000ff"/>
<path d="M643.43 32.52L646.41 37.62L640.45 37.62Z" fill="#0000ff"/>
<path d="M643.67 32.34L646.65 37.44L640.69 37.44Z" fill="#0000ff"/>
<path d="M643.91 32.16L646.89 37.26L640.93 37.26Z" fill="#0000ff"/>
<path d="M644.15 31.98L647.13 37.08L641.16 37.08Z" fill="#0000ff"/>
<path d="M644.38 31.81L647.36 36.91L641.40 36.91Z" fill="#0000ff"/>
<path d="M644.62 31.63L647.60 36.73L641.63 36.73Z" fill="#0000ff"/>
<path d="M644.85 31.46L647.83 36.56L641.86 36.56Z" fill="#0000ff"/>
<path d="M645.08 31.29L648.06 36.39L642.10 36.39Z" fill="#0000ff"/>
<path d="M645.31 31.12L648.29 36.22L642.33 36.22Z" fill="#0000ff"/>
<path d="M645.54 30.95L648.52 36.05L642.55 36.05Z" fill="#0000ff"/>
<path d="M645.76 30.78L648.75 35.88L642.78 35.88Z" fill="#0000ff"/>
<path d="M645.99 30.61L648.97 35.71L643.01 35.71Z" fill="#0000ff"/>
<path d="M646.21 30.45L649.20 35.55L643.23 35.55Z" fill="#0000ff"/>
<path d="M646.44 30.28L649.42 35.38L643.45 35.38Z" fill="#0000ff"/>
<path d="M646.66 30.12L649.64 35.22L643.67 35.22Z" fill="#0000ff"/>
<path d="M646.88 29.95L649.86 35.05L643.89 35.05Z" fill="#0000ff"/>
<path d="M647.10 29.79L650.08 34.89L644.11 34.89Z" fill="#0000ff"/>
<path d="M647.31 29.63L650.30 34.73L644.33 34.73Z" fill="#0000ff"/>
<path d="M647.53 29.47L650.51 34.57L644.55 34.57Z" fill="#0000ff"/>
<path d="M647.75 29.31L650.73 34.41L644.76 34.41Z" fill="#0000ff"/>
<path d="M647.96 29.15L650.94 34.25L644.98 34.25Z" fill="#0000ff"/>
<path d="M648.17 29.00L651.15 34.10L645.19 34.10Z" fill="#0000ff"/>
<path d="M648.38 28.84L651.37 33.94L645.40 33.94Z" fill="#0000ff"/>
<path d="M648.59 28.69L651.58 33.79L645.61 33.79Z" fill="#0000ff"/>
<path d="M648.80 28.53L651.79 33.63L645.82 33.63Z" fill="#0000ff"/>
<path d="M649.01 28.38L651.99 33.48L646.03 33.48Z" fill="#0000ff"/>
<path d="M649.22 28.23L652.20 33.33L646.23 33.33Z" fill="#0000ff"/>
<path d="M649.42 28.08L652.41 33.18L646.44 33.18Z" fill="#0000ff"/>
<path d="M649.63 27.93L652.61 33.03L646.64 33.03Z" fill="#0000ff"/>
<path d="M649.83 27.78L652.81 32.88L646.85 32.88Z" fill="#0000ff"/>
<path d="M650.03 27.63L653.01 32.73L647.05 32.73Z" fill="#0000ff"/>
<path d="M650.23 27.48L653.22 32.58L647.25 32.58Z" fill="#0000ff"/>
<path d="M650.43 27.33L653.42 32.43L647.45 32.43Z" fill="#0000ff"/>
<path d="M650.63 27.19L653.61 32.29L647.65 32.29Z" fill="#0000ff"/>
<path d="M650.83 27.04L653.81 32.14L647.85 32.14Z" fill="#0000ff"/>
<path d="M651.03 26.90L654.01 32.00L648.04 32.00Z" fill="#0000ff"/>
<path d="M651.22 26.75L654.20 31.85L648.24 31.85Z" fill="#0000ff"/>
<path d="M651.42 26.61L654.40 31.71L648.43 31.71Z" fill="#0000ff"/>
<path d="M651.61 26.47L654.59 31.57L648.63 31.57Z" fill="#0000ff"/>
<path d="M651.80 26.33L654.79 31.43L648.82 31.43Z" fill="#0000ff"/>
<path d="M651.99 26.19L654.98 31.29L649.01 31.29Z" fill="#0000ff"/>
<path d="M652.18 26.05L655.17 31.15L649.20 31.15Z" fill="#0000ff"/>
<path d="M652.37 25.91L655.36 31.01L649.39 31.01Z" fill="#0000ff"/>
<path d="M652.56 25.77L655.55 30.87L649.58 30.87Z" fill="#0000ff"/>
<path d="M652.75 25.64L655.73 30.74L649.77 30.74Z" fill="#0000ff"/>
<path d="M652.94 25.50L655.92 30.60L649.95 30.60Z" fill="#0000ff"/>
<path d="M653.12 25.36L656.11 30.46L650.14 30.46Z" fill="#0000ff"/>
<path d="M456.62 110.56 L482.32 109.86 L497.36 108.78 L508.03 107.44 L516.31 105.94 L523.07 104.34 L528.79 102.71 L533.74 101.07 L538.11 99.45 L542.02 97.87 L545.55 96.33 L548.78 94.84 L551.75 93.39 L554.50 91.99 L557.05 90.64 L559.45 89.34 L561.70 88.07 L563.82 86.86 L565.82 85.68 L567.72 84.54 L569.53 83.43 L571.26 82.36 L572.91 81.32 L574.49 80.32 L576.00 79.34 L577.45 78.39 L578.85 77.46 L580.20 76.56 L581.50 75.69 L582.76 74.84 L583.98 74.01 L585.16 73.20 L586.30 72.41 L587.40 71.63 L588.48 70.88 L589.52 70.14 L590.54 69.42 L591.53 68.72 L592.49 68.03 L593.43 67.35 L594.35 66.69 L595.24 66.04 L596.11 65.41 L596.97 64.78 L597.80 64.17 L598.62 63.57 L599.41 62.98 L600.19 62.41 L600.96 61.84 L601.71 61.28 L602.44 60.73 L603.16 60.19 L603.87 59.66 L604.56 59.14 L605.24 58.63 L605.91 58.12 L606.57 57.62 L607.21 57.13 L607.85 56.65 L608.47 56.18 L609.08 55.71 L609.69 55.25 L610.28 54.79 L610.86 54.35 L611.44 53.90 L612.00 53.47 L612.56 53.04 L613.11 52.61 L613.65 52.19 L614.19 51.78 L614.71 51.37 L615.23 50.97 L615.74 50.57 L616.25 50.18 L616.75 49.79 L617.24 49.41 L617.72 49.03 L618.20 48.66 L618.67 48.29 L619.14 47.92 L619.60 47.56 L620.06 47.20 L620.51 46.85 L620.95 46.50 L621.39 46.15 L621.82 45.81 L622.25 45.47 L622.67 45.14 L623.09 44.81 L623.51 44.48 L623.92 44.15 L624.32 43.83 L624.72 43.51 L625.12 43.20 L625.51 42.89 L625.90 42.58 L626.29 42.27 L626.67 41.97 L627.04 41.67 L627.42 41.37 L627.78 41.08 L628.15 40.79 L628.51 40.50 L628.87 40.21 L629.23 39.93 L629.58 39.65 L629.93 39.37 L630.27 39.09 L630.61 38.82 L630.95 38.55 L631.29 38.28 L631.62 38.01 L631.95 37.75 L632.28 37.48 L632.60 37.22 L632.92 36.96 L633.24 36.71 L633.55 36.45 L633.87 36.20 L634.18 35.95 L634.49 35.70 L634.79 35.46 L635.09 35.21 L635.39 34.97 L635.69 34.73 L635.99 34.49 L636.28 34.25 L636.57 34.02 L636.86 33.78 L637.15 33.55 L637.43 33.32 L637.71 33.09 L637.99 32.87 L638.27 32.64 L638.55 32.42 L638.82 32.20 L639.09 31.98 L639.36 31.76 L639.63 31.54 L639.90 31.32 L640.16 31.11 L640.42 30.90 L640.68 30.68 L640.94 30.47 L641.20 30.27 L641.45 30.06 L641.70 29.85 L641.96 29.65 L642.21 29.44 L642.45 29.24 L642.70 29.04 L642.95 28.84 L643.19 28.64 L643.43 28.45 L643.67 28.25 L643.91 28.05 L644.15 27.86 L644.38 27.67 L644.62 27.48 L644.85 27.29 L645.08 27.10 L645.31 26.91 L645.54 26.72 L645.76 26.54 L645.99 26.35 L646.21 26.17 L646.44 25.99 L646.66 25.81 L646.88 25.63 L647.10 25.45 L647.31 25.27 L647.53 25.09 L647.75 24.92 L647.96 24.74 L648.17 24.57 L648.38 24.39 L648.59 24.22 L648.80 24.05 L649.01 23.88 L649.22 23.71 L649.42 23.54 L649.63 23.37 L649.83 23.21 L650.03 23.04 L650.23 22.88 L650.43 22.71 L650.63 22.55 L650.83 22.38 L651.03 22.22 L651.22 22.06 L651.42 21.90 L651.61 21.74 L651.80 21.58 L651.99 21.43 L652.18 21.27 L652.37 21.11 L652.56 20.96 L652.75 20.80 L652.94 20.65 L653.12 20.50" stroke="#3cc83c" stroke-opacity="0.5" stroke-width="1.1" fill="none"/>
<path d="M456.62 113.96L459.60 108.86L453.63 108.86Z" fill="#00ff00"/>
<path d="M482.32 113.26L485.31 108.16L479.34 108.16Z" fill="#00ff00"/>
<path d="M497.36 112.18L500.35 107.08L494.38 107.08Z" fill="#00ff00"/>
<path d="M508.03 110.84L511.02 105.74L505.05 105.74Z" fill="#00ff00"/>
<path d="M516.31 109.34L519.29 104.24L513.32 104.24Z" fill="#00ff00"/>
<path d="M523.07 107.74L526.05 102.64L520.09 102.64Z" fill="#00ff00"/>
<path d="M528.79 106.11L531.77 101.01L525.80 101.01Z" fill="#00ff00"/>
<path d="M533.74 104.47L536.72 99.37L530.76 99.37Z" fill="#00ff00"/>
<path d="M538.11 102.85L541.09 97.75L535.12 97.75Z" fill="#00ff00"/>
<path d="M542.02 101.27L545.00 96.17L539.03 96.17Z" fill="#00ff00"/>
<path d="M545.55 99.73L548.53 94.63L542.57 94.63Z" fill="#00ff00"/>
<path d="M548.78 98.24L551.76 93.14L545.79 93.14Z" fill="#00ff00"/>
<path d="M551.75 96.79L554.73 91.69L548.76 91.69Z" fill="#00ff00"/>
<path d="M554.50 95.39L557.48 90.29L551.51 90.29Z" fill="#00ff00"/>
<path d="M557.05 94.04L560.04 88.94L554.07 88.94Z" fill="#00ff00"/>
<path d="M559.45 92.74L562.43 87.64L556.46 87.64Z" fill="#00ff00"/>
<path d="M561.70 91.47L564.68 86.37L558.71 86.37Z" fill="#00ff00"/>
<path d="M563.82 90.26L566.80 85.16L560.83 85.16Z" fill="#00ff00"/>
<path d="M565.82 89.08L568.80 83.98L562.84 83.98Z" fill="#00ff00"/>
<path d="M567.72 87.94L570.71 82.84L564.74 82.84Z" fill="#00ff00"/>
<path d="M569.53 86.83L572.52 81.73L566.55 81.73Z" fill="#00ff00"/>
<path d="M571.26 85.76L574.24 80.66L568.28 80.66Z" fill="#00ff00"/>
<path d="M572.91 84.72L575.89 79.62L569.92 79.62Z" fill="#00ff00"/>
<path d="M574.49 83.72L577.47 78.62L571.50 78.62Z" fill="#00ff00"/>
<path d="M576.00 82.74L578.98 77.64L573.02 77.64Z" fill="#00ff00"/>
<path d="M577.45 81.79L580.44 76.69L574.47 76.69Z" fill="#00ff00"/>
<path d="M578.85 80.86L581.84 75.76L575.87 75.76Z" fill="#00ff00"/>
<path d="M580.20 79.96L583.19 74.86L577.22 74.86Z" fill="#00ff00"/>
<path d="M581.50 79.09L584.49 73.99L578.52 73.99Z" fill="#00ff00"/>
<path d="M582.76 78.24L585.75 73.14L579.78 73.14Z" fill="#00ff00"/>
<path d="M583.98 77.41L586.96 72.31L580.99 72.31Z" fill="#00ff00"/>
<path d="M585.16 76.60L588.14 71.50L582.17 71.50Z" fill="#00ff00"/>
<path d="M586.30 75.81L589.28 70.71L583.31 70.71Z" fill="#00ff00"/>
<path d="M587.40 75.03L590.39 69.93L584.42 69.93Z" fill="#00ff00"/>
<path d="M588.48 74.28L591.46 69.18L585.50 69.18Z" fill="#00ff00"/>
<path d="M589.52 73.54L592.51 68.44L586.54 68.44Z" fill="#00ff00"/>
<path d="M590.54 72.82L593.52 67.72L587.56 67.72Z" fill="#00ff00"/>
<path d="M591.53 72.12L594.51 67.02L588.55 67.02Z" fill="#00ff00"/>
<path d="M592.49 71.43L595.48 66.33L589.51 66.33Z" fill="#00ff00"/>
<path d="M593.43 70.75L596.42 65.65L590.45 65.65Z" fill="#00ff00"/>
<path d="M594.35 70.09L597.33 64.99L591.36 64.99Z" fill="#00ff00"/>
<path d="M595.24 69.44L598.22 64.34L592.26 64.34Z" fill="#00ff00"/>
<path d="M596.11 68.81L599.10 63.71L593.13 63.71Z" fill="#00ff00"/>
<path d="M596.97 68.18L599.95 63.08L593.98 63.08Z" fill="#00ff00"/>
<path d="M597.80 67.57L600.78 62.47L594.82 62.47Z" fill="#00ff00"/>
<path d="M598.62 66.97L601.60 61.87L595.63 61.87Z" fill="#00ff00"/>
<path d="M599.41 66.38L602.40 61.28L596.43 61.28Z" fill="#00ff00"/>
<path d="M600.19 65.81L603.18 60.71L597.21 60.71Z" fill="#00ff00"/>
<path d="M600.96 65.24L603.94 60.14L597.98 60.14Z" fill="#00ff00"/>
<path d="M601.71 64.68L604.69 59.58L598.72 59.58Z" fill="#00ff00"/>
<path d="M602.44 64.13L605.43 59.03L599.46 59.03Z" fill="#00ff00"/>
<path d="M603.16 63.59L606.15 58.49L600.18 58.49Z" fill="#00ff00"/>
<path d="M603.87 63.06L606.85 57.96L600.89 57.96Z" fill="#00ff00"/>
<path d="M604.56 62.54L607.55 57.44L601.58 57.44Z" fill="#00ff00"/>
<path d="M605.24 62.03L608.23 56.93L602.26 56.93Z" fill="#00ff00"/>
<path d="M605.91 61.52L608.89 56.42L602.93 56.42Z" fill="#00ff00"/>
<path d="M606.57 61.02L609.55 55.92L603.58 55.92Z" fill="#00ff00"/>
<path d="M607.21 60.53L610.20 55.43L604.23 55.43Z" fill="#00ff00"/>
<path d="M607.85 60.05L610.83 54.95L604.86 54.95Z" fill="#00ff00"/>
<path d="M608.47 59.58L611.45 54.48L605.49 54.48Z" fill="#00ff00"/>
<path d="M609.08 59.11L612.07 54.01L606.10 54.01Z" fill="#00ff00"/>
<path d="M609.69 58.65L612.67 53.55L606.70 53.55Z" fill="#00ff00"/>
<path d="M610.28 58.19L613.26 53.09L607.30 53.09Z" fill="#00ff00"/>
<path d="M610.86 57.75L613.85 52.65L607.88 52.65Z" fill="#00ff00"/>
<path d="M611.44 57.30L614.42 52.20L608.46 52.20Z" fill="#00ff00"/>
<path d="M612.00 56.87L614.99 51.77L609.02 51.77Z" fill="#00ff00"/>
<path d="M612.56 56.44L615.55 51.34L609.58 51.34Z" fill="#00ff00"/>
<path d="M613.11 56.01L616.10 50.91L610.13 50.91Z" fill="#00ff00"/>
<path d="M613.65 55.59L616.64 50.49L610.67 50.49Z" fill="#00ff00"/>
<path d="M614.19 55.18L617.17 50.08L611.20 50.08Z" fill="#00ff00"/>
<path d="M614.71 54.77L617.70 49.67L611.73 49.67Z" fill="#00ff00"/>
<path d="M615.23 54.37L618.22 49.27L612.25 49.27Z" fill="#00ff00"/>
<path d="M615.74 53.97L618.73 48.87L612.76 48.87Z" fill="#00ff00"/>
<path d="M616.25 53.58L619.23 48.48L613.26 48.48Z" fill="#00ff00"/>
<path d="M616.75 53.19L619.73 48.09L613.76 48.09Z" fill="#00ff00"/>
<path d="M617.24 52.81L620.22 47.71L614.25 47.71Z" fill="#00ff00"/>
<path d="M617.72 52.43L620.71 47.33L614.74 47.33Z" fill="#00ff00"/>
<path d="M618.20 52.06L621.18 46.96L615.22 46.96Z" fill="#00ff00"/>
<path d="M618.67 51.69L621.66 46.59L615.69 46.59Z" fill="#00ff00"/>
<path d="M619.14 51.32L622.12 46.22L616.16 46.22Z" fill="#00ff00"/>
<path d="M619.60 50.96L622.58 45.86L616.62 45.86Z" fill="#00ff00"/>
<path d="M620.06 50.60L623.04 45.50L617.07 45.50Z" fill="#00ff00"/>
<path d="M620.51 50.25L623.49 45.15L617.52 45.15Z" fill="#00ff00"/>
<path d="M620.95 49.90L623.93 44.80L617.97 44.80Z" fill="#00ff00"/>
<path d="M621.39 49.55L624.37 44.45L618.40 44.45Z" fill="#00ff00"/>
<path d="M621.82 49.21L624.81 44.11L618.84 44.11Z" fill="#00ff00"/>
<path d="M622.25 48.87L625.23 43.77L619.27 43.77Z" fill="#00ff00"/>
<path d="M622.67 48.54L625.66 43.44L619.69 43.44Z" fill="#00ff00"/>
<path d="M623.09 48.21L626.08 43.11L620.11 43.11Z" fill="#00ff00"/>
<path d="M623.51 47.88L626.49 42.78L620.52 42.78Z" fill="#00ff00"/>
<path d="M623.92 47.55L626.90 42.45L620.93 42.45Z" fill="#00ff00"/>
<path d="M624.32 47.23L627.31 42.13L621.34 42.13Z" fill="#00ff00"/>
<path d="M624.72 46.91L627.71 41.81L621.74 41.81Z" fill="#00ff00"/>
<path d="M625.12 46.60L628.10 41.50L622.14 41.50Z" fill="#00ff00"/>
<path d="M625.51 46.29L628.50 41.19L622.53 41.19Z" fill="#00ff00"/>
<path d="M625.90 45.98L628.89 40.88L622.92 40.88Z" fill="#00ff00"/>
<path d="M626.29 45.67L629.27 40.57L623.30 40.57Z" fill="#00ff00"/>
<path d="M626.67 45.37L629.65 40.27L623.68 40.27Z" fill="#00ff00"/>
<path d="M627.04 45.07L630.03 39.97L624.06 39.97Z" fill="#00ff00"/>
<path d="M627.42 44.77L630.40 39.67L624.43 39.67Z" fill="#00ff00"/>
<path d="M627.78 44.48L630.77 39.38L624.80 39.38Z" fill="#00ff00"/>
<path d="M628.15 44.19L631.13 39.09L625.17 39.09Z" fill="#00ff00"/>
<path d="M628.51 43.90L631.50 38.80L625.53 38.80Z" fill="#00ff00"/>
<path d="M628.87 43.61L631.85 38.51L625.89 38.51Z" fill="#00ff00"/>
<path d="M629.23 43.33L632.21 38.23L626.24 38.23Z" fill="#00ff00"/>
<path d="M629.58 43.05L632.56 37.95L626.59 37.95Z" fill="#00ff00"/>
<path d="M629.93 42.77L632.91 37.67L626.94 37.67Z" fill="#00ff00"/>
<path d="M630.27 42.49L633.25 37.39L627.29 37.39Z" fill="#00ff00"/>
<path d="M630.61 42.22L633.60 37.12L627.63 37.12Z" fill="#00ff00"/>
<path d="M630.95 41.95L633.93 36.85L627.97 36.85Z" fill="#00ff00"/>
<path d="M631.29 41.68L634.27 36.58L628.30 36.58Z" fill="#00ff00"/>
<path d="M631.62 41.41L634.60 36.31L628.64 36.31Z" fill="#00ff00"/>
<path d="M631.95 41.15L634.93 36.05L628.97 36.05Z" fill="#00ff00"/>
<path d="M632.28 40.88L635.26 35.78L629.29 35.78Z" fill="#00ff00"/>
<path d="M632.60 40.62L635.58 35.52L629.62 35.52Z" fill="#00ff00"/>
<path d="M632.92 40.36L635.90 35.26L629.94 35.26Z" fill="#00ff00"/>
<path d="M633.24 40.11L636.22 35.01L630.26 35.01Z" fill="#00ff00"/>
<path d="M633.55 39.85L636.54 34.75L630.57 34.75Z" fill="#00ff00"/>
<path d="M633.87 39.60L636.85 34.50L630.88 34.50Z" fill="#00ff00"/>
<path d="M634.18 39.35L637.16 34.25L631.19 34.25Z" fill="#00ff00"/>
<path d="M634.49 39.10L637.47 34.00L631.50 34.00Z" fill="#00ff00"/>
<path d="M634.79 38.86L637.77 33.76L631.81 33.76Z" fill="#00ff00"/>
<path d="M635.09 38.61L638.08 33.51L632.11 33.51Z" fill="#00ff00"/>
<path d="M635.39 38.37L638.38 33.27L632.41 33.27Z" fill="#00ff00"/>
<path d="M635.69 38.13L638.68 33.03L632.71 33.03Z" fill="#00ff00"/>
<path d="M635.99 37.89L638.97 32.79L633.00 32.79Z" fill="#00ff00"/>
<path d="M636.28 37.65L639.26 32.55L633.30 32.55Z" fill="#00ff00"/>
<path d="M636.57 37.42L639.56 32.32L633.59 32.32Z" fill="#00ff00"/>
<path d="M636.86 37.18L639.84 32.08L633.88 32.08Z" fill="#00ff00"/>
<path d="M637.15 36.95L640.13 31.85L634.16 31.85Z" fill="#00ff00"/>
<path d="M637.43 36.72L640.41 31.62L634.45 31.62Z" fill="#00ff00"/>
<path d="M637.71 36.49L640.70 31.39L634.73 31.39Z" fill="#00ff00"/>
<path d="M637.99 36.27L640.98 31.17L635.01 31.17Z" fill="#00ff00"/>
<path d="M638.27 36.04L641.25 30.94L635.29 30.94Z" fill="#00ff00"/>
<path d="M638.55 35.82L641.53 30.72L635.56 30.72Z" fill="#00ff00"/>
<path d="M638.82 35.60L641.80 30.50L635.84 30.50Z" fill="#00ff00"/>
<path d="M639.09 35.38L642.08 30.28L636.11 30.28Z" fill="#00ff00"/>
<path d="M639.36 35.16L642.35 30.06L636.38 30.06Z" fill="#00ff00"/>
<path d="M639.63 34.94L642.61 29.84L636.65 29.84Z" fill="#00ff00"/>
<path d="M639.90 34.72L642.88 29.62L636.91 29.62Z" fill="#00ff00"/>
<path d="M640.16 34.51L643.14 29.41L637.18 29.41Z" fill="#00ff00"/>
<path d="M640.42 34.30L643.40 29.20L637.44 29.20Z" fill="#00ff00"/>
<path d="M640.68 34.08L643.67 28.98L637.70 28.98Z" fill="#00ff00"/>
<path d="M640.94 33.87L643.92 28.77L637.96 28.77Z" fill="#00ff00"/>
<path d="M641.20 33.67L644.18 28.57L638.21 28.57Z" fill="#00ff00"/>
<path d="M641.45 33.46L644.44 28.36L638.47 28.36Z" fill="#00ff00"/>
<path d="M641.70 33.25L644.69 28.15L638.72 28.15Z" fill="#00ff00"/>
<path d="M641.96 33.05L644.94 27.95L638.97 27.95Z" fill="#00ff00"/>
<path d="M642.21 32.84L645.19 27.74L639.22 27.74Z" fill="#00ff00"/>
<path d="M642.45 32.64L645.44 27.54L639.47 27.54Z" fill="#00ff00"/>
<path d="M642.70 32.44L645.68 27.34L639.72 27.34Z" fill="#00ff00"/>
<path d="M642.95 32.24L645.93 27.14L639.96 27.14Z" fill="#00ff00"/>
<path d="M643.19 32.04L646.17 26.94L640.21 26.94Z" fill="#00ff00"/>
<path d="M643.43 31.85L646.41 26.75L640.45 26.75Z" fill="#00ff00"/>
<path d="M643.67 31.65L646.65 26.55L640.69 26.55Z" fill="#00ff00"/>
<path d="M643.91 31.45L646.89 26.35L640.93 26.35Z" fill="#00ff00"/>
<path d="M644.15 31.26L647.13 26.16L641.16 26.16Z" fill="#00ff00"/>
<path d="M644.38 31.07L647.36 25.97L641.40 25.97Z" fill="#00ff00"/>
<path d="M644.62 30.88L647.60 25.78L641.63 25.78Z" fill="#00ff00"/>
<path d="M644.85 30.69L647.83 25.59L641.86 25.59Z" fill="#00ff00"/>
<path d="M645.08 30.50L648.06 25.40L642.10 25.40Z" fill="#00ff00"/>
<path d="M645.31 30.31L648.29 25.21L642.33 25.21Z" fill="#00ff00"/>
<path d="M645.54 30.12L648.52 25.02L642.55 25.02Z" fill="#00ff00"/>
<path d="M645.76 29.94L648.75 24.84L642.78 24.84Z" fill="#00ff00"/>
<path d="M645.99 29.75L648.97 24.65L643.01 24.65Z" fill="#00ff00"/>
<path d="M646.21 29.57L649.20 24.47L643.23 24.47Z" fill="#00ff00"/>
<path d="M646.44 29.39L649.42 24.29L643.45 24.29Z" fill="#00ff00"/>
<path d="M646.66 29.21L649.64 24.11L643.67 24.11Z" fill="#00ff00"/>
<path d="M646.88 29.03L649.86 23.93L643.89 23.93Z" fill="#00ff00"/>
<path d="M647.10 28.85L650.08 23.75L644.11 23.75Z" fill="#00ff00"/>
<path d="M647.31 28.67L650.30 23.57L644.33 23.57Z" fill="#00ff00"/>
<path d="M647.53 28.49L650.51 23.39L644.55 23.39Z" fill="#00ff00"/>
<path d="M647.75 28.32L650.73 23.22L644.76 23.22Z" fill="#00ff00"/>
<path d="M647.96 28.14L650.94 23.04L644.98 23.04Z" fill="#00ff00"/>
<path d="M648.17 27.97L651.15 22.87L645.19 22.87Z" fill="#00ff00"/>
<path d="M648.38 27.79L651.37 22.69L645.40 22.69Z" fill="#00ff00"/>
<path d="M648.59 27.62L651.58 22.52L645.61 22.52Z" fill="#00ff00"/>
<path d="M648.80 27.45L651.79 22.35L645.82 22.35Z" fill="#00ff00"/>
<path d="M649.01 27.28L651.99 22.18L646.03 22.18Z" fill="#00ff00"/>
<path d="M649.22 27.11L652.20 22.01L646.23 22.01Z" fill="#00ff00"/>
<path d="M649.42 26.94L652.41 21.84L646.44 21.84Z" fill="#00ff00"/>
<path d="M649.63 26.77L652.61 21.67L646.64 21.67Z" fill="#00ff00"/>
<path d="M649.83 26.61L652.81 21.51L646.85 21.51Z" fill="#00ff00"/>
<path d="M650.03 26.44L653.01 21.34L647.05 21.34Z" fill="#00ff00"/>
<path d="M650.23 26.28L653.22 21.18L647.25 21.18Z" fill="#00ff00"/>
<path d="M650.43 26.11L653.42 21.01L647.45 21.01Z" fill="#00ff00"/>
<path d="M650.63 25.95L653.61 20.85L647.65 20.85Z" fill="#00ff00"/>
<path d="M650.83 25.78L653.81 20.68L647.85 20.68Z" fill="#00ff00"/>
<path d="M651.03 25.62L654.01 20.52L648.04 20.52Z" fill="#00ff00"/>
<path d="M651.22 25.46L654.20 20.36L648.24 20.36Z" fill="#00ff00"/>
<path d="M651.42 25.30L654.40 20.20L648.43 20.20Z" fill="#00ff00"/>
<path d="M651.61 25.14L654.59 20.04L648.63 20.04Z" fill="#00ff00"/>
<path d="M651.80 24.98L654.79 19.88L648.82 19.88Z" fill="#00ff00"/>
<path d="M651.99 24.83L654.98 19.73L649.01 19.73Z" fill="#00ff00"/>
<path d="M652.18 24.67L655.17 19.57L649.20 19.57Z" fill="#00ff00"/>
<path d="M652.37 24.51L655.36 19.41L649.39 19.41Z" fill="#00ff00"/>
<path d="M652.56 24.36L655.55 19.26L649.58 19.26Z" fill="#00ff00"/>
<path d="M652.75 24.20L655.73 19.10L649.77 19.10Z" fill="#00ff00"/>
<path d="M652.94 24.05L655.92 18.95L649.95 18.95Z" fill="#00ff00"/>
<path d="M653.12 23.90L656.11 18.80L650.14 18.80Z" fill="#00ff00"/>
<path d="M456.62 139.94 L482.32 137.62 L497.36 134.65 L508.03 131.51 L516.31 128.45 L523.07 125.53 L528.79 122.80 L533.74 120.24 L538.11 117.85 L542.02 115.61 L545.55 113.51 L548.78 111.53 L551.75 109.66 L554.50 107.89 L557.05 106.21 L559.45 104.62 L561.70 103.10 L563.82 101.65 L565.82 100.26 L567.72 98.93 L569.53 97.65 L571.26 96.42 L572.91 95.24 L574.49 94.10 L576.00 93.00 L577.45 91.94 L578.85 90.91 L580.20 89.91 L581.50 88.95 L582.76 88.01 L583.98 87.10 L585.16 86.22 L586.30 85.36 L587.40 84.52 L588.48 83.70 L589.52 82.91 L590.54 82.13 L591.53 81.38 L592.49 80.64 L593.43 79.92 L594.35 79.21 L595.24 78.52 L596.11 77.85 L596.97 77.18 L597.80 76.54 L598.62 75.90 L599.41 75.28 L600.19 74.67 L600.96 74.07 L601.71 73.49 L602.44 72.91 L603.16 72.35 L603.87 71.79 L604.56 71.24 L605.24 70.71 L605.91 70.18 L606.57 69.66 L607.21 69.15 L607.85 68.65 L608.47 68.15 L609.08 67.67 L609.69 67.19 L610.28 66.72 L610.86 66.25 L611.44 65.79 L612.00 65.34 L612.56 64.90 L613.11 64.46 L613.65 64.03 L614.19 63.60 L614.71 63.18 L615.23 62.76 L615.74 62.35 L616.25 61.95 L616.75 61.55 L617.24 61.15 L617.72 60.76 L618.20 60.38 L618.67 60.00 L619.14 59.62 L619.60 59.25 L620.06 58.89 L620.51 58.52 L620.95 58.16 L621.39 57.81 L621.82 57.46 L622.25 57.11 L622.67 56.77 L623.09 56.43 L623.51 56.10 L623.92 55.76 L624.32 55.44 L624.72 55.11 L625.12 54.79 L625.51 54.47 L625.90 54.16 L626.29 53.84 L626.67 53.54 L627.04 53.23 L627.42 52.93 L627.78 52.63 L628.15 52.33 L628.51 52.04 L628.87 51.74 L629.23 51.45 L629.58 51.17 L629.93 50.88 L630.27 50.60 L630.61 50.33 L630.95 50.05 L631.29 49.78 L631.62 49.50 L631.95 49.23 L632.28 48.97 L632.60 48.70 L632.92 48.44 L633.24 48.18 L633.55 47.92 L633.87 47.67 L634.18 47.41 L634.49 47.16 L634.79 46.91 L635.09 46.66 L635.39 46.42 L635.69 46.18 L635.99 45.93 L636.28 45.69 L636.57 45.45 L636.86 45.22 L637.15 44.98 L637.43 44.75 L637.71 44.52 L637.99 44.29 L638.27 44.06 L638.55 43.84 L638.82 43.61 L639.09 43.39 L639.36 43.17 L639.63 42.95 L639.90 42.73 L640.16 42.51 L640.42 42.30 L640.68 42.08 L640.94 41.87 L641.20 41.66 L641.45 41.45 L641.70 41.24 L641.96 41.03 L642.21 40.83 L642.45 40.63 L642.70 40.42 L642.95 40.22 L643.19 40.02 L643.43 39.82 L643.67 39.62 L643.91 39.43 L644.15 39.23 L644.38 39.04 L644.62 38.85 L644.85 38.65 L645.08 38.46 L645.31 38.28 L645.54 38.09 L645.76 37.90 L645.99 37.71 L646.21 37.53 L646.44 37.35 L646.66 37.16 L646.88 36.98 L647.10 36.80 L647.31 36.62 L647.53 36.44 L647.75 36.27 L647.96 36.09 L648.17 35.91 L648.38 35.74 L648.59 35.57 L648.80 35.39 L649.01 35.22 L649.22 35.05 L649.42 34.88 L649.63 34.71 L649.83 34.54 L650.03 34.38 L650.23 34.21 L650.43 34.05 L650.63 33.88 L650.83 33.72 L651.03 33.56 L651.22 33.39 L651.42 33.23 L651.61 33.07 L651.80 32.91 L651.99 32.75 L652.18 32.60 L652.37 32.44 L652.56 32.28 L652.75 32.13 L652.94 31.97 L653.12 31.82" stroke="#c83cc8" stroke-opacity="0.5" stroke-width="1.1" fill="none"/>
<path d="M456.62 136.74L459.82 139.94L456.62 143.14L453.42 139.94Z" fill="#ff00ff"/>
<path d="M482.32 134.42L485.52 137.62L482.32 140.82L479.12 137.62Z" fill="#ff00ff"/>
<path d="M497.36 131.45L500.56 134.65L497.36 137.85L494.16 134.65Z" fill="#ff00ff"/>
<path d="M508.03 128.31L511.23 131.51L508.03 134.71L504.83 131.51Z" fill="#ff00ff"/>
<path d="M516.31 125.25L519.51 128.45L516.31 131.65L513.11 128.45Z" fill="#ff00ff"/>
<path d="M523.07 122.33L526.27 125.53L523.07 128.73L519.87 125.53Z" fill="#ff00ff"/>
<path d="M528.79 119.60L531.99 122.80L528.79 126.00L525.59 122.80Z" fill="#ff00ff"/>
<path d="M533.74 117.04L536.94 120.24L533.74 123.44L530.54 120.24Z" fill="#ff00ff"/>
<path d="M538.11 114.65L541.31 117.85L538.11 121.05L534.91 117.85Z" fill="#ff00ff"/>
<path d="M542.02 112.41L545.22 115.61L542.02 118.81L538.82 115.61Z" fill="#ff00ff"/>
<path d="M545.55 110.31L548.75 113.51L545.55 116.71L542.35 113.51Z" fill="#ff00ff"/>
<path d="M548.78 108.33L551.98 111.53L548.78 114.73L545.58 111.53Z" fill="#ff00ff"/>
<path d="M551.75 106.46L554.95 109.66L551.75 112.86L548.55 109.66Z" fill="#ff00ff"/>
<path d="M554.50 104.69L557.70 107.89L554.50 111.09L551.30 107.89Z" fill="#ff00ff"/>
<path d="M557.05 103.01L560.25 106.21L557.05 109.41L553.85 106.21Z" fill="#ff00ff"/>
<path d="M559.45 101.42L562.65 104.62L559.45 107.82L556.25 104.62Z" fill="#ff00ff"/>
<path d="M561.70 99.90L564.90 103.10L561.70 106.30L558.50 103.10Z" fill="#ff00ff"/>
<path d="M563.82 98.45L567.02 101.65L563.82 104.85L560.62 101.65Z" fill="#ff00ff"/>
<path d="M565.82 97.06L569.02 100.26L565.82 103.46L562.62 100.26Z" fill="#ff00ff"/>
<path d="M567.72 95.73L570.92 98.93L567.72 102.13L564.52 98.93Z" fill="#ff00ff"/>
<path d="M569.53 94.45L572.73 97.65L569.53 100.85L566.33 97.65Z" fill="#ff00ff"/>
<path d="M571.26 93.22L574.46 96.42L571.26 99.62L568.06 96.42Z" fill="#ff00ff"/>
<path d="M572.91 92.04L576.11 95.24L572.91 98.44L569.71 95.24Z" fill="#ff00ff"/>
<path d="M574.49 90.90L577.69 94.10L574.49 97.30L571.29 94.10Z" fill="#ff00ff"/>
<path d="M576.00 89.80L579.20 93.00L576.00 96.20L572.80 93.00Z" fill="#ff00ff"/>
<path d="M577.45 88.74L580.65 91.94L577.45 95.14L574.25 91.94Z" fill="#ff00ff"/>
<path d="M578.85 87.71L582.05 90.91L578.85 94.11L575.65 90.91Z" fill="#ff00ff"/>
<path d="M580.20 86.71L583.40 89.91L580.20 93.11L577.00 89.91Z" fill="#ff00ff"/>
<path d="M581.50 85.75L584.70 88.95L581.50 92.15L578.30 88.95Z" fill="#ff00ff"/>
<path d="M582.76 84.81L585.96 88.01L582.76 91.21L579.56 88.01Z" fill="#ff00ff"/>
<path d="M583.98 83.90L587.18 87.10L583.98 90.30L580.78 87.10Z" fill="#ff00ff"/>
<path d="M585.16 83.02L588.36 86.22L585.16 89.42L581.96 86.22Z" fill="#ff00ff"/>
<path d="M586.30 82.16L589.50 85.36L586.30 88.56L583.10 85.36Z" fill="#ff00ff"/>
<path d="M587.40 81.32L590.60 84.52L587.40 87.72L584.20 84.52Z" fill="#ff00ff"/>
<path d="M588.48 80.50L591.68 83.70L588.48 86.90L585.28 83.70Z" fill="#ff00ff"/>
<path d="M589.52 79.71L592.72 82.91L589.52 86.11L586.32 82.91Z" fill="#ff00ff"/>
<path d="M590.54 78.93L593.74 82.13L590.54 85.33L587.34 82.13Z" fill="#ff00ff"/>
<path d="M591.53 78.18L594.73 81.38L591.53 84.58L588.33 81.38Z" fill="#ff00ff"/>
<path d="M592.49 77.44L595.69 80.64L592.49 83.84L589.29 80.64Z" fill="#ff00ff"/>
<path d="M593.43 76.72L596.63 79.92L593.43 83.12L590.23 79.92Z" fill="#ff00ff"/>
<path d="M594.35 76.01L597.55 79.21L594.35 82.41L591.15 79.21Z" fill="#ff00ff"/>
<path d="M595.24 75.32L598.44 78.52L595.24 81.72L592.04 78.52Z" fill="#ff00ff"/>
<path d="M596.11 74.65L599.31 77.85L596.11 81.05L592.91 77.85Z" fill="#ff00ff"/>
<path d="M596.97 73.98L600.17 77.18L596.97 80.38L593.77 77.18Z" fill="#ff00ff"/>
<path d="M597.80 73.34L601.00 76.54L597.80 79.74L594.60 76.54Z" fill="#ff00ff"/>
<path d="M598.62 72.70L601.82 75.90L598.62 79.10L595.42 75.90Z" fill="#ff00ff"/>
<path d="M599.41 72.08L602.61 75.28L599.41 78.48L596.21 75.28Z" fill="#ff00ff"/>
<path d="M600.19 71.47L603.39 74.67L600.19 77.87L596.99 74.67Z" fill="#ff00ff"/>
<path d="M600.96 70.87L604.16 74.07L600.96 77.27L597.76 74.07Z" fill="#ff00ff"/>
<path d="M601.71 70.29L604.91 73.49L601.71 76.69L598.51 73.49Z" fill="#ff00ff"/>
<path d="M602.44 69.71L605.64 72.91L602.44 76.11L599.24 72.91Z" fill="#ff00ff"/>
<path d="M603.16 69.15L606.36 72.35L603.16 75.55L599.96 72.35Z" fill="#ff00ff"/>
<path d="M603.87 68.59L607.07 71.79L603.87 74.99L600.67 71.79Z" fill="#ff00ff"/>
<path d="M604.56 68.04L607.76 71.24L604.56 74.44L601.36 71.24Z" fill="#ff00ff"/>
<path d="M605.24 67.51L608.44 70.71L605.24 73.91L602.04 70.71Z" fill="#ff00ff"/>
<path d="M605.91 66.98L609.11 70.18L605.91 73.38L602.71 70.18Z" fill="#ff00ff"/>
<path d="M606.57 66.46L609.77 69.66L606.57 72.86L603.37 69.66Z" fill="#ff00ff"/>
<path d="M607.21 65.95L610.41 69.15L607.21 72.35L604.01 69.15Z" fill="#ff00ff"/>
<path d="M607.85 65.45L611.05 68.65L607.85 71.85L604.65 68.65Z" fill="#ff00ff"/>
<path d="M608.47 64.95L611.67 68.15L608.47 71.35L605.27 68.15Z" fill="#ff00ff"/>
<path d="M609.08 64.47L612.28 67.67L609.08 70.87L605.88 67.67Z" fill="#ff00ff"/>
<path d="M609.69 63.99L612.89 67.19L609.69 70.39L606.49 67.19Z" fill="#ff00ff"/>
<path d="M610.28 63.52L613.48 66.72L610.28 69.92L607.08 66.72Z" fill="#ff00ff"/>
<path d="M610.86 63.05L614.06 66.25L610.86 69.45L607.66 66.25Z" fill="#ff00ff"/>
<path d="M611.44 62.59L614.64 65.79L611.44 68.99L608.24 65.79Z" fill="#ff00ff"/>
<path d="M612.00 62.14L615.20 65.34L612.00 68.54L608.80 65.34Z" fill="#ff00ff"/>
<path d="M612.56 61.70L615.76 64.90L612.56 68.10L609.36 64.90Z" fill="#ff00ff"/>
<path d="M613.11 61.26L616.31 64.46L613.11 67.66L609.91 64.46Z" fill="#ff00ff"/>
<path d="M613.65 60.83L616.85 64.03L613.65 67.23L610.45 64.03Z" fill="#ff00ff"/>
<path d="M614.19 60.40L617.39 63.60L614.19 66.80L610.99 63.60Z" fill="#ff00ff"/>
<path d="M614.71 59.98L617.91 63.18L614.71 66.38L611.51 63.18Z" fill="#ff00ff"/>
<path d="M615.23 59.56L618.43 62.76L615.23 65.96L612.03 62.76Z" fill="#ff00ff"/>
<path d="M615.74 59.15L618.94 62.35L615.74 65.55L612.54 62.35Z" fill="#ff00ff"/>
<path d="M616.25 58.75L619.45 61.95L616.25 65.15L613.05 61.95Z" fill="#ff00ff"/>
<path d="M616.75 58.35L619.95 61.55L616.75 64.75L613.55 61.55Z" fill="#ff00ff"/>
<path d="M617.24 57.95L620.44 61.15L617.24 64.35L614.04 61.15Z" fill="#ff00ff"/>
<path d="M617.72 57.56L620.92 60.76L617.72 63.96L614.52 60.76Z" fill="#ff00ff"/>
<path d="M618.20 57.18L621.40 60.38L618.20 63.58L615.00 60.38Z" fill="#ff00ff"/>
<path d="M618.67 56.80L621.87 60.00L618.67 63.20L615.47 60.00Z" fill="#ff00ff"/>
<path d="M619.14 56.42L622.34 59.62L619.14 62.82L615.94 59.62Z" fill="#ff00ff"/>
<path d="M619.60 56.05L622.80 59.25L619.60 62.45L616.40 59.25Z" fill="#ff00ff"/>
<path d="M620.06 55.69L623.26 58.89L620.06 62.09L616.86 58.89Z" fill="#ff00ff"/>
<path d="M620.51 55.32L623.71 58.52L620.51 61.72L617.31 58.52Z" fill="#ff00ff"/>
<path d="M620.95 54.96L624.15 58.16L620.95 61.36L617.75 58.16Z" fill="#ff00ff"/>
<path d="M621.39 54.61L624.59 57.81L621.39 61.01L618.19 57.81Z" fill="#ff00ff"/>
<path d="M621.82 54.26L625.02 57.46L621.82 60.66L618.62 57.46Z" fill="#ff00ff"/>
<path d="M622.25 53.91L625.45 57.11L622.25 60.31L619.05 57.11Z" fill="#ff00ff"/>
<path d="M622.67 53.57L625.87 56.77L622.67 59.97L619.47 56.77Z" fill="#ff00ff"/>
<path d="M623.09 53.23L626.29 56.43L623.09 59.63L619.89 56.43Z" fill="#ff00ff"/>
<path d="M623.51 52.90L626.71 56.10L623.51 59.30L620.31 56.10Z" fill="#ff00ff"/>
<path d="M623.92 52.56L627.12 55.76L623.92 58.96L620.72 55.76Z" fill="#ff00ff"/>
<path d="M624.32 52.24L627.52 55.44L624.32 58.64L621.12 55.44Z" fill="#ff00ff"/>
<path d="M624.72 51.91L627.92 55.11L624.72 58.31L621.52 55.11Z" fill="#ff00ff"/>
<path d="M625.12 51.59L628.32 54.79L625.12 57.99L621.92 54.79Z" fill="#ff00ff"/>
<path d="M625.51 51.27L628.71 54.47L625.51 57.67L622.31 54.47Z" fill="#ff00ff"/>
<path d="M625.90 50.96L629.10 54.16L625.90 57.36L622.70 54.16Z" fill="#ff00ff"/>
<path d="M626.29 50.64L629.49 53.84L626.29 57.04L623.09 53.84Z" fill="#ff00ff"/>
<path d="M626.67 50.34L629.87 53.54L626.67 56.74L623.47 53.54Z" fill="#ff00ff"/>
<path d="M627.04 50.03L630.24 53.23L627.04 56.43L623.84 53.23Z" fill="#ff00ff"/>
<path d="M627.42 49.73L630.62 52.93L627.42 56.13L624.22 52.93Z" fill="#ff00ff"/>
<path d="M627.78 49.43L630.98 52.63L627.78 55.83L624.58 52.63Z" fill="#ff00ff"/>
<path d="M628.15 49.13L631.35 52.33L628.15 55.53L624.95 52.33Z" fill="#ff00ff"/>
<path d="M628.51 48.84L631.71 52.04L628.51 55.24L625.31 52.04Z" fill="#ff00ff"/>
<path d="M628.87 48.54L632.07 51.74L628.87 54.94L625.67 51.74Z" fill="#ff00ff"/>
<path d="M629.23 48.25L632.43 51.45L629.23 54.65L626.03 51.45Z" fill="#ff00ff"/>
<path d="M629.58 47.97L632.78 51.17L629.58 54.37L626.38 51.17Z" fill="#ff00ff"/>
<path d="M629.93 47.68L633.13 50.88L629.93 54.08L626.73 50.88Z" fill="#ff00ff"/>
<path d="M630.27 47.40L633.47 50.60L630.27 53.80L627.07 50.60Z" fill="#ff00ff"/>
<path d="M630.61 47.13L633.81 50.33L630.61 53.53L627.41 50.33Z" fill="#ff00ff"/>
<path d="M630.95 46.85L634.15 50.05L630.95 53.25L627.75 50.05Z" fill="#ff00ff"/>
<path d="M631.29 46.58L634.49 49.78L631.29 52.98L628.09 49.78Z" fill="#ff00ff"/>
<path d="M631.62 46.30L634.82 49.50L631.62 52.70L628.42 49.50Z" fill="#ff00ff"/>
<path d="M631.95 46.03L635.15 49.23L631.95 52.43L628.75 49.23Z" fill="#ff00ff"/>
<path d="M632.28 45.77L635.48 48.97L632.28 52.17L629.08 48.97Z" fill="#ff00ff"/>
<path d="M632.60 45.50L635.80 48.70L632.60 51.90L629.40 48.70Z" fill="#ff00ff"/>
<path d="M632.92 45.24L636.12 48.44L632.92 51.64L629.72 48.44Z" fill="#ff00ff"/>
<path d="M633.24 44.98L636.44 48.18L633.24 51.38L630.04 48.18Z" fill="#ff00ff"/>
<path d="M633.55 44.72L636.75 47.92L633.55 51.12L630.35 47.92Z" fill="#ff00ff"/>
<path d="M633.87 44.47L637.07 47.67L633.87 50.87L630.67 47.67Z" fill="#ff00ff"/>
<path d="M634.18 44.21L637.38 47.41L634.18 50.61L630.98 47.41Z" fill="#ff00ff"/>
<path d="M634.49 43.96L637.69 47.16L634.49 50.36L631.29 47.16Z" fill="#ff00ff"/>
<path d="M634.79 43.71L637.99 46.91L634.79 50.11L631.59 46.91Z" fill="#ff00ff"/>
<path d="M635.09 43.46L638.29 46.66L635.09 49.86L631.89 46.66Z" fill="#ff00ff"/>
<path d="M635.39 43.22L638.59 46.42L635.39 49.62L632.19 46.42Z" fill="#ff00ff"/>
<path d="M635.69 42.98L638.89 46.18L635.69 49.38L632.49 46.18Z" fill="#ff00ff"/>
<path d="M635.99 42.73L639.19 45.93L635.99 49.13L632.79 45.93Z" fill="#ff00ff"/>
<path d="M636.28 42.49L639.48 45.69L636.28 48.89L633.08 45.69Z" fill="#ff00ff"/>
<path d="M636.57 42.25L639.77 45.45L636.57 48.65L633.37 45.45Z" fill="#ff00ff"/>
<path d="M636.86 42.02L640.06 45.22L636.86 48.42L633.66 45.22Z" fill="#ff00ff"/>
<path d="M637.15 41.78L640.35 44.98L637.15 48.18L633.95 44.98Z" fill="#ff00ff"/>
<path d="M637.43 41.55L640.63 44.75L637.43 47.95L634.23 44.75Z" fill="#ff00ff"/>
<path d="M637.71 41.32L640.91 44.52L637.71 47.72L634.51 44.52Z" fill="#ff00ff"/>
<path d="M637.99 41.09L641.19 44.29L637.99 47.49L634.79 44.29Z" fill="#ff00ff"/>
<path d="M638.27 40.86L641.47 44.06L638.27 47.26L635.07 44.06Z" fill="#ff00ff"/>
<path d="M638.55 40.64L641.75 43.84L638.55 47.04L635.35 43.84Z" fill="#ff00ff"/>
<path d="M638.82 40.41L642.02 43.61L638.82 46.81L635.62 43.61Z" fill="#ff00ff"/>
<path d="M639.09 40.19L642.29 43.39L639.09 46.59L635.89 43.39Z" fill="#ff00ff"/>
<path d="M639.36 39.97L642.56 43.17L639.36 46.37L636.16 43.17Z" fill="#ff00ff"/>
<path d="M639.63 39.75L642.83 42.95L639.63 46.15L636.43 42.95Z" fill="#ff00ff"/>
<path d="M639.90 39.53L643.10 42.73L639.90 45.93L636.70 42.73Z" fill="#ff00ff"/>
<path d="M640.16 39.31L643.36 42.51L640.16 45.71L636.96 42.51Z" fill="#ff00ff"/>
<path d="M640.42 39.10L643.62 42.30L640.42 45.50L637.22 42.30Z" fill="#ff00ff"/>
<path d="M640.68 38.88L643.88 42.08L640.68 45.28L637.48 42.08Z" fill="#ff00ff"/>
<path d="M640.94 38.67L644.14 41.87L640.94 45.07L637.74 41.87Z" fill="#ff00ff"/>
<path d="M641.20 38.46L644.40 41.66L641.20 44.86L638.00 41.66Z" fill="#ff00ff"/>
<path d="M641.45 38.25L644.65 41.45L641.45 44.65L638.25 41.45Z" fill="#ff00ff"/>
<path d="M641.70 38.04L644.90 41.24L641.70 44.44L638.50 41.24Z" fill="#ff00ff"/>
<path d="M641.96 37.83L645.16 41.03L641.96 44.23L638.76 41.03Z" fill="#ff00ff"/>
<path d="M642.21 37.63L645.41 40.83L642.21 44.03L639.01 40.83Z" fill="#ff00ff"/>
<path d="M642.45 37.43L645.65 40.63L642.45 43.83L639.25 40.63Z" fill="#ff00ff"/>
<path d="M642.70 37.22L645.90 40.42L642.70 43.62L639.50 40.42Z" fill="#ff00ff"/>
<path d="M642.95 37.02L646.15 40.22L642.95 43.42L639.75 40.22Z" fill="#ff00ff"/>
<path d="M643.19 36.82L646.39 40.02L643.19 43.22L639.99 40.02Z" fill="#ff00ff"/>
<path d="M643.43 36.62L646.63 39.82L643.43 43.02L640.23 39.82Z" fill="#ff00ff"/>
<path d="M643.67 36.42L646.87 39.62L643.67 42.82L640.47 39.62Z" fill="#ff00ff"/>
<path d="M643.91 36.23L647.11 39.43L643.91 42.63L640.71 39.43Z" fill="#ff00ff"/>
<path d="M644.15 36.03L647.35 39.23L644.15 42.43L640.95 39.23Z" fill="#ff00ff"/>
<path d="M644.38 35.84L647.58 39.04L644.38 42.24L641.18 39.04Z" fill="#ff00ff"/>
<path d="M644.62 35.65L647.82 38.85L644.62 42.05L641.42 38.85Z" fill="#ff00ff"/>
<path d="M644.85 35.45L648.05 38.65L644.85 41.85L641.65 38.65Z" fill="#ff00ff"/>
<path d="M645.08 35.26L648.28 38.46L645.08 41.66L641.88 38.46Z" fill="#ff00ff"/>
<path d="M645.31 35.08L648.51 38.28L645.31 41.48L642.11 38.28Z" fill="#ff00ff"/>
<path d="M645.54 34.89L648.74 38.09L645.54 41.29L642.34 38.09Z" fill="#ff00ff"/>
<path d="M645.76 34.70L648.96 37.90L645.76 41.10L642.56 37.90Z" fill="#ff00ff"/>
<path d="M645.99 34.51L649.19 37.71L645.99 40.91L642.79 37.71Z" fill="#ff00ff"/>
<path d="M646.21 34.33L649.41 37.53L646.21 40.73L643.01 37.53Z" fill="#ff00ff"/>
<path d="M646.44 34.15L649.64 37.35L646.44 40.55L643.24 37.35Z" fill="#ff00ff"/>
<path d="M646.66 33.96L649.86 37.16L646.66 40.36L643.46 37.16Z" fill="#ff00ff"/>
<path d="M646.88 33.78L650.08 36.98L646.88 40.18L643.68 36.98Z" fill="#ff00ff"/>
<path d="M647.10 33.60L650.30 36.80L647.10 40.00L643.90 36.80Z" fill="#ff00ff"/>
<path d="M647.31 33.42L650.51 36.62L647.31 39.82L644.11 36.62Z" fill="#ff00ff"/>
<path d="M647.53 33.24L650.73 36.44L647.53 39.64L644.33 36.44Z" fill="#ff00ff"/>
<path d="M647.75 33.07L650.95 36.27L647.75 39.47L644.55 36.27Z" fill="#ff00ff"/>
<path d="M647.96 32.89L651.16 36.09L647.96 39.29L644.76 36.09Z" fill="#ff00ff"/>
<path d="M648.17 32.71L651.37 35.91L648.17 39.11L644.97 35.91Z" fill="#ff00ff"/>
<path d="M648.38 32.54L651.58 35.74L648.38 38.94L645.18 35.74Z" fill="#ff00ff"/>
<path d="M648.59 32.37L651.79 35.57L648.59 38.77L645.39 35.57Z" fill="#ff00ff"/>
<path d="M648.80 32.19L652.00 35.39L648.80 38.59L645.60 35.39Z" fill="#ff00ff"/>
<path d="M649.01 32.02L652.21 35.22L649.01 38.42L645.81 35.22Z" fill="#ff00ff"/>
<path d="M649.22 31.85L652.42 35.05L649.22 38.25L646.02 35.05Z" fill="#ff00ff"/>
<path d="M649.42 31.68L652.62 34.88L649.42 38.08L646.22 34.88Z" fill="#ff00ff"/>
<path d="M649.63 31.51L652.83 34.71L649.63 37.91L646.43 34.71Z" fill="#ff00ff"/>
<path d="M649.83 31.34L653.03 34.54L649.83 37.74L646.63 34.54Z" fill="#ff00ff"/>
<path d="M650.03 31.18L653.23 34.38L650.03 37.58L646.83 34.38Z" fill="#ff00ff"/>
<path d="M650.23 31.01L653.43 34.21L650.23 37.41L647.03 34.21Z" fill="#ff00ff"/>
<path d="M650.43 30.85L653.63 34.05L650.43 37.25L647.23 34.05Z" fill="#ff00ff"/>
<path d="M650.63 30.68L653.83 33.88L650.63 37.08L647.43 33.88Z" fill="#ff00ff"/>
<path d="M650.83 30.52L654.03 33.72L650.83 36.92L647.63 33.72Z" fill="#ff00ff"/>
<path d="M651.03 30.36L654.23 33.56L651.03 36.76L647.83 33.56Z" fill="#ff00ff"/>
<path d="M651.22 30.19L654.42 33.39L651.22 36.59L648.02 33.39Z" fill="#ff00ff"/>
<path d="M651.42 30.03L654.62 33.23L651.42 36.43L648.22 33.23Z" fill="#ff00ff"/>
<path d="M651.61 29.87L654.81 33.07L651.61 36.27L648.41 33.07Z" fill="#ff00ff"/>
<path d="M651.80 29.71L655.00 32.91L651.80 36.11L648.60 32.91Z" fill="#ff00ff"/>
<path d="M651.99 29.55L655.19 32.75L651.99 35.95L648.79 32.75Z" fill="#ff00ff"/>
<path d="M652.18 29.40L655.38 32.60L652.18 35.80L648.98 32.60Z" fill="#ff00ff"/>
<path d="M652.37 29.24L655.57 32.44L652.37 35.64L649.17 32.44Z" fill="#ff00ff"/>
<path d="M652.56 29.08L655.76 32.28L652.56 35.48L649.36 32.28Z" fill="#ff00ff"/>
<path d="M652.75 28.93L655.95 32.13L652.75 35.33L649.55 32.13Z" fill="#ff00ff"/>
<path d="M652.94 28.77L656.14 31.97L652.94 35.17L649.74 31.97Z" fill="#ff00ff"/>
<path d="M653.12 28.62L656.32 31.82L653.12 35.02L649.92 31.82Z" fill="#ff00ff"/>
</g>
<rect x="93.7" y="1" width="2.3" height="216.3" fill="#000"/>
<rect x="93.7" y="214.8" width="267.9" height="2.7" fill="#000"/>
<rect x="96" y="195.50" width="1.5" height="2" fill="#000"/>
<text x="89.8" y="220.60" class="tk" text-anchor="end" style="font-size:13.2px">0.0000000</text>
<rect x="96" y="176.00" width="3" height="2" fill="#000"/>
<rect x="96" y="156.50" width="1.5" height="2" fill="#000"/>
<text x="89.8" y="181.60" class="tk" text-anchor="end" style="font-size:13.2px">0.0000005</text>
<rect x="96" y="137.00" width="3" height="2" fill="#000"/>
<rect x="96" y="117.50" width="1.5" height="2" fill="#000"/>
<text x="89.8" y="142.60" class="tk" text-anchor="end" style="font-size:13.2px">0.0000010</text>
<rect x="96" y="98.00" width="3" height="2" fill="#000"/>
<rect x="96" y="78.50" width="1.5" height="2" fill="#000"/>
<text x="89.8" y="103.60" class="tk" text-anchor="end" style="font-size:13.2px">0.0000015</text>
<rect x="96" y="59.00" width="3" height="2" fill="#000"/>
<rect x="96" y="39.50" width="1.5" height="2" fill="#000"/>
<text x="89.8" y="64.60" class="tk" text-anchor="end" style="font-size:13.2px">0.0000020</text>
<rect x="96" y="20.00" width="3" height="2" fill="#000"/>
<rect x="96" y="0.50" width="1.5" height="2" fill="#000"/>
<text x="89.8" y="25.60" class="tk" text-anchor="end" style="font-size:13.2px">0.0000025</text>
<rect x="153.75" y="213.5" width="2" height="1.5" fill="#000"/>
<text x="121.50" y="231.2" class="tk" text-anchor="middle">0</text>
<rect x="187.00" y="212" width="2" height="3" fill="#000"/>
<rect x="220.25" y="213.5" width="2" height="1.5" fill="#000"/>
<text x="188.00" y="231.2" class="tk" text-anchor="middle">2500000</text>
<rect x="253.50" y="212" width="2" height="3" fill="#000"/>
<rect x="286.75" y="213.5" width="2" height="1.5" fill="#000"/>
<text x="254.50" y="231.2" class="tk" text-anchor="middle">5000000</text>
<rect x="320.00" y="212" width="2" height="3" fill="#000"/>
<rect x="353.25" y="213.5" width="2" height="1.5" fill="#000"/>
<text x="321.00" y="231.2" class="tk" text-anchor="middle">7500000</text>
<rect x="425" y="3.2" width="2.3" height="209.6" fill="#000"/>
<rect x="425" y="210.3" width="258.3" height="2.5" fill="#000"/>
<rect x="427" y="11.00" width="3" height="2" fill="#000"/>
<rect x="427" y="29.13" width="1.5" height="2" fill="#000"/>
<text x="421.6" y="16.50" class="tk" text-anchor="end" style="font-size:12.5px">-5.5</text>
<rect x="427" y="47.26" width="3" height="2" fill="#000"/>
<rect x="427" y="65.39" width="1.5" height="2" fill="#000"/>
<text x="421.6" y="52.76" class="tk" text-anchor="end" style="font-size:12.5px">-6.0</text>
<rect x="427" y="83.52" width="3" height="2" fill="#000"/>
<rect x="427" y="101.65" width="1.5" height="2" fill="#000"/>
<text x="421.6" y="89.02" class="tk" text-anchor="end" style="font-size:12.5px">-6.5</text>
<rect x="427" y="119.78" width="3" height="2" fill="#000"/>
<rect x="427" y="137.91" width="1.5" height="2" fill="#000"/>
<text x="421.6" y="125.28" class="tk" text-anchor="end" style="font-size:12.5px">-7.0</text>
<rect x="427" y="156.04" width="3" height="2" fill="#000"/>
<rect x="427" y="174.17" width="1.5" height="2" fill="#000"/>
<text x="421.6" y="161.54" class="tk" text-anchor="end" style="font-size:12.5px">-7.5</text>
<rect x="427" y="192.30" width="3" height="2" fill="#000"/>
<text x="421.6" y="197.80" class="tk" text-anchor="end" style="font-size:12.5px">-8.0</text>
<rect x="446.80" y="207.4" width="2.2" height="3" fill="#000"/>
<rect x="468.25" y="209" width="2" height="1.4" fill="#000"/>
<text x="447.90" y="226.0" class="tk" text-anchor="middle" style="font-size:12.4px">4.5</text>
<rect x="489.50" y="207.4" width="2.2" height="3" fill="#000"/>
<rect x="510.95" y="209" width="2" height="1.4" fill="#000"/>
<text x="490.60" y="226.0" class="tk" text-anchor="middle" style="font-size:12.4px">5.0</text>
<rect x="532.20" y="207.4" width="2.2" height="3" fill="#000"/>
<rect x="553.65" y="209" width="2" height="1.4" fill="#000"/>
<text x="533.30" y="226.0" class="tk" text-anchor="middle" style="font-size:12.4px">5.5</text>
<rect x="574.90" y="207.4" width="2.2" height="3" fill="#000"/>
<rect x="596.35" y="209" width="2" height="1.4" fill="#000"/>
<text x="576.00" y="226.0" class="tk" text-anchor="middle" style="font-size:12.4px">6.0</text>
<rect x="617.60" y="207.4" width="2.2" height="3" fill="#000"/>
<rect x="639.05" y="209" width="2" height="1.4" fill="#000"/>
<text x="618.70" y="226.0" class="tk" text-anchor="middle" style="font-size:12.4px">6.5</text>
<rect x="660.30" y="207.4" width="2.2" height="3" fill="#000"/>
<rect x="681.75" y="209" width="2" height="1.4" fill="#000"/>
<text x="661.40" y="226.0" class="tk" text-anchor="middle" style="font-size:12.4px">7.0</text>
<text x="101.5" y="23.0" class="pl">(a)</text>
<text x="437.0" y="25.4" class="pl">(b)</text>
<text x="526" y="245" class="ttl">Log(<tspan class="ser" font-size="19px">ω</tspan>)</text>
<text transform="translate(394.2,135.9) rotate(-90)" class="ttl">Log(<tspan font-weight="normal" dx="-0.8">σ</tspan><tspan dx="-0.4">)</tspan></text>
<text x="198.0" y="250.6" class="sb" font-size="18.5px" style="font-weight:normal" stroke="#000" stroke-width="0.4">ω</text>
<text x="216.6" y="250.6" class="sb" font-size="18.8px">(</text>
<text x="223.2" y="250.8" class="sb" font-size="17.6px">Hz</text>
<text x="245.7" y="250.6" class="sb" font-size="18.8px">)</text>
<text transform="translate(21.6,163.8) rotate(-90)" class="sr" font-size="22px" >σ</text>
<text transform="translate(21.0,142.7) rotate(-90)" class="sb" font-size="22.5px" >(</text>
<text transform="translate(21.1,137.1) rotate(-90)" class="sb" font-size="22.5px" >Ω</text>
<text transform="translate(11.7,118.8) rotate(-90)" class="sb" font-size="15.5px" >-1</text>
<text transform="translate(21.0,105.7) rotate(-90)" class="sb" font-size="22.5px" >.</text>
<text transform="translate(21.1,94.4) rotate(-90)" class="sb" font-size="22.5px" >m</text>
<text transform="translate(11.7,76.5) rotate(-90)" class="sb" font-size="15.5px" >-1</text>
<text transform="translate(21.0,63.5) rotate(-90)" class="sb" font-size="22.5px" >)</text>
<rect x="110.5" y="45.5" width="75.5" height="83" fill="#fff" stroke="#a0a0a0" stroke-width="1"/>
<line x1="112.5" x2="141.7" y1="54.5" y2="54.5" stroke="#000000" stroke-opacity="0.6" stroke-width="1"/>
<rect x="125.00" y="52.20" width="4.60" height="4.60" fill="#000000"/>
<text x="145.4" y="59.2" class="lg" style="font-size:13px">5 min</text>
<line x1="112.5" x2="141.7" y1="70.7" y2="70.7" stroke="#c83c3c" stroke-opacity="0.4" stroke-width="1"/>
<circle cx="127.30" cy="70.70" r="2.70" fill="#ff0000"/>
<text x="145.4" y="75.4" class="lg" style="font-size:13px">10 min</text>
<line x1="112.5" x2="141.7" y1="86.9" y2="86.9" stroke="#3c3cb4" stroke-opacity="0.4" stroke-width="1"/>
<path d="M127.30 83.50L130.28 88.60L124.32 88.60Z" fill="#0000ff"/>
<text x="145.4" y="91.60000000000001" class="lg" style="font-size:13px">15 min</text>
<line x1="112.5" x2="141.7" y1="103.1" y2="103.1" stroke="#3cc83c" stroke-opacity="0.4" stroke-width="1"/>
<path d="M127.30 106.50L130.28 101.40L124.32 101.40Z" fill="#00ff00"/>
<text x="145.4" y="107.8" class="lg" style="font-size:13px">20min</text>
<line x1="112.5" x2="141.7" y1="119.3" y2="119.3" stroke="#c83cc8" stroke-opacity="0.4" stroke-width="1"/>
<path d="M127.30 116.10L130.50 119.30L127.30 122.50L124.10 119.30Z" fill="#ff00ff"/>
<text x="145.4" y="124.0" class="lg" style="font-size:13px">25min</text>
<rect x="584.5" y="119.5" width="73" height="79" fill="#fff" stroke="#a0a0a0" stroke-width="1"/>
<line x1="586.3" x2="614.4" y1="127.5" y2="127.5" stroke="#000000" stroke-opacity="0.6" stroke-width="1"/>
<rect x="598.10" y="125.20" width="4.60" height="4.60" fill="#000000"/>
<text x="618.6" y="132.2" class="lg" style="font-size:12.6px">5 min</text>
<line x1="586.3" x2="614.4" y1="143.4" y2="143.4" stroke="#c83c3c" stroke-opacity="0.4" stroke-width="1"/>
<circle cx="600.40" cy="143.40" r="2.70" fill="#ff0000"/>
<text x="618.6" y="148.1" class="lg" style="font-size:12.6px">10 min</text>
<line x1="586.3" x2="614.4" y1="159.0" y2="159.0" stroke="#3c3cb4" stroke-opacity="0.4" stroke-width="1"/>
<path d="M600.40 155.60L603.38 160.70L597.42 160.70Z" fill="#0000ff"/>
<text x="618.6" y="163.7" class="lg" style="font-size:12.6px">15 min</text>
<line x1="586.3" x2="614.4" y1="174.6" y2="174.6" stroke="#3cc83c" stroke-opacity="0.4" stroke-width="1"/>
<path d="M600.40 178.00L603.38 172.90L597.42 172.90Z" fill="#00ff00"/>
<text x="618.6" y="179.29999999999998" class="lg" style="font-size:12.6px">20min</text>
<line x1="586.3" x2="614.4" y1="190.2" y2="190.2" stroke="#c83cc8" stroke-opacity="0.4" stroke-width="1"/>
<path d="M600.40 187.00L603.60 190.20L600.40 193.40L597.20 190.20Z" fill="#ff00ff"/>
<text x="618.6" y="194.89999999999998" class="lg" style="font-size:12.6px">25min</text>
</svg></body></html>
